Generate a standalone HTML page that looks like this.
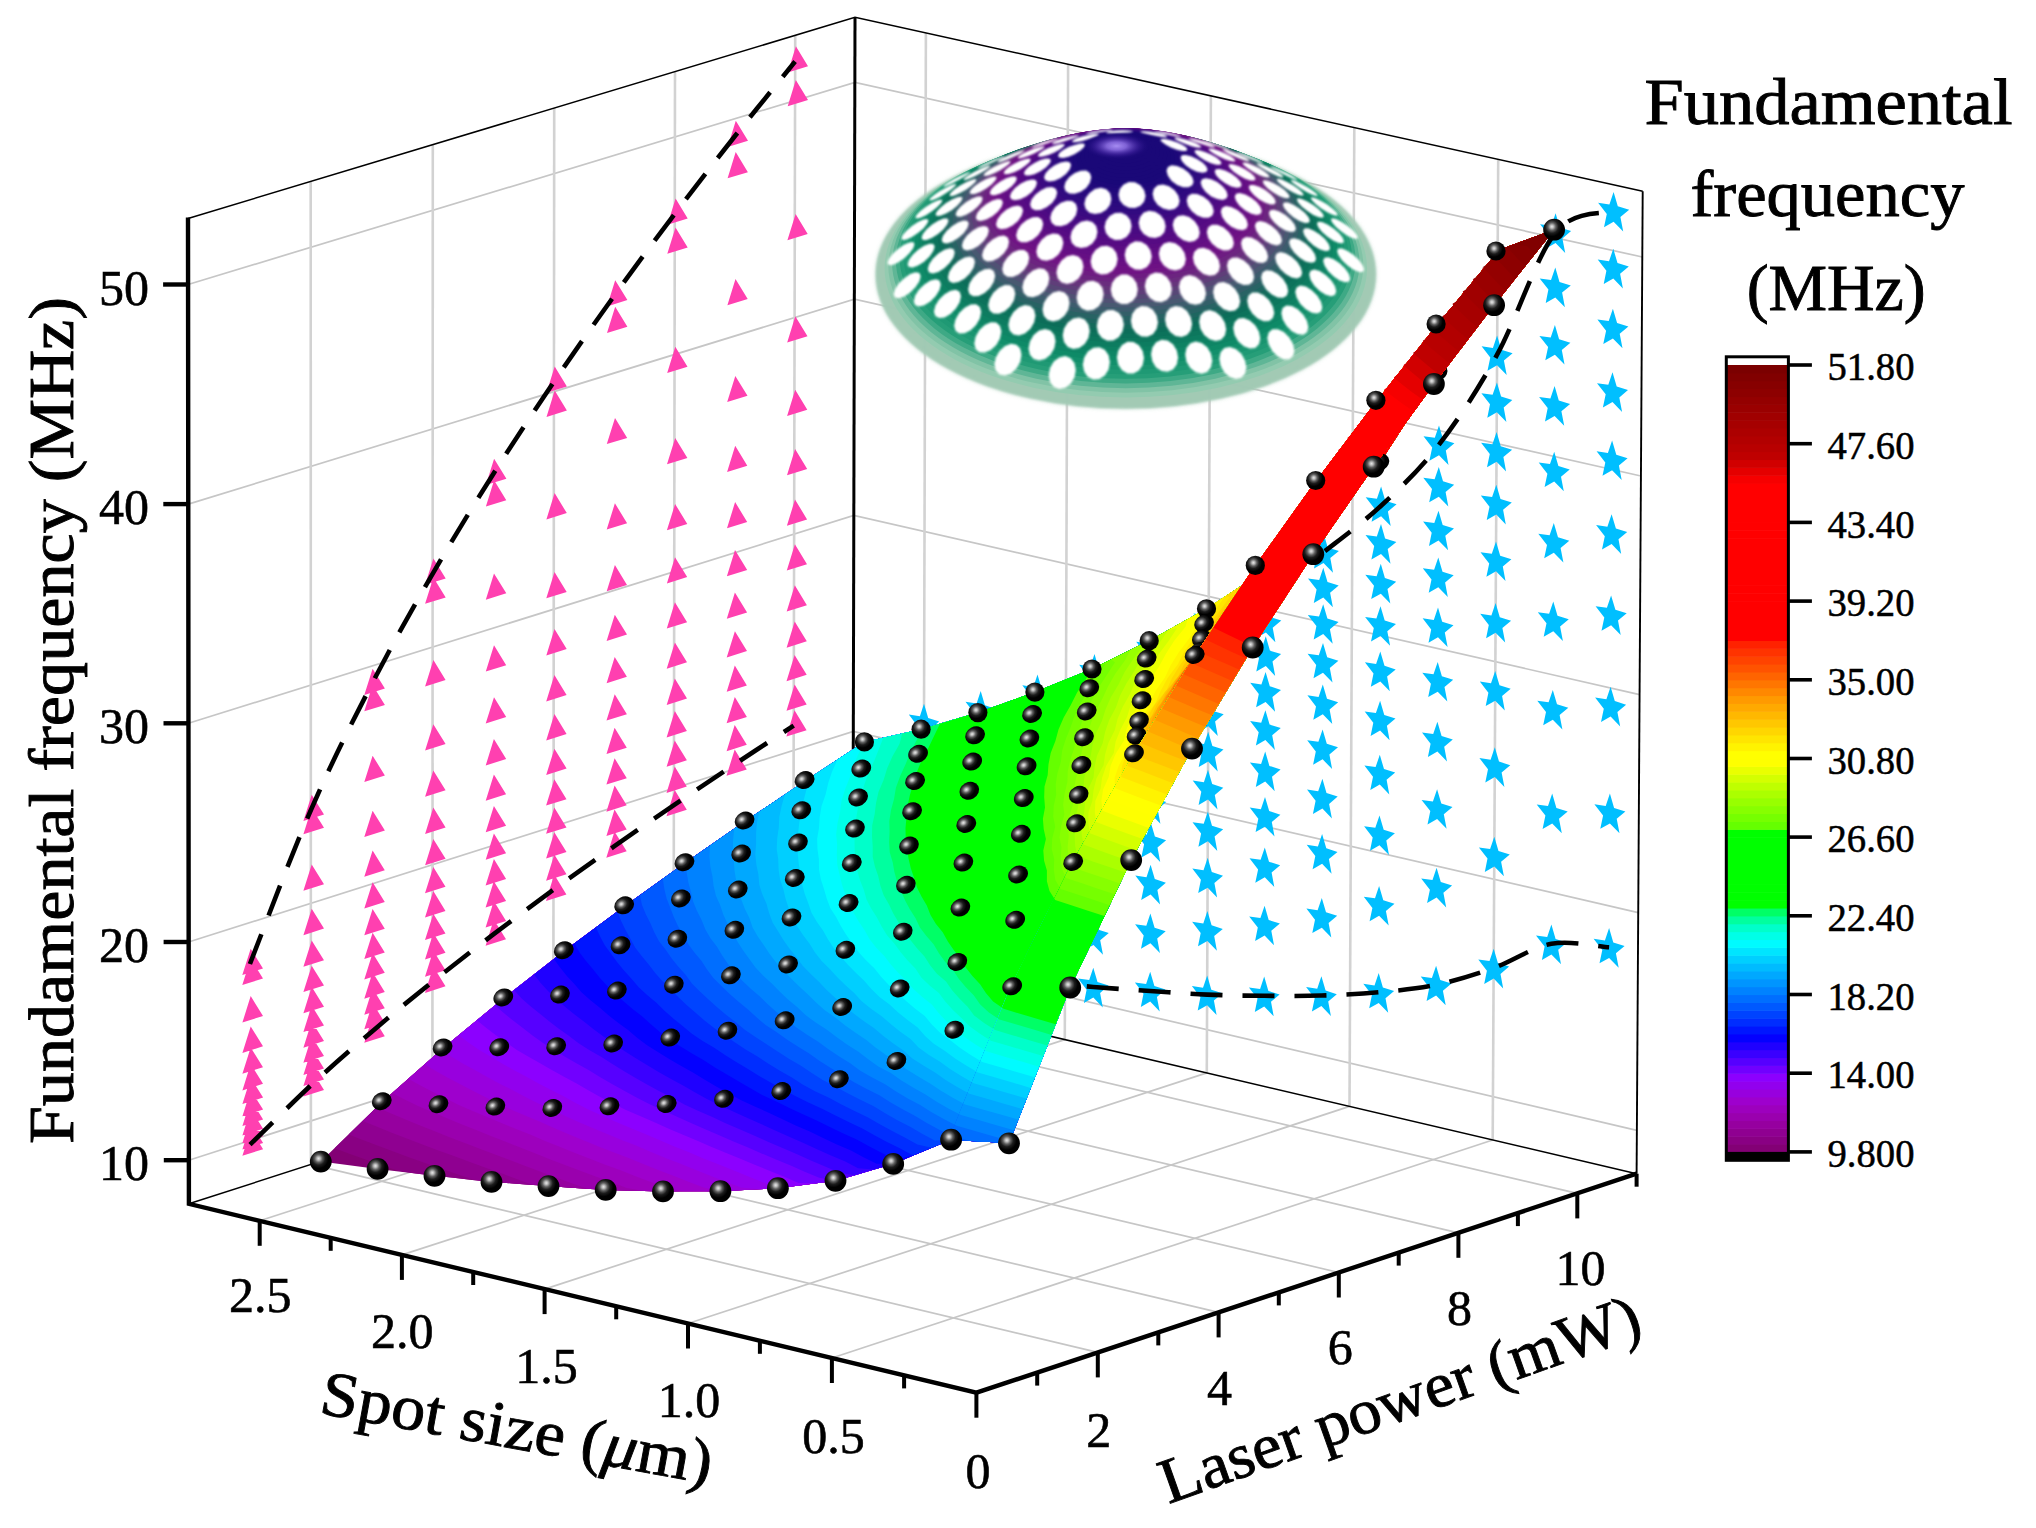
<!DOCTYPE html>
<html lang="en"><head><meta charset="utf-8"><title>Fundamental frequency vs spot size and laser power</title>
<style>html,body{margin:0;padding:0;background:#fff}body{width:2036px;height:1528px;overflow:hidden}</style></head>
<body>
<svg width="2036" height="1528" viewBox="0 0 2036 1528" style="display:block">
<rect width="2036" height="1528" fill="#fff"/>
<defs><radialGradient id="sg" cx="0.4" cy="0.36" r="0.6"><stop offset="0" stop-color="#e6e6e6"/><stop offset="0.12" stop-color="#bdbdbd"/><stop offset="0.3" stop-color="#5e5e5e"/><stop offset="0.5" stop-color="#1c1c1c"/><stop offset="0.75" stop-color="#000"/></radialGradient>
<filter id="bl" x="-10%" y="-10%" width="120%" height="120%"><feGaussianBlur stdDeviation="2"/></filter>
<filter id="bl1" x="-10%" y="-10%" width="120%" height="120%"><feGaussianBlur stdDeviation="0.8"/></filter>
<radialGradient id="capg" cx="0.5" cy="0.5" r="0.5"><stop offset="0" stop-color="#a68cf2"/><stop offset="0.3" stop-color="#8a6ce0" stop-opacity="0.9"/><stop offset="0.65" stop-color="#4a2aa8" stop-opacity="0.55"/><stop offset="1" stop-color="#1a0878" stop-opacity="0"/></radialGradient>
</defs>
<g fill="none" stroke="#c6c6c6" stroke-width="1.7">
<path d="M1097.8 1352.4L310.9 1164.4"/>
<path d="M1218.6 1312.4L432.4 1125.3"/>
<path d="M1338.8 1272.5L553.3 1086.3"/>
<path d="M1458.4 1232.8L673.5 1047.6"/>
<path d="M1577.3 1193.4L793.1 1009"/>
<path d="M259.7 1220.8L923.2 1006.4"/>
<path d="M401.9 1254.9L1064.8 1039.6"/>
<path d="M544.6 1289.1L1206.8 1072.9"/>
<path d="M688 1323.5L1349.5 1106.4"/>
<path d="M831.9 1358L1492.7 1140"/>
<path d="M188.8 1160.2L852.8 946.8L1636.8 1130.3"/>
<path d="M188.6 942L853.3 731.4L1638.2 912.6"/>
<path d="M188.5 723.3L853.8 515.5L1639.6 694.6"/>
<path d="M188.3 504.1L854.4 299.2L1640.9 476"/>
<path d="M188.1 284.5L854.9 82.4L1642.3 257"/>
</g>
<g fill="none" stroke="#d2d2d2" stroke-width="2.6">
<path d="M310.9 1164.4L310.7 181.5"/>
<path d="M432.4 1125.3L432.8 144.7"/>
<path d="M553.3 1086.3L554.2 108.1"/>
<path d="M673.5 1047.6L675 71.6"/>
<path d="M793.1 1009L795.2 35.4"/>
<path d="M923.2 1006.4L925.9 33"/>
<path d="M1064.8 1039.6L1068.1 64.3"/>
<path d="M1206.8 1072.9L1210.9 95.9"/>
<path d="M1349.5 1106.4L1354.3 127.5"/>
<path d="M1492.7 1140L1498.2 159.3"/>
</g>
<g fill="none" stroke="#000">
<path d="M188 218.5L855 17.3L1642.7 191.2" stroke-width="1.5"/>
<path d="M188.9 1203.8L852.7 989.8L1636.6 1173.7" stroke-width="1.5"/>
<path d="M1642.7 191.2L1636.6 1173.7" stroke-width="1.9"/>
<path d="M855 17.3L852.7 989.8" stroke-width="3"/>
</g>
<g>
<g fill="#b2d4c2" opacity="0.85" filter="url(#bl)"><ellipse cx="1125.8" cy="274.5" rx="250.0" ry="134.0"/><ellipse cx="1125.8" cy="271.8" rx="246.2" ry="132.0"/><ellipse cx="1125.8" cy="269.1" rx="242.5" ry="130.0"/><ellipse cx="1125.8" cy="266.4" rx="238.8" ry="128.0"/><ellipse cx="1125.8" cy="263.8" rx="235.0" ry="126.0"/></g>
<g fill="#a0c9b3" opacity="0.93" filter="url(#bl1)"><ellipse cx="1125.8" cy="274.5" rx="250.0" ry="134.0"/><ellipse cx="1125.8" cy="271.8" rx="246.2" ry="132.0"/><ellipse cx="1125.8" cy="269.1" rx="242.5" ry="130.0"/><ellipse cx="1125.8" cy="266.4" rx="238.8" ry="128.0"/><ellipse cx="1125.8" cy="263.8" rx="235.0" ry="126.0"/></g>
<ellipse cx="1125.8" cy="268.2" rx="241.2" ry="129.3" fill="#93cbb0"/>
<ellipse cx="1125.8" cy="265.5" rx="237.5" ry="127.3" fill="#81c3a6"/>
<ellipse cx="1125.8" cy="262.9" rx="233.7" ry="125.3" fill="#5fb696"/>
<ellipse cx="1125.8" cy="260.2" rx="229.9" ry="123.2" fill="#3ea985"/>
<ellipse cx="1125.8" cy="257.6" rx="226.2" ry="121.2" fill="#269e78"/>
<ellipse cx="1125.8" cy="255.0" rx="222.4" ry="119.2" fill="#1f9974"/>
<ellipse cx="1125.8" cy="252.5" rx="218.6" ry="117.2" fill="#19946f"/>
<ellipse cx="1125.8" cy="249.9" rx="214.9" ry="115.2" fill="#128f6b"/>
<ellipse cx="1125.8" cy="247.4" rx="211.1" ry="113.1" fill="#0e8a67"/>
<ellipse cx="1125.8" cy="244.9" rx="207.3" ry="111.1" fill="#0e8565"/>
<ellipse cx="1125.8" cy="242.4" rx="203.6" ry="109.1" fill="#0d8162"/>
<ellipse cx="1125.8" cy="239.9" rx="199.8" ry="107.1" fill="#0d7c60"/>
<ellipse cx="1125.8" cy="237.5" rx="196.0" ry="105.1" fill="#0d775d"/>
<ellipse cx="1125.8" cy="235.0" rx="192.2" ry="103.0" fill="#0c725b"/>
<ellipse cx="1125.8" cy="232.6" rx="188.5" ry="101.0" fill="#0c6d59"/>
<ellipse cx="1125.8" cy="230.3" rx="184.7" ry="99.0" fill="#146a5b"/>
<ellipse cx="1125.8" cy="227.9" rx="180.9" ry="97.0" fill="#1e6660"/>
<ellipse cx="1125.8" cy="225.6" rx="177.2" ry="95.0" fill="#286364"/>
<ellipse cx="1125.8" cy="223.2" rx="173.4" ry="92.9" fill="#335f68"/>
<ellipse cx="1125.8" cy="220.9" rx="169.6" ry="90.9" fill="#3d5c6d"/>
<ellipse cx="1125.8" cy="218.7" rx="165.9" ry="88.9" fill="#485971"/>
<ellipse cx="1125.8" cy="216.4" rx="162.1" ry="86.9" fill="#505174"/>
<ellipse cx="1125.8" cy="214.2" rx="158.3" ry="84.9" fill="#574776"/>
<ellipse cx="1125.8" cy="212.0" rx="154.6" ry="82.8" fill="#5f3e79"/>
<ellipse cx="1125.8" cy="209.8" rx="150.8" ry="80.8" fill="#66347b"/>
<ellipse cx="1125.8" cy="207.6" rx="147.0" ry="78.8" fill="#6a2c7e"/>
<ellipse cx="1125.8" cy="205.5" rx="143.2" ry="76.8" fill="#6c2480"/>
<ellipse cx="1125.8" cy="203.3" rx="139.5" ry="74.8" fill="#6e1c82"/>
<ellipse cx="1125.8" cy="201.2" rx="135.7" ry="72.7" fill="#701484"/>
<ellipse cx="1125.8" cy="199.1" rx="131.9" ry="70.7" fill="#6d1184"/>
<ellipse cx="1125.8" cy="197.1" rx="128.2" ry="68.7" fill="#691084"/>
<ellipse cx="1125.8" cy="195.0" rx="124.4" ry="66.7" fill="#650f84"/>
<ellipse cx="1125.8" cy="193.0" rx="120.6" ry="64.7" fill="#620e84"/>
<ellipse cx="1125.8" cy="191.0" rx="116.9" ry="62.6" fill="#5e0d83"/>
<ellipse cx="1125.8" cy="189.0" rx="113.1" ry="60.6" fill="#5a0c83"/>
<ellipse cx="1125.8" cy="187.1" rx="109.3" ry="58.6" fill="#560b83"/>
<ellipse cx="1125.8" cy="185.1" rx="105.5" ry="56.6" fill="#530a83"/>
<ellipse cx="1125.8" cy="183.2" rx="101.8" ry="54.6" fill="#4e0a83"/>
<ellipse cx="1125.8" cy="181.3" rx="98.0" ry="52.5" fill="#490a82"/>
<ellipse cx="1125.8" cy="179.4" rx="94.2" ry="50.5" fill="#450a82"/>
<ellipse cx="1125.8" cy="177.6" rx="90.5" ry="48.5" fill="#400a81"/>
<ellipse cx="1125.8" cy="175.8" rx="86.7" ry="46.5" fill="#3b0a81"/>
<ellipse cx="1125.8" cy="173.9" rx="82.9" ry="44.5" fill="#370a81"/>
<ellipse cx="1125.8" cy="172.1" rx="79.2" ry="42.4" fill="#320a80"/>
<ellipse cx="1125.8" cy="170.4" rx="75.4" ry="40.4" fill="#2e0a7f"/>
<ellipse cx="1125.8" cy="168.6" rx="71.6" ry="38.4" fill="#2b0a7e"/>
<ellipse cx="1125.8" cy="166.9" rx="67.9" ry="36.4" fill="#28097d"/>
<ellipse cx="1125.8" cy="165.2" rx="64.1" ry="34.3" fill="#25097c"/>
<ellipse cx="1125.8" cy="163.5" rx="60.3" ry="32.3" fill="#22097b"/>
<ellipse cx="1125.8" cy="161.8" rx="56.5" ry="30.3" fill="#1f087a"/>
<ellipse cx="1125.8" cy="160.2" rx="52.8" ry="28.3" fill="#1c0879"/>
<ellipse cx="1125.8" cy="158.6" rx="49.0" ry="26.3" fill="#1a0878"/>
<ellipse cx="1125.8" cy="157.0" rx="45.2" ry="24.2" fill="#1a0878"/>
<ellipse cx="1125.8" cy="155.4" rx="41.5" ry="22.2" fill="#1a0878"/>
<ellipse cx="1125.8" cy="153.8" rx="37.7" ry="20.2" fill="#1a0878"/>
<ellipse cx="1125.8" cy="152.3" rx="33.9" ry="18.2" fill="#1a0878"/>
<ellipse cx="1125.8" cy="150.8" rx="30.2" ry="16.2" fill="#1a0878"/>
<ellipse cx="1125.8" cy="149.3" rx="26.4" ry="14.1" fill="#1a0878"/>
<ellipse cx="1125.8" cy="147.8" rx="22.6" ry="12.1" fill="#1a0878"/>
<ellipse cx="1125.8" cy="146.4" rx="18.8" ry="10.1" fill="#1a0878"/>
<ellipse cx="1125.8" cy="144.9" rx="15.1" ry="8.1" fill="#1a0878"/>
<ellipse cx="1125.8" cy="143.5" rx="11.3" ry="6.1" fill="#1a0878"/>
<ellipse cx="1125.8" cy="142.1" rx="7.5" ry="4.0" fill="#1a0878"/>
<ellipse cx="1125.8" cy="140.8" rx="3.8" ry="2.0" fill="#1a0878"/>
<path fill="#fff" filter="url(#bl1)" d="M920.7 276.2L919.4 281.2L915.6 287.1L910.2 292.6L904.2 296.6L898.7 298.3L895 297.5L893.6 294.3L895 289.3L898.7 283.6L904.2 278.2L910.2 274.1L915.6 272.2L919.4 273zM940.9 284.4L939.5 289.9L935.8 296L930.4 301.5L924.3 305.2L918.9 306.5L915.1 305L913.8 301.3L915.1 295.8L918.9 289.8L924.3 284.4L930.4 280.6L935.8 279.2L939.5 280.6zM961 296.3L959.7 302.3L955.9 308.6L950.5 314L944.5 317.4L939.1 318.1L935.3 316.1L933.9 311.7L935.3 305.8L939.1 299.6L944.5 294.2L950.5 290.7L955.9 289.8L959.7 291.8zM981.2 312.1L979.9 318.5L976.1 325L970.7 330.2L964.6 333.2L959.2 333.4L955.5 330.7L954.1 325.7L955.5 319.4L959.2 313L964.6 307.7L970.7 304.6L976.1 304.3L979.9 307zM1001.4 331.6L1000 338.4L996.3 345L990.8 350.1L984.8 352.6L979.4 352.2L975.6 348.9L974.3 343.4L975.6 336.7L979.4 330.1L984.8 324.9L990.8 322.3L996.3 322.6L1000 326zM1021.5 354.8L1020.2 361.9L1016.4 368.6L1011 373.4L1005 375.5L999.5 374.5L995.8 370.6L994.4 364.6L995.8 357.5L999.5 350.9L1005 345.9L1011 343.7L1016.4 344.7L1020.2 348.6zM914.5 244.2L913.2 248.2L909.4 253.3L904 258.4L898 262.6L892.5 264.9L888.8 265L887.4 262.9L888.8 258.9L892.5 254L898 248.9L904 244.8L909.4 242.4L913.2 242.1zM934.7 246.6L933.3 251.1L929.6 256.5L924.1 261.7L918.1 265.6L912.7 267.6L908.9 267.1L907.6 264.4L908.9 260L912.7 254.8L918.1 249.7L924.1 245.7L929.6 243.7L933.3 244zM954.8 252.4L953.5 257.4L949.7 263.1L944.3 268.3L938.3 272L932.8 273.5L929.1 272.4L927.7 269.1L929.1 264.3L932.8 258.7L938.3 253.5L944.3 249.8L949.7 248.2L953.5 249.1zM975 262L973.7 267.6L969.9 273.5L964.5 278.7L958.4 282.1L953 283L949.2 281.3L947.9 277.4L949.2 272L953 266.1L958.4 261L964.5 257.5L969.9 256.4L973.7 258.1zM995.2 275.8L993.8 281.8L990.1 288L984.6 293L978.6 296L973.2 296.3L969.4 293.9L968.1 289.4L969.4 283.5L973.2 277.4L978.6 272.3L984.6 269.2L990.1 268.8L993.8 271.1zM1015.3 293.7L1014 300.2L1010.2 306.5L1004.8 311.3L998.8 313.8L993.3 313.5L989.6 310.5L988.2 305.3L989.6 299L993.3 292.7L998.8 287.7L1004.8 285.1L1010.2 285.3L1014 288.4zM1035.5 315.7L1034.1 322.5L1030.4 328.8L1024.9 333.5L1018.9 335.5L1013.5 334.6L1009.7 330.8L1008.4 325.1L1009.7 318.4L1013.5 312L1018.9 307.3L1024.9 305.1L1030.4 306L1034.1 309.8zM1055.6 341.3L1054.3 348.3L1050.5 354.7L1045.1 359.1L1039.1 360.6L1033.6 359.1L1029.9 354.8L1028.5 348.5L1029.9 341.5L1033.6 335.1L1039.1 330.6L1045.1 328.9L1050.5 330.4L1054.3 334.9zM1075.8 370L1074.5 377.3L1070.7 383.7L1065.3 387.8L1059.2 388.9L1053.8 386.9L1050 382L1048.7 375.3L1050 368L1053.8 361.6L1059.2 357.4L1065.3 356.1L1070.7 358.2L1074.5 363.2zM928.5 220.5L927.1 223.8L923.4 228.4L917.9 233.1L911.9 237.1L906.5 239.6L902.7 240.1L901.4 238.4L902.7 235.1L906.5 230.7L911.9 226.1L917.9 222.1L923.4 219.6L927.1 219zM948.6 220.5L947.3 224.3L943.5 229.2L938.1 234L932.1 237.8L926.6 239.9L922.9 239.9L921.5 237.7L922.9 234L926.6 229.3L932.1 224.5L938.1 220.7L943.5 218.5L947.3 218.4zM968.8 223.6L967.4 228L963.7 233.2L958.3 238.1L952.2 241.7L946.8 243.4L943 242.8L941.7 240L943 235.8L946.8 230.7L952.2 225.9L958.3 222.3L963.7 220.5L967.4 220.9zM988.9 230.5L987.6 235.5L983.8 241L978.4 246L972.4 249.3L967 250.4L963.2 249.2L961.9 245.8L963.2 240.9L967 235.6L972.4 230.7L978.4 227.3L983.8 226L987.6 227.1zM1009.1 241.8L1007.8 247.4L1004 253.2L998.6 258L992.5 261L987.1 261.5L983.4 259.5L982 255.4L983.4 250L987.1 244.3L992.5 239.4L998.6 236.3L1004 235.6L1007.8 237.6zM1029.3 257.8L1027.9 263.9L1024.2 269.8L1018.7 274.5L1012.7 277L1007.3 276.8L1003.5 274.1L1002.2 269.3L1003.5 263.3L1007.3 257.4L1012.7 252.6L1018.7 250L1024.2 250L1027.9 252.8zM1049.4 278.3L1048.1 284.8L1044.3 290.9L1038.9 295.3L1032.9 297.2L1027.4 296.4L1023.7 292.9L1022.3 287.4L1023.7 281.1L1027.4 275L1032.9 270.4L1038.9 268.3L1044.3 269.1L1048.1 272.7zM1069.6 303L1068.3 309.8L1064.5 315.8L1059.1 319.9L1053 321.4L1047.6 319.9L1043.8 315.7L1042.5 309.7L1043.8 303L1047.6 296.9L1053 292.6L1059.1 291L1064.5 292.5L1068.3 296.8zM1089.8 331.1L1088.4 338.1L1084.7 344.1L1079.2 348L1073.2 348.9L1067.8 346.9L1064 342.1L1062.7 335.6L1064 328.6L1067.8 322.5L1073.2 318.5L1079.2 317.5L1084.7 319.6L1088.4 324.5zM1109.9 362.2L1108.6 369.4L1104.8 375.4L1099.4 378.9L1093.4 379.5L1087.9 376.9L1084.2 371.6L1082.8 364.7L1084.2 357.5L1087.9 351.5L1093.4 347.7L1099.4 347.2L1104.8 349.8L1108.6 355.2zM942.4 200.5L941.1 203.1L937.3 207L931.9 211.3L925.9 215.2L920.4 217.7L916.7 218.5L915.3 217.5L916.7 214.7L920.4 210.9L925.9 206.8L931.9 203L937.3 200.4L941.1 199.5zM962.6 198.1L961.2 201.2L957.5 205.4L952 209.9L946 213.6L940.6 215.8L936.8 216.1L935.5 214.6L936.8 211.4L940.6 207.4L946 203.1L952 199.5L957.5 197.2L961.2 196.7zM982.7 198.5L981.4 202.2L977.6 206.8L972.2 211.3L966.2 214.8L960.7 216.7L957 216.5L955.6 214.4L957 210.8L960.7 206.4L966.2 202L972.2 198.5L977.6 196.5L981.4 196.5zM1002.9 202.4L1001.6 206.7L997.8 211.7L992.4 216.3L986.3 219.6L980.9 221L977.1 220.2L975.8 217.4L977.1 213.2L980.9 208.4L986.3 203.9L992.4 200.6L997.8 199L1001.6 199.6zM1023.1 210.5L1021.7 215.5L1018 220.9L1012.5 225.6L1006.5 228.5L1001.1 229.3L997.3 227.7L996 224.2L997.3 219.4L1001.1 214.2L1006.5 209.6L1012.5 206.5L1018 205.5L1021.7 206.9zM1043.2 223.9L1041.9 229.6L1038.1 235.2L1032.7 239.7L1026.7 242.2L1021.2 242.2L1017.5 239.9L1016.1 235.5L1017.5 230.1L1021.2 224.5L1026.7 219.9L1032.7 217.2L1038.1 217L1041.9 219.4zM1063.4 242.8L1062 248.9L1058.3 254.7L1052.8 258.9L1046.8 260.8L1041.4 260.1L1037.6 256.8L1036.3 251.7L1037.6 245.7L1041.4 240L1046.8 235.6L1052.8 233.4L1058.3 234.1L1062 237.5zM1083.5 266.5L1082.2 273L1078.4 278.7L1073 282.6L1067 283.9L1061.5 282.4L1057.8 278.4L1056.4 272.6L1057.8 266.2L1061.5 260.4L1067 256.3L1073 254.9L1078.4 256.4L1082.2 260.6zM1103.7 294.1L1102.4 300.8L1098.6 306.4L1093.2 310L1087.1 310.8L1081.7 308.6L1077.9 304L1076.6 297.7L1077.9 291L1081.7 285.2L1087.1 281.5L1093.2 280.7L1098.6 282.9L1102.4 287.7zM1123.9 324.8L1122.5 331.6L1118.8 337.2L1113.3 340.5L1107.3 340.8L1101.9 338.1L1098.1 332.9L1096.8 326.2L1098.1 319.3L1101.9 313.6L1107.3 310.2L1113.3 309.9L1118.8 312.7L1122.5 318zM1144 358L1142.7 365L1138.9 370.6L1133.5 373.6L1127.5 373.5L1122 370.3L1118.3 364.7L1116.9 357.6L1118.3 350.6L1122 344.9L1127.5 341.8L1133.5 341.9L1138.9 345.2L1142.7 350.9zM956.4 184.3L955 186.3L951.3 189.5L945.8 193.3L939.8 196.9L934.4 199.5L930.6 200.6L929.3 200.1L930.6 198L934.4 194.8L939.8 191.1L945.8 187.7L951.3 185.1L955 183.9zM976.5 179.9L975.2 182.3L971.4 185.8L966 189.7L960 193.1L954.5 195.5L950.8 196.2L949.4 195.2L950.8 192.7L954.5 189.3L960 185.6L966 182.2L971.4 179.9L975.2 179zM996.7 177.8L995.3 180.6L991.6 184.5L986.2 188.5L980.1 191.9L974.7 193.9L970.9 194.1L969.6 192.7L970.9 189.8L974.7 186.1L980.1 182.2L986.2 179L991.6 176.9L995.3 176.5zM1016.9 178.4L1015.5 181.9L1011.8 186.2L1006.3 190.4L1000.3 193.6L994.9 195.2L991.1 195L989.8 192.9L991.1 189.5L994.9 185.4L1000.3 181.4L1006.3 178.2L1011.8 176.5L1015.5 176.5zM1037 182.8L1035.7 187.1L1031.9 191.9L1026.5 196.3L1020.4 199.3L1015 200.3L1011.3 199.3L1009.9 196.5L1011.3 192.5L1015 187.9L1020.4 183.7L1026.5 180.7L1031.9 179.4L1035.7 180.1zM1057.2 192.6L1055.8 197.7L1052.1 203L1046.6 207.3L1040.6 209.9L1035.2 210.2L1031.4 208.3L1030.1 204.6L1031.4 199.7L1035.2 194.7L1040.6 190.4L1046.6 187.6L1052.1 187L1055.8 188.7zM1077.3 209.1L1076 214.9L1072.2 220.3L1066.8 224.4L1060.8 226.3L1055.3 225.7L1051.6 222.7L1050.2 218.1L1051.6 212.5L1055.3 207.1L1060.8 202.8L1066.8 200.7L1072.2 201.1L1076 204.1zM1097.5 231.8L1096.2 238L1092.4 243.4L1087 247L1080.9 248.1L1075.5 246.6L1071.7 242.8L1070.4 237.3L1071.7 231.3L1075.5 225.7L1080.9 221.8L1087 220.5L1092.4 222L1096.2 226.1zM1117.7 259L1116.3 265.4L1112.6 270.7L1107.1 273.9L1101.1 274.4L1095.7 272.2L1091.9 267.6L1090.6 261.6L1091.9 255.2L1095.7 249.7L1101.1 246.3L1107.1 245.7L1112.6 248L1116.3 252.8zM1137.8 289.5L1136.5 296L1132.7 301.1L1127.3 304L1121.3 304L1115.8 301.2L1112.1 296.1L1110.7 289.6L1112.1 283L1115.8 277.7L1121.3 274.6L1127.3 274.6L1132.7 277.6L1136.5 282.9zM1158 322.4L1156.6 329.1L1152.9 334.2L1147.4 336.8L1141.4 336.4L1136 333.1L1132.2 327.5L1130.9 320.7L1132.2 313.9L1136 308.7L1141.4 306L1147.4 306.4L1152.9 309.8L1156.6 315.5zM1178.1 357.6L1176.8 364.4L1173 369.4L1167.6 371.8L1161.6 371.1L1156.1 367.4L1152.4 361.4L1151 354.2L1152.4 347.4L1156.1 342.2L1161.6 339.7L1167.6 340.5L1173 344.3L1176.8 350.4zM970.3 171.9L969 173.3L965.2 175.9L959.8 179.2L953.8 182.4L948.3 185L944.6 186.4L943.2 186.3L944.6 184.8L948.3 182.3L953.8 179.1L959.8 176L965.2 173.4L969 172zM990.5 165.9L989.1 167.5L985.4 170.3L979.9 173.6L973.9 176.8L968.5 179.1L964.7 180.2L963.4 179.7L964.7 177.9L968.5 175.2L973.9 172L979.9 169L985.4 166.7L989.1 165.6zM1010.6 161.7L1009.3 163.8L1005.5 166.8L1000.1 170.2L994.1 173.3L988.6 175.4L984.9 176L983.5 175.2L984.9 173L988.6 170.1L994.1 166.8L1000.1 163.9L1005.5 161.9L1009.3 161.1zM1030.8 159.8L1029.5 162.2L1025.7 165.6L1020.3 169.2L1014.2 172.2L1008.8 174L1005 174.2L1003.7 172.9L1005 170.3L1008.8 167L1014.2 163.7L1020.3 160.8L1025.7 159.1L1029.5 158.6zM1051 160.4L1049.6 163.5L1045.9 167.5L1040.4 171.3L1034.4 174.2L1029 175.6L1025.2 175.3L1023.9 173.3L1025.2 170.2L1029 166.5L1034.4 162.9L1040.4 160.1L1045.9 158.6L1049.6 158.7zM1071.1 165.1L1069.8 169.3L1066 173.9L1060.6 178L1054.6 180.7L1049.1 181.5L1045.4 180.2L1044 177.4L1045.4 173.4L1049.1 169.2L1054.6 165.3L1060.6 162.6L1066 161.5L1069.8 162.3zM1091.3 177.3L1089.9 182.7L1086.2 187.9L1080.8 191.8L1074.7 193.8L1069.3 193.5L1065.5 191L1064.2 187L1065.5 182L1069.3 177.1L1074.7 173L1080.8 170.7L1086.2 170.6L1089.9 172.9zM1111.4 198.9L1110.1 204.8L1106.3 209.8L1100.9 213.1L1094.9 214.1L1089.5 212.7L1085.7 209L1084.3 203.9L1085.7 198.1L1089.5 192.9L1094.9 189.1L1100.9 187.8L1106.3 189.3L1110.1 193.3zM1131.6 226.1L1130.3 232.1L1126.5 237L1121.1 239.7L1115 240L1109.6 237.6L1105.9 233.1L1104.5 227.2L1105.9 221.1L1109.6 216L1115 213L1121.1 212.7L1126.5 215.3L1130.3 220.1zM1151.8 256.5L1150.4 262.6L1146.7 267.3L1141.2 269.7L1135.2 269.4L1129.8 266.4L1126 261.3L1124.7 255L1126 248.8L1129.8 243.9L1135.2 241.3L1141.2 241.7L1146.7 244.9L1150.4 250.2zM1171.9 289.3L1170.6 295.5L1166.8 300.1L1161.4 302.3L1155.4 301.6L1149.9 298.1L1146.2 292.5L1144.8 285.9L1146.2 279.5L1149.9 274.7L1155.4 272.5L1161.4 273.3L1166.8 277L1170.6 282.7zM1192.1 324.1L1190.7 330.4L1187 335L1181.6 337L1175.5 335.9L1170.1 332.1L1166.3 326.1L1165 319.2L1166.3 312.7L1170.1 308L1175.5 306L1181.6 307.1L1187 311.1L1190.7 317.2zM1212.3 360.8L1210.9 367.3L1207.2 371.9L1201.7 373.7L1195.7 372.3L1190.3 368.1L1186.5 361.8L1185.2 354.6L1186.5 348L1190.3 343.3L1195.7 341.4L1201.7 342.9L1207.2 347.2L1210.9 353.6zM1004.4 155.9L1003.1 156.9L999.3 159L993.9 161.7L987.9 164.5L982.4 166.8L978.7 168.1L977.3 168.1L978.7 167L982.4 164.8L987.9 162.2L993.9 159.6L999.3 157.4L1003.1 156.1zM1024.6 150.4L1023.3 151.6L1019.5 153.9L1014.1 156.6L1008 159.3L1002.6 161.3L998.8 162.3L997.5 162L998.8 160.5L1002.6 158.3L1008 155.7L1014.1 153.2L1019.5 151.2L1023.3 150.2zM1044.8 146.6L1043.4 148.2L1039.7 150.6L1034.2 153.4L1028.2 156L1022.8 157.8L1019 158.4L1017.7 157.8L1019 156L1022.8 153.6L1028.2 150.9L1034.2 148.5L1039.7 146.9L1043.4 146.2zM1064.9 144.7L1063.6 146.6L1059.8 149.4L1054.4 152.4L1048.4 154.9L1042.9 156.5L1039.2 156.7L1037.8 155.6L1039.2 153.4L1042.9 150.7L1048.4 148L1054.4 145.7L1059.8 144.3L1063.6 143.9zM1085.1 144.9L1083.7 147.5L1080 150.8L1074.5 154.2L1068.5 156.8L1063.1 158L1059.3 157.6L1058 155.9L1059.3 153.1L1063.1 150L1068.5 147.1L1074.5 144.9L1080 143.6L1083.7 143.6zM1145.6 196.1L1144.2 201.6L1140.5 205.8L1135 208L1129 207.7L1123.6 205.1L1119.8 200.5L1118.5 194.8L1119.8 189.1L1123.6 184.4L1129 181.9L1135 182.2L1140.5 185.3L1144.2 190.3zM1165.7 226.6L1164.4 232.2L1160.6 236.3L1155.2 238.1L1149.2 237.3L1143.7 234.1L1140 228.9L1138.6 222.8L1140 217L1143.7 212.6L1149.2 210.7L1155.2 211.7L1160.6 215.2L1164.4 220.6zM1185.9 259.2L1184.5 264.9L1180.8 268.9L1175.3 270.5L1169.3 269.3L1163.9 265.6L1160.1 260.1L1158.8 253.7L1160.1 247.8L1163.9 243.5L1169.3 241.9L1175.3 243.2L1180.8 247.2L1184.5 252.8zM1206 293.5L1204.7 299.3L1200.9 303.4L1195.5 304.8L1189.5 303.4L1184 299.3L1180.3 293.4L1178.9 286.7L1180.3 280.7L1184 276.5L1189.5 275.1L1195.5 276.7L1200.9 280.9L1204.7 286.9zM1226.2 329.6L1224.9 335.6L1221.1 339.7L1215.7 341L1209.6 339.3L1204.2 334.9L1200.4 328.7L1199.1 321.7L1200.4 315.6L1204.2 311.4L1209.6 310.1L1215.7 311.9L1221.1 316.4L1224.9 322.8zM1246.4 367.5L1245 373.7L1241.3 377.8L1235.8 379L1229.8 377.1L1224.4 372.4L1220.6 365.8L1219.3 358.6L1220.6 352.3L1224.4 348.1L1229.8 346.9L1235.8 348.9L1241.3 353.7L1245 360.4zM1058.7 138.4L1057.4 139.2L1053.6 140.8L1048.2 142.9L1042.1 144.9L1036.7 146.6L1032.9 147.4L1031.6 147.3L1032.9 146.3L1036.7 144.6L1042.1 142.6L1048.2 140.7L1053.6 139.2L1057.4 138.4zM1078.9 135.5L1077.5 136.5L1073.8 138.1L1068.3 140.1L1062.3 142L1056.9 143.4L1053.1 144L1051.8 143.5L1053.1 142.3L1056.9 140.5L1062.3 138.6L1068.3 136.9L1073.8 135.7L1077.5 135.2zM1099 134.3L1097.7 135.5L1093.9 137.1L1088.5 139.1L1082.5 141L1077 142.1L1073.3 142.3L1071.9 141.5L1073.3 140L1077 138.1L1082.5 136.3L1088.5 134.9L1093.9 134L1097.7 133.9zM1179.7 201L1178.3 205.8L1174.6 209L1169.1 210L1163.1 208.5L1157.7 204.9L1153.9 199.6L1152.6 193.8L1153.9 188.7L1157.7 185.3L1163.1 184.5L1169.1 186.3L1174.6 190.3L1178.3 195.5zM1199.8 232.8L1198.5 237.8L1194.7 241.1L1189.3 242L1183.3 240.3L1177.8 236.3L1174.1 230.8L1172.7 224.7L1174.1 219.4L1177.8 216L1183.3 215.2L1189.3 217.1L1194.7 221.3L1198.5 226.9zM1220 266.3L1218.7 271.5L1214.9 274.9L1209.5 275.8L1203.4 273.9L1198 269.6L1194.2 263.7L1192.9 257.4L1194.2 251.9L1198 248.5L1203.4 247.7L1209.5 249.8L1214.9 254.2L1218.7 260.1zM1240.2 301.6L1238.8 307.1L1235.1 310.5L1229.6 311.3L1223.6 309.2L1218.2 304.6L1214.4 298.5L1213.1 291.9L1214.4 286.2L1218.2 282.7L1223.6 281.9L1229.6 284.2L1235.1 288.9L1238.8 295.1zM1260.3 338.6L1259 344.3L1255.2 347.9L1249.8 348.6L1243.8 346.3L1238.3 341.4L1234.6 334.9L1233.2 328.1L1234.6 322.2L1238.3 318.6L1243.8 318L1249.8 320.4L1255.2 325.3L1259 331.8zM1113 129.7L1111.6 130.2L1107.9 130.9L1102.4 131.8L1096.4 132.7L1091 133.5L1087.2 133.8L1085.9 133.6L1087.2 132.8L1091 131.8L1096.4 130.9L1102.4 130.1L1107.9 129.6L1111.6 129.5zM1133.1 131.5L1131.8 132L1128 132.4L1122.6 132.7L1116.6 133.1L1111.1 133.3L1107.4 133.2L1106 132.7L1107.4 131.9L1111.1 131.1L1116.6 130.5L1122.6 130.2L1128 130.4L1131.8 130.9zM1193.6 181.8L1192.3 185.3L1188.5 187.3L1183.1 187.2L1177.1 184.9L1171.6 180.9L1167.9 175.8L1166.5 170.8L1167.9 167.1L1171.6 165.3L1177.1 165.9L1183.1 168.5L1188.5 172.5L1192.3 177.2zM1213.8 211.2L1212.4 215.4L1208.7 217.7L1203.2 217.8L1197.2 215.5L1191.8 211.3L1188 205.9L1186.7 200.4L1188 196L1191.8 193.7L1197.2 193.9L1203.2 196.4L1208.7 200.8L1212.4 206zM1233.9 243.2L1232.6 247.7L1228.8 250.3L1223.4 250.5L1217.4 248.1L1211.9 243.6L1208.2 237.9L1206.8 232L1208.2 227.3L1211.9 224.7L1217.4 224.7L1223.4 227.3L1228.8 231.9L1232.6 237.5zM1254.1 277.1L1252.8 282L1249 284.8L1243.6 285L1237.5 282.5L1232.1 277.7L1228.3 271.7L1227 265.5L1228.3 260.5L1232.1 257.7L1237.5 257.6L1243.6 260.3L1249 265.1L1252.8 271.1zM1274.3 313L1272.9 318.1L1269.2 321.1L1263.7 321.3L1257.7 318.6L1252.3 313.6L1248.5 307.3L1247.2 300.8L1248.5 295.5L1252.3 292.5L1257.7 292.5L1263.7 295.3L1269.2 300.3L1272.9 306.7zM1294.4 350.7L1293.1 356.1L1289.3 359.2L1283.9 359.4L1277.9 356.5L1272.4 351.3L1268.7 344.6L1267.3 337.9L1268.7 332.4L1272.4 329.2L1277.9 329.2L1283.9 332.1L1289.3 337.4L1293.1 344.1zM1167.3 136.7L1165.9 137.2L1162.1 137L1156.7 136.1L1150.7 134.8L1145.3 133.5L1141.5 132.5L1140.2 131.7L1141.5 131.3L1145.3 131.3L1150.7 131.8L1156.7 132.8L1162.1 134.1L1165.9 135.5zM1187.4 149.5L1186.1 150.9L1182.3 151L1176.9 149.8L1170.8 147.4L1165.4 144.5L1161.7 141.8L1160.3 139.9L1161.7 139L1165.4 139.1L1170.8 140.2L1176.9 142.2L1182.3 144.7L1186.1 147.3zM1207.6 169.7L1206.2 172.1L1202.5 172.8L1197 171.8L1191 169.1L1185.6 165.2L1181.8 160.9L1180.5 157.4L1181.8 155.3L1185.6 154.9L1191 156.2L1197 158.9L1202.5 162.4L1206.2 166.3zM1227.7 195.4L1226.4 198.5L1222.6 199.9L1217.2 199.1L1211.2 196.4L1205.7 192L1202 187L1200.6 182.5L1202 179.3L1205.7 178.2L1211.2 179.2L1217.2 182.1L1222.6 186.3L1226.4 191zM1247.9 224.7L1246.6 228.4L1242.8 230.2L1237.4 229.6L1231.3 226.8L1225.9 222.2L1222.1 216.8L1220.8 211.6L1222.1 207.7L1225.9 206.1L1231.3 206.9L1237.4 209.9L1242.8 214.5L1246.6 219.7zM1268.1 256.7L1266.7 260.9L1263 263L1257.5 262.5L1251.5 259.6L1246.1 254.8L1242.3 248.9L1241 243.3L1242.3 239L1246.1 237L1251.5 237.6L1257.5 240.7L1263 245.6L1266.7 251.3zM1288.2 291L1286.9 295.5L1283.1 297.8L1277.7 297.5L1271.7 294.4L1266.2 289.4L1262.5 283.2L1261.1 277.2L1262.5 272.5L1266.2 270.3L1271.7 270.8L1277.7 273.9L1283.1 279.1L1286.9 285.2zM1308.4 327.4L1307 332.2L1303.3 334.7L1297.8 334.3L1291.8 331.2L1286.4 325.8L1282.6 319.3L1281.3 313L1282.6 308.1L1286.4 305.6L1291.8 306L1297.8 309.3L1303.3 314.7L1307 321.1zM1181.2 136.6L1179.9 136.8L1176.1 136.3L1170.7 135.2L1164.6 133.9L1159.2 132.6L1155.4 131.6L1154.1 131L1155.4 130.9L1159.2 131.3L1164.6 132.1L1170.7 133.2L1176.1 134.5L1179.9 135.7zM1201.4 147L1200 147.8L1196.3 147.4L1190.8 146L1184.8 143.8L1179.4 141.4L1175.6 139.4L1174.3 138L1175.6 137.6L1179.4 138L1184.8 139.2L1190.8 141.1L1196.3 143.3L1200 145.4zM1221.5 163.3L1220.2 164.8L1216.4 164.8L1211 163.2L1205 160.5L1199.5 157L1195.8 153.7L1194.4 151.3L1195.8 150.1L1199.5 150.3L1205 151.9L1211 154.4L1216.4 157.5L1220.2 160.7zM1241.7 185L1240.3 187.2L1236.6 187.7L1231.2 186.4L1225.1 183.3L1219.7 179.2L1215.9 174.9L1214.6 171.3L1215.9 169.2L1219.7 169L1225.1 170.6L1231.2 173.6L1236.6 177.4L1240.3 181.5zM1261.8 211.1L1260.5 214L1256.7 215L1251.3 213.8L1245.3 210.6L1239.8 206L1236.1 201L1234.7 196.7L1236.1 193.8L1239.8 193.1L1245.3 194.5L1251.3 197.7L1256.7 202.1L1260.5 206.9zM1282 240.6L1280.7 244L1276.9 245.4L1271.5 244.3L1265.4 241.1L1260 236.2L1256.3 230.7L1254.9 225.7L1256.3 222.3L1260 221.1L1265.4 222.3L1271.5 225.7L1276.9 230.5L1280.7 235.8zM1302.2 272.9L1300.8 276.7L1297.1 278.4L1291.6 277.4L1285.6 274.1L1280.2 269L1276.4 263L1275.1 257.6L1276.4 253.7L1280.2 252.1L1285.6 253.2L1291.6 256.7L1297.1 261.8L1300.8 267.6zM1322.3 307.5L1321 311.8L1317.2 313.6L1311.8 312.7L1305.8 309.3L1300.3 303.9L1296.6 297.6L1295.2 291.7L1296.6 287.5L1300.3 285.6L1305.8 286.6L1311.8 290.2L1317.2 295.6L1321 301.8zM1215.3 147.1L1214 147.4L1210.2 146.7L1204.8 145.1L1198.8 143L1193.3 140.9L1189.6 139.1L1188.2 138.2L1189.6 138L1193.3 138.7L1198.8 140.1L1204.8 142L1210.2 144.1L1214 145.9zM1235.5 160.7L1234.1 161.5L1230.4 161L1224.9 159.2L1218.9 156.5L1213.5 153.5L1209.7 150.8L1208.4 149L1209.7 148.4L1213.5 149L1218.9 150.7L1224.9 153.2L1230.4 156L1234.1 158.7zM1255.6 179.1L1254.3 180.6L1250.5 180.5L1245.1 178.7L1239.1 175.5L1233.6 171.8L1229.9 168.1L1228.5 165.4L1229.9 164.1L1233.6 164.4L1239.1 166.3L1245.1 169.3L1250.5 172.8L1254.3 176.3zM1275.8 202L1274.5 204.2L1270.7 204.4L1265.3 202.7L1259.2 199.4L1253.8 195L1250 190.6L1248.7 187L1250 185L1253.8 184.9L1259.2 186.8L1265.3 190.1L1270.7 194.3L1274.5 198.5zM1296 228.8L1294.6 231.5L1290.9 232.1L1285.4 230.5L1279.4 227L1274 222.2L1270.2 217.2L1268.9 212.9L1270.2 210.3L1274 209.8L1279.4 211.5L1285.4 215.1L1290.9 219.7L1294.6 224.6zM1316.1 258.7L1314.8 261.9L1311 262.8L1305.6 261.4L1299.6 257.7L1294.1 252.6L1290.4 247.1L1289 242.2L1290.4 239.1L1294.1 238.2L1299.6 239.8L1305.6 243.5L1311 248.5L1314.8 254zM1336.3 291.3L1334.9 294.9L1331.2 296.2L1325.7 294.8L1319.7 291.1L1314.3 285.7L1310.5 279.7L1309.2 274.3L1310.5 270.7L1314.3 269.6L1319.7 271.1L1325.7 274.9L1331.2 280.2L1334.9 286.1zM1229.3 149.2L1227.9 149.2L1224.2 148.1L1218.7 146.4L1212.7 144.3L1207.3 142.3L1203.5 140.8L1202.2 140.1L1203.5 140.3L1207.3 141.3L1212.7 142.9L1218.7 144.9L1224.2 146.8L1227.9 148.4zM1249.4 160.8L1248.1 161.2L1244.3 160.3L1238.9 158.3L1232.9 155.7L1227.4 152.9L1223.7 150.6L1222.3 149.3L1223.7 149.1L1227.4 150L1232.9 151.9L1238.9 154.4L1244.3 157L1248.1 159.3zM1269.6 176.7L1268.2 177.6L1264.5 177L1259.1 174.9L1253 171.8L1247.6 168.3L1243.8 165.2L1242.5 163.1L1243.8 162.4L1247.6 163.1L1253 165.2L1259.1 168.1L1264.5 171.4L1268.2 174.5zM1289.7 196.8L1288.4 198.3L1284.6 198L1279.2 195.9L1273.2 192.5L1267.8 188.4L1264 184.4L1262.7 181.6L1264 180.3L1267.8 180.7L1273.2 182.9L1279.2 186.2L1284.6 190.1L1288.4 193.9zM1309.9 220.8L1308.6 222.8L1304.8 222.9L1299.4 220.9L1293.3 217.2L1287.9 212.6L1284.2 208L1282.8 204.4L1284.2 202.5L1287.9 202.6L1293.3 204.7L1299.4 208.4L1304.8 212.8L1308.6 217.3zM1330.1 248.3L1328.7 250.8L1325 251.1L1319.5 249.2L1313.5 245.4L1308.1 240.4L1304.3 235.2L1303 231L1304.3 228.5L1308.1 228.3L1313.5 230.4L1319.5 234.2L1325 239.1L1328.7 244.1zM1350.2 278.7L1348.9 281.7L1345.1 282.3L1339.7 280.5L1333.7 276.5L1328.2 271.2L1324.5 265.6L1323.1 260.8L1324.5 257.8L1328.2 257.3L1333.7 259.2L1339.7 263.2L1345.1 268.5L1348.9 274zM1263.4 163.2L1262 163.2L1258.3 162L1252.8 159.8L1246.8 157.2L1241.4 154.6L1237.6 152.7L1236.3 151.7L1237.6 151.9L1241.4 153.1L1246.8 155.1L1252.8 157.6L1258.3 160.1L1262 162.1zM1283.5 177.1L1282.2 177.5L1278.4 176.4L1273 174.1L1267 171L1261.5 167.8L1257.8 165.1L1256.4 163.5L1257.8 163.2L1261.5 164.3L1267 166.6L1273 169.5L1278.4 172.6L1282.2 175.3zM1303.7 194.8L1302.4 195.7L1298.6 194.9L1293.2 192.6L1287.1 189.1L1281.7 185.2L1277.9 181.8L1276.6 179.5L1277.9 178.7L1281.7 179.6L1287.1 182L1293.2 185.3L1298.6 189L1302.4 192.4zM1323.9 216.3L1322.5 217.7L1318.8 217.2L1313.3 214.9L1307.3 211.1L1301.9 206.8L1298.1 202.6L1296.8 199.6L1298.1 198.3L1301.9 199L1307.3 201.4L1313.3 205L1318.8 209.3L1322.5 213.3zM1344 241.4L1342.7 243.3L1338.9 243.1L1333.5 240.8L1327.5 236.8L1322 231.9L1318.3 227.2L1316.9 223.6L1318.3 221.8L1322 222.1L1327.5 224.5L1333.5 228.4L1338.9 233.1L1342.7 237.8zM1364.2 269.6L1362.8 271.9L1359.1 272L1353.6 269.8L1347.6 265.6L1342.2 260.4L1338.4 255.1L1337.1 250.9L1338.4 248.6L1342.2 248.6L1347.6 251L1353.6 255.1L1359.1 260.3L1362.8 265.4zM1297.5 179.8L1296.1 179.8L1292.4 178.4L1287 175.9L1280.9 172.8L1275.5 169.8L1271.7 167.4L1270.4 166.2L1271.7 166.3L1275.5 167.7L1280.9 170.2L1287 173.1L1292.4 176.1L1296.1 178.5zM1317.7 195.5L1316.3 196L1312.5 194.8L1307.1 192.2L1301.1 188.7L1295.7 185L1291.9 182L1290.6 180.2L1291.9 179.9L1295.7 181.1L1301.1 183.7L1307.1 187.1L1312.5 190.6L1316.3 193.6zM1337.8 214.9L1336.5 215.8L1332.7 214.8L1327.3 212.2L1321.2 208.4L1315.8 204.2L1312.1 200.5L1310.7 198L1312.1 197.2L1315.8 198.3L1321.2 200.9L1327.3 204.6L1332.7 208.7L1336.5 212.3zM1358 237.6L1356.6 239L1352.9 238.3L1347.4 235.7L1341.4 231.6L1336 226.9L1332.2 222.6L1330.9 219.5L1332.2 218.3L1336 219.1L1341.4 221.8L1347.4 225.8L1352.9 230.3L1356.6 234.5z"/>
<ellipse cx="1116.5" cy="146" rx="33" ry="13.5" fill="url(#capg)"/>
</g>
<path fill="#ff40b0" d="M242.4 1155.8L263.1 1149.2L250.8 1129.4zM242.4 1149.6L263.1 1142.9L250.8 1123.1zM242.4 1142.9L263.1 1136.2L250.8 1116.5zM242.4 1135.4L263.1 1128.8L250.7 1109zM242.4 1126L263.1 1119.4L250.7 1099.6zM242.4 1116.3L263.1 1109.6L250.7 1089.9zM242.4 1104.1L263.1 1097.5L250.7 1077.7zM242.4 1090.4L263 1083.8L250.7 1064zM242.4 1073.8L263 1067.2L250.7 1047.4zM242.4 1052.9L263 1046.3L250.7 1026.5zM242.4 1022.5L263 1016L250.7 996.1zM242.3 985L263 978.4L250.7 958.6zM242.3 975L263 968.5L250.7 948.7zM303.4 1096.5L324 1089.9L311.7 1070.1zM303.4 1086.1L324 1079.5L311.7 1059.7zM303.4 1075L324 1068.4L311.7 1048.6zM303.4 1062.7L324 1056.1L311.7 1036.3zM303.4 1047.7L324 1041.1L311.7 1021.3zM303.4 1032L324 1025.4L311.7 1005.6zM303.4 1013.2L324 1006.7L311.7 986.8zM303.4 992.1L324 985.5L311.7 965.7zM303.4 966.8L324 960.2L311.7 940.4zM303.4 935.2L324 928.6L311.7 908.8zM303.4 890.7L324 884.2L311.7 864.4zM303.4 834.3L324 827.8L311.7 808zM303.4 821L324 814.5L311.7 794.7zM364.3 1042.8L384.8 1036.2L372.6 1016.4zM364.3 1029.2L384.8 1022.7L372.6 1002.8zM364.3 1014.7L384.8 1008.2L372.6 988.3zM364.3 998.7L384.8 992.1L372.6 972.3zM364.3 979.4L384.8 972.8L372.6 953zM364.3 959.1L384.8 952.5L372.6 932.7zM364.3 935.3L384.8 928.8L372.6 909zM364.3 908.6L384.8 902.1L372.6 882.3zM364.3 876.7L384.8 870.2L372.6 850.4zM364.3 837.1L384.9 830.6L372.6 810.8zM364.3 782L384.9 775.5L372.6 755.7zM364.3 711.3L384.9 704.9L372.6 685zM364.3 695.1L384.9 688.6L372.6 668.8zM425 992.9L445.5 986.3L433.3 966.5zM425 976.7L445.5 970.2L433.3 950.4zM425 959.4L445.5 952.8L433.3 933zM425 940.1L445.5 933.6L433.3 913.7zM425 917.4L445.5 910.9L433.3 891zM425 893.2L445.5 886.7L433.3 866.9zM425.1 865.3L445.6 858.8L433.3 839zM425.1 834L445.6 827.5L433.3 807.6zM425.1 796.7L445.6 790.3L433.3 770.4zM425.1 750.5L445.6 744L433.3 724.2zM425.1 686.4L445.6 680L433.4 660.1zM425.1 603.8L445.7 597.4L433.4 577.5zM425.1 584.8L445.7 578.4L433.4 558.5zM485.6 945.8L506 939.3L493.8 919.4zM485.6 927.5L506.1 921L493.8 901.1zM485.6 907.6L506.1 901.1L493.8 881.2zM485.6 885.5L506.1 879L493.9 859.1zM485.7 859.8L506.1 853.3L493.9 833.5zM485.7 832.2L506.1 825.8L493.9 805.9zM485.7 800.8L506.1 794.3L493.9 774.5zM485.7 765.5L506.2 759L493.9 739.1zM485.7 723.5L506.2 717.1L494 697.2zM485.8 671.6L506.2 665.2L494 645.3zM485.8 599.7L506.3 593.3L494 573.4zM485.9 506.6L506.3 500.3L494.1 480.3zM485.9 485L506.4 478.7L494.1 458.7zM546 900.9L566.4 894.4L554.2 874.5zM546.1 880.7L566.5 874.2L554.3 854.4zM546.1 858.6L566.5 852.1L554.3 832.2zM546.1 833.8L566.5 827.4L554.3 807.5zM546.1 805.6L566.5 799.2L554.3 779.3zM546.2 775L566.6 768.5L554.4 748.7zM546.2 740.4L566.6 733.9L554.4 714zM546.2 701.5L566.6 695L554.4 675.1zM546.3 655.4L566.7 649L554.5 629.1zM546.3 598.3L566.7 592L554.5 572zM546.4 519.4L566.8 513.1L554.6 493.1zM546.5 416.9L566.9 410.6L554.7 390.6zM546.5 392.8L566.9 386.5L554.7 366.5zM606.3 857.8L626.7 851.3L614.5 831.4zM606.4 835.9L626.7 829.5L614.5 809.6zM606.4 811.7L626.7 805.3L614.6 785.4zM606.4 784.6L626.8 778.2L614.6 758.3zM606.5 754.1L626.8 747.7L614.6 727.8zM606.5 720.6L626.9 714.2L614.7 694.3zM606.6 683.2L626.9 676.8L614.7 656.9zM606.6 641L627 634.6L614.8 614.7zM606.7 591.2L627 584.9L614.9 564.9zM606.7 529.5L627.1 523.2L614.9 503.3zM606.8 444.1L627.2 437.9L615 417.9zM607 333L627.4 326.7L615.2 306.7zM607 306.4L627.4 300.1L615.2 280.2zM666.5 816.2L686.8 809.7L674.7 789.9zM666.5 792.9L686.8 786.4L674.7 766.5zM666.6 766.8L686.9 760.3L674.7 740.4zM666.6 737.4L686.9 731L674.8 711.1zM666.7 704.9L687 698.5L674.8 678.6zM666.7 668.7L687 662.3L674.9 642.4zM666.8 628.6L687.1 622.2L674.9 602.3zM666.9 583.5L687.2 577.1L675 557.2zM666.9 530.3L687.3 523.9L675.1 504zM667 464.3L687.4 458L675.2 438.1zM667.2 373L687.5 366.7L675.3 346.7zM667.3 253.7L687.7 247.5L675.5 227.5zM667.4 224.7L687.7 218.5L675.6 198.5zM726.5 775.8L746.8 769.4L734.7 749.5zM726.6 751.2L746.8 744.8L734.7 724.9zM726.6 723.3L746.9 716.9L734.8 697zM726.7 691.8L746.9 685.4L734.8 665.5zM726.7 657.4L747 651.1L734.9 631.2zM726.8 618.7L747.1 612.4L734.9 592.5zM726.9 576.2L747.2 569.9L735 550zM727 528.3L747.2 522L735.1 502.1zM727.1 472L747.3 465.7L735.2 445.7zM727.2 402.1L747.5 395.8L735.3 375.9zM727.4 305.2L747.7 299L735.5 279zM727.6 178.3L747.9 172.2L735.7 152.1zM727.7 146.9L748 140.7L735.8 120.7zM786.4 736.6L806.6 730.2L794.5 710.3zM786.5 710.8L806.7 704.4L794.6 684.5zM786.5 681.2L806.7 674.8L794.6 654.9zM786.6 647.7L806.8 641.3L794.7 621.4zM786.7 611.6L806.9 605.3L794.8 585.3zM786.8 570.5L807 564.2L794.9 544.2zM786.9 525.8L807.1 519.4L795 499.5zM787 475.3L807.2 469L795.1 449zM787.1 416L807.3 409.7L795.2 389.7zM787.2 342.4L807.5 336.2L795.3 316.2zM787.4 240.2L807.7 234.1L795.6 214.1zM787.7 106.2L808 100.1L795.8 80.1zM787.8 72.4L808 66.2L795.9 46.2z"/>
<path fill="#00bfff" d="M923.3 948.2L927.5 962.5L938.5 966.1L930 973.3L932.7 987.9L923.3 978.1L914 983.5L916.7 970.2L908.2 959L919.2 960.6zM923.5 908.9L927.6 923.2L938.6 926.8L930.1 934L932.8 948.6L923.5 938.7L914.1 944.2L916.8 930.9L908.3 919.7L919.3 921.3zM923.6 875L927.7 889.3L938.7 892.8L930.2 900.1L932.9 914.6L923.6 904.8L914.2 910.3L916.9 897L908.4 885.8L919.4 887.4zM923.6 844.7L927.8 859L938.8 862.6L930.3 869.8L933 884.4L923.6 874.5L914.2 880L917 866.7L908.4 855.5L919.5 857.1zM923.7 817.2L927.8 831.4L938.9 835L930.4 842.2L933.1 856.8L923.7 847L914.3 852.4L917 839.1L908.5 827.9L919.6 829.5zM923.8 791.7L927.9 805.9L939 809.5L930.5 816.7L933.2 831.3L923.8 821.5L914.4 826.9L917.1 813.6L908.6 802.4L919.6 804zM923.8 767.8L928 782.1L939 785.6L930.5 792.9L933.2 807.4L923.8 797.6L914.5 803.1L917.2 789.8L908.7 778.6L919.7 780.2zM923.9 745.4L928 759.7L939.1 763.2L930.6 770.4L933.3 785L923.9 775.2L914.5 780.6L917.2 767.3L908.7 756.2L919.8 757.8zM924 724.1L928.1 738.4L939.2 741.9L930.7 749.2L933.4 763.7L924 753.9L914.6 759.4L917.3 746.1L908.8 734.9L919.8 736.5zM924 703.8L928.2 718.1L939.2 721.6L930.7 728.9L933.4 743.4L924 733.6L914.6 739.1L917.3 725.8L908.8 714.6L919.9 716.2zM979.9 955.3L984.1 969.6L995.1 973.1L986.6 980.4L989.3 994.9L979.9 985.1L970.5 990.5L973.2 977.2L964.7 966L975.8 967.6zM980 911.8L984.2 926.1L995.3 929.7L986.7 936.9L989.5 951.5L980 941.6L970.6 947.1L973.4 933.8L964.8 922.6L975.9 924.2zM980.2 874.7L984.3 889L995.4 892.6L986.9 899.8L989.6 914.4L980.2 904.5L970.8 910L973.5 896.7L964.9 885.5L976 887.1zM980.3 841.9L984.4 856.2L995.5 859.7L987 867L989.7 881.5L980.3 871.7L970.9 877.1L973.6 863.8L965 852.7L976.1 854.3zM980.4 812.1L984.5 826.4L995.6 829.9L987 837.2L989.8 851.7L980.4 841.9L970.9 847.4L973.7 834.1L965.1 822.9L976.2 824.5zM980.4 784.7L984.6 799L995.7 802.5L987.1 809.7L989.8 824.3L980.4 814.5L971 820L973.7 806.6L965.2 795.5L976.3 797.1zM980.5 759.2L984.7 773.4L995.7 777L987.2 784.2L989.9 798.8L980.5 789L971.1 794.4L973.8 781.1L965.3 769.9L976.4 771.5zM980.6 735.2L984.7 749.5L995.8 753L987.3 760.3L990 774.8L980.6 765L971.2 770.5L973.9 757.2L965.4 746L976.4 747.6zM980.7 712.6L984.8 726.8L995.9 730.4L987.4 737.6L990.1 752.2L980.7 742.4L971.2 747.8L974 734.5L965.4 723.3L976.5 724.9zM980.7 691L984.9 705.3L995.9 708.9L987.4 716.1L990.1 730.7L980.7 720.9L971.3 726.3L974 713L965.5 701.8L976.6 703.4zM1036.6 961.9L1040.7 976.2L1051.8 979.8L1043.3 987L1046 1001.5L1036.6 991.7L1027.2 997.1L1029.9 983.8L1021.4 972.6L1032.4 974.3zM1036.7 914L1040.9 928.3L1052 931.9L1043.4 939.1L1046.2 953.7L1036.7 943.9L1027.3 949.3L1030 936L1021.5 924.8L1032.6 926.4zM1036.9 873.5L1041 887.8L1052.1 891.4L1043.6 898.6L1046.3 913.2L1036.9 903.3L1027.5 908.8L1030.2 895.5L1021.6 884.3L1032.7 885.9zM1037 837.8L1041.1 852.1L1052.2 855.6L1043.7 862.9L1046.4 877.4L1037 867.6L1027.6 873L1030.3 859.7L1021.8 848.5L1032.8 850.1zM1037.1 805.5L1041.2 819.7L1052.3 823.3L1043.8 830.5L1046.5 845.1L1037.1 835.3L1027.7 840.7L1030.4 827.4L1021.9 816.2L1033 817.8zM1037.2 775.8L1041.3 790L1052.4 793.6L1043.9 800.8L1046.6 815.4L1037.2 805.6L1027.8 811L1030.5 797.7L1022 786.5L1033.1 788.1zM1037.3 748.1L1041.4 762.4L1052.5 766L1044 773.2L1046.7 787.8L1037.3 777.9L1027.9 783.4L1030.6 770.1L1022 758.9L1033.1 760.5zM1037.4 722.2L1041.5 736.5L1052.6 740L1044.1 747.3L1046.8 761.8L1037.4 752L1028 757.5L1030.7 744.2L1022.1 733L1033.2 734.6zM1037.5 697.7L1041.6 712L1052.7 715.6L1044.2 722.8L1046.9 737.4L1037.5 727.6L1028 733L1030.7 719.7L1022.2 708.5L1033.3 710.1zM1037.5 674.5L1041.7 688.8L1052.8 692.3L1044.2 699.6L1047 714.1L1037.5 704.3L1028.1 709.8L1030.8 696.5L1022.3 685.3L1033.4 686.9zM1093.3 967.8L1097.5 982.1L1108.6 985.6L1100.1 992.9L1102.8 1007.4L1093.3 997.6L1083.9 1003L1086.6 989.7L1078.1 978.5L1089.2 980.1zM1093.5 915.1L1097.7 929.4L1108.8 933L1100.2 940.2L1103 954.7L1093.5 944.9L1084.1 950.3L1086.8 937L1078.3 925.8L1089.4 927.5zM1093.7 870.8L1097.8 885.1L1109 888.6L1100.4 895.8L1103.1 910.4L1093.7 900.6L1084.3 906L1087 892.7L1078.4 881.5L1089.5 883.1zM1093.8 831.8L1098 846.1L1109.1 849.6L1100.6 856.9L1103.3 871.4L1093.8 861.6L1084.4 867L1087.1 853.7L1078.6 842.6L1089.7 844.2zM1094 796.6L1098.1 810.9L1109.2 814.4L1100.7 821.7L1103.4 836.2L1094 826.4L1084.5 831.8L1087.2 818.5L1078.7 807.4L1089.8 809zM1094.1 764.2L1098.2 778.5L1109.3 782.1L1100.8 789.3L1103.5 803.9L1094.1 794.1L1084.6 799.5L1087.4 786.2L1078.8 775L1089.9 776.6zM1094.2 734.2L1098.3 748.5L1109.5 752L1100.9 759.2L1103.6 773.8L1094.2 764L1084.7 769.4L1087.5 756.1L1078.9 745L1090 746.5zM1094.3 706L1098.4 720.2L1109.6 723.8L1101 731L1103.7 745.6L1094.3 735.8L1084.8 741.2L1087.6 727.9L1079 716.7L1090.1 718.3zM1094.4 679.3L1098.5 693.6L1109.7 697.1L1101.1 704.4L1103.8 718.9L1094.4 709.1L1084.9 714.6L1087.7 701.3L1079.1 690.1L1090.2 691.7zM1094.5 654L1098.6 668.2L1109.8 671.8L1101.2 679L1103.9 693.6L1094.5 683.8L1085 689.2L1087.7 675.9L1079.2 664.8L1090.3 666.3zM1150.2 971.8L1154.4 986.1L1165.5 989.6L1156.9 996.9L1159.7 1011.4L1150.2 1001.6L1140.8 1007L1143.5 993.7L1134.9 982.5L1146.1 984.1zM1150.4 913.4L1154.6 927.7L1165.7 931.3L1157.2 938.5L1159.9 953.1L1150.4 943.2L1141 948.7L1143.7 935.4L1135.1 924.2L1146.3 925.8zM1150.6 864.8L1154.8 879.1L1165.9 882.7L1157.4 889.9L1160.1 904.5L1150.6 894.6L1141.2 900.1L1143.9 886.8L1135.3 875.6L1146.5 877.2zM1150.8 822.4L1154.9 836.6L1166.1 840.2L1157.5 847.4L1160.2 862L1150.8 852.2L1141.3 857.6L1144.1 844.3L1135.5 833.1L1146.6 834.7zM1150.9 784.2L1155.1 798.5L1166.2 802L1157.7 809.2L1160.4 823.8L1150.9 814L1141.5 819.4L1144.2 806.1L1135.6 794.9L1146.8 796.5zM1151.1 749.2L1155.2 763.5L1166.4 767.1L1157.8 774.3L1160.5 788.9L1151.1 779L1141.6 784.5L1144.3 771.2L1135.8 760L1146.9 761.6zM1151.2 716.8L1155.4 731.1L1166.5 734.7L1157.9 741.9L1160.7 756.5L1151.2 746.6L1141.7 752.1L1144.5 738.8L1135.9 727.6L1147 729.2zM1151.3 686.5L1155.5 700.8L1166.6 704.3L1158 711.6L1160.8 726.1L1151.3 716.3L1141.9 721.8L1144.6 708.5L1136 697.3L1147.2 698.9zM1151.4 658L1155.6 672.2L1166.7 675.8L1158.2 683L1160.9 697.6L1151.4 687.8L1142 693.2L1144.7 679.9L1136.1 668.8L1147.3 670.3zM1151.5 630.9L1155.7 645.2L1166.8 648.7L1158.3 655.9L1161 670.5L1151.5 660.7L1142.1 666.2L1144.8 652.9L1136.2 641.7L1147.4 643.3zM1207.2 975.4L1211.3 989.7L1222.5 993.2L1213.9 1000.4L1216.6 1015L1207.2 1005.2L1197.7 1010.6L1200.4 997.3L1191.9 986.1L1203 987.7zM1207.4 911L1211.6 925.3L1222.8 928.9L1214.2 936.1L1216.9 950.7L1207.4 940.9L1198 946.3L1200.7 933L1192.1 921.8L1203.3 923.4zM1207.7 857.8L1211.8 872.1L1223 875.7L1214.4 882.9L1217.1 897.5L1207.7 887.7L1198.2 893.1L1200.9 879.8L1192.3 868.6L1203.5 870.2zM1207.9 811.5L1212 825.8L1223.2 829.3L1214.6 836.5L1217.3 851.1L1207.9 841.3L1198.4 846.7L1201.1 833.4L1192.5 822.2L1203.7 823.8zM1208 769.8L1212.2 784.1L1223.3 787.7L1214.8 794.9L1217.5 809.5L1208 799.6L1198.6 805.1L1201.3 791.8L1192.7 780.6L1203.9 782.2zM1208.2 731.7L1212.4 746L1223.5 749.6L1214.9 756.8L1217.7 771.4L1208.2 761.6L1198.7 767L1201.4 753.7L1192.9 742.5L1204 744.1zM1208.3 696.4L1212.5 710.7L1223.7 714.3L1215.1 721.5L1217.8 736.1L1208.3 726.2L1198.9 731.7L1201.6 718.4L1193 707.2L1204.2 708.8zM1208.5 663.4L1212.6 677.7L1223.8 681.2L1215.2 688.5L1217.9 703L1208.5 693.2L1199 698.7L1201.7 685.4L1193.1 674.2L1204.3 675.8zM1208.6 632.2L1212.8 646.5L1223.9 650L1215.3 657.3L1218.1 671.8L1208.6 662L1199.1 667.5L1201.9 654.2L1193.3 643L1204.4 644.6zM1208.7 602.7L1212.9 617L1224.1 620.5L1215.5 627.7L1218.2 642.3L1208.7 632.5L1199.2 638L1202 624.6L1193.4 613.5L1204.5 615zM1264.2 976.6L1268.4 990.9L1279.6 994.5L1271 1001.7L1273.7 1016.3L1264.2 1006.4L1254.8 1011.9L1257.5 998.6L1248.9 987.4L1260.1 989zM1264.6 905.7L1268.7 920L1279.9 923.5L1271.3 930.7L1274 945.3L1264.6 935.5L1255.1 940.9L1257.8 927.6L1249.2 916.4L1260.4 918zM1264.8 847.4L1269 861.7L1280.2 865.3L1271.6 872.5L1274.3 887L1264.8 877.2L1255.3 882.7L1258.1 869.4L1249.5 858.2L1260.6 859.8zM1265 796.9L1269.2 811.1L1280.4 814.7L1271.8 821.9L1274.5 836.5L1265 826.7L1255.6 832.1L1258.3 818.8L1249.7 807.6L1260.9 809.2zM1265.2 751.6L1269.4 765.9L1280.6 769.4L1272 776.7L1274.7 791.2L1265.2 781.4L1255.8 786.9L1258.5 773.6L1249.9 762.4L1261.1 764zM1265.4 710.3L1269.6 724.6L1280.8 728.1L1272.2 735.3L1274.9 749.9L1265.4 740.1L1255.9 745.6L1258.7 732.2L1250.1 721.1L1261.2 722.7zM1265.6 672.1L1269.8 686.3L1281 689.9L1272.4 697.1L1275.1 711.7L1265.6 701.9L1256.1 707.3L1258.8 694L1250.2 682.8L1261.4 684.4zM1265.8 636.3L1269.9 650.6L1281.1 654.1L1272.5 661.4L1275.2 675.9L1265.8 666.1L1256.3 671.6L1259 658.3L1250.4 647.1L1261.6 648.7zM1265.9 602.7L1270.1 617L1281.3 620.5L1272.7 627.7L1275.4 642.3L1265.9 632.5L1256.4 638L1259.1 624.6L1250.5 613.5L1261.7 615zM1266 570.8L1270.2 585.1L1281.4 588.6L1272.8 595.8L1275.5 610.4L1266 600.6L1256.5 606.1L1259.3 592.8L1250.7 581.6L1261.9 583.2zM1321.4 976.3L1325.6 990.6L1336.8 994.2L1328.2 1001.4L1330.9 1016L1321.4 1006.1L1311.9 1011.5L1314.7 998.2L1306.1 987L1317.2 988.7zM1321.8 897.9L1326 912.2L1337.2 915.8L1328.6 923L1331.3 937.5L1321.8 927.7L1312.3 933.1L1315 919.8L1306.4 908.6L1317.6 910.3zM1322.1 834L1326.3 848.3L1337.5 851.9L1328.9 859.1L1331.6 873.7L1322.1 863.8L1312.6 869.3L1315.3 856L1306.7 844.8L1317.9 846.4zM1322.4 778.8L1326.5 793.1L1337.7 796.6L1329.1 803.9L1331.9 818.4L1322.4 808.6L1312.9 814.1L1315.6 800.8L1307 789.6L1318.2 791.2zM1322.6 729.5L1326.8 743.8L1338 747.3L1329.4 754.5L1332.1 769.1L1322.6 759.3L1313.1 764.7L1315.8 751.4L1307.2 740.2L1318.4 741.8zM1322.8 684.5L1327 698.8L1338.2 702.3L1329.6 709.6L1332.3 724.1L1322.8 714.3L1313.3 719.8L1316 706.5L1307.4 695.3L1318.6 696.9zM1323 643L1327.2 657.3L1338.4 660.8L1329.8 668L1332.5 682.6L1323 672.8L1313.5 678.2L1316.2 664.9L1307.6 653.8L1318.8 655.3zM1323.2 604.2L1327.4 618.5L1338.6 622L1329.9 629.2L1332.7 643.8L1323.2 634L1313.7 639.4L1316.4 626.1L1307.8 615L1319 616.5zM1323.3 567.7L1327.5 581.9L1338.7 585.5L1330.1 592.7L1332.9 607.3L1323.3 597.5L1313.8 602.9L1316.6 589.6L1308 578.5L1319.2 580zM1323.5 533.1L1327.7 547.4L1338.9 550.9L1330.3 558.1L1333 572.7L1323.5 562.9L1314 568.4L1316.7 555.1L1308.1 543.9L1319.3 545.5zM1378.7 973.1L1382.9 987.4L1394.1 991L1385.5 998.2L1388.2 1012.8L1378.7 1002.9L1369.2 1008.3L1371.9 995L1363.3 983.8L1374.5 985.5zM1379.1 885.9L1383.3 900.2L1394.5 903.8L1385.9 911L1388.7 925.6L1379.1 915.7L1369.6 921.2L1372.4 907.9L1363.8 896.7L1375 898.3zM1379.5 815.5L1383.7 829.8L1394.9 833.3L1386.3 840.5L1389 855.1L1379.5 845.3L1370 850.7L1372.7 837.4L1364.1 826.2L1375.3 827.8zM1379.8 754.8L1384 769.1L1395.2 772.6L1386.6 779.8L1389.3 794.4L1379.8 784.6L1370.3 790L1373 776.7L1364.4 765.5L1375.6 767.1zM1380.1 700.7L1384.3 715L1395.5 718.5L1386.9 725.8L1389.6 740.3L1380.1 730.5L1370.6 736L1373.3 722.7L1364.7 711.5L1375.9 713.1zM1380.3 651.5L1384.5 665.8L1395.7 669.4L1387.1 676.6L1389.8 691.2L1380.3 681.4L1370.8 686.8L1373.5 673.5L1364.9 662.3L1376.1 663.9zM1380.5 606.2L1384.7 620.4L1396 624L1387.3 631.2L1390.1 645.8L1380.5 636L1371 641.4L1373.8 628.1L1365.1 617L1376.4 618.5zM1380.8 563.8L1384.9 578.1L1396.2 581.7L1387.5 588.9L1390.3 603.5L1380.8 593.7L1371.2 599.1L1374 585.8L1365.3 574.7L1376.6 576.2zM1381 524.1L1385.1 538.4L1396.4 541.9L1387.7 549.1L1390.5 563.7L1381 553.9L1371.4 559.4L1374.2 546.1L1365.5 534.9L1376.8 536.5zM1381.1 486.5L1385.3 500.7L1396.6 504.2L1387.9 511.5L1390.7 526.1L1381.1 516.3L1371.6 521.7L1374.4 508.4L1365.7 497.3L1376.9 498.8zM1436.1 965.7L1440.3 980L1451.5 983.6L1442.9 990.8L1445.7 1005.3L1436.1 995.5L1426.6 1000.9L1429.3 987.6L1420.7 976.4L1431.9 978zM1436.6 867.7L1440.8 882L1452.1 885.6L1443.4 892.8L1446.2 907.4L1436.6 897.5L1427.1 903L1429.9 889.7L1421.2 878.5L1432.5 880.1zM1437.1 789.2L1441.3 803.5L1452.5 807L1443.8 814.2L1446.6 828.8L1437.1 819L1427.5 824.4L1430.3 811.1L1421.6 799.9L1432.9 801.5zM1437.4 721.8L1441.6 736.1L1452.8 739.6L1444.2 746.8L1447 761.4L1437.4 751.6L1427.9 757L1430.6 743.7L1422 732.5L1433.2 734.1zM1437.7 661.9L1441.9 676.2L1453.2 679.7L1444.5 686.9L1447.3 701.5L1437.7 691.7L1428.2 697.1L1430.9 683.8L1422.3 672.7L1433.5 674.2zM1438 607.5L1442.2 621.8L1453.5 625.3L1444.8 632.6L1447.6 647.1L1438 637.3L1428.5 642.8L1431.2 629.5L1422.6 618.3L1433.8 619.9zM1438.3 557.4L1442.5 571.7L1453.7 575.2L1445.1 582.4L1447.8 597L1438.3 587.2L1428.7 592.7L1431.5 579.4L1422.8 568.2L1434.1 569.8zM1438.5 510.7L1442.7 525L1454 528.5L1445.3 535.8L1448.1 550.3L1438.5 540.5L1429 546L1431.7 532.7L1423.1 521.5L1434.3 523.1zM1438.8 466.9L1443 481.2L1454.2 484.7L1445.6 491.9L1448.3 506.5L1438.8 496.7L1429.2 502.2L1432 488.9L1423.3 477.7L1434.6 479.3zM1439 425.5L1443.2 439.7L1454.4 443.2L1445.8 450.5L1448.5 465.1L1439 455.3L1429.4 460.8L1432.2 447.4L1423.5 436.3L1434.8 437.8zM1493.7 948.8L1497.9 963.1L1509.1 966.6L1500.5 973.9L1503.2 988.4L1493.7 978.6L1484.2 984L1486.9 970.7L1478.3 959.5L1489.5 961.1zM1494.3 836.7L1498.5 851L1509.8 854.5L1501.1 861.8L1503.9 876.3L1494.3 866.5L1484.8 871.9L1487.5 858.6L1478.9 847.4L1490.1 849zM1494.8 747.3L1499 761.6L1510.3 765.2L1501.6 772.4L1504.4 787L1494.8 777.1L1485.3 782.6L1488 769.3L1479.4 758.1L1490.6 759.7zM1495.2 670.9L1499.5 685.2L1510.7 688.7L1502.1 695.9L1504.8 710.5L1495.2 700.7L1485.7 706.1L1488.4 692.8L1479.8 681.6L1491 683.2zM1495.6 603L1499.8 617.3L1511.1 620.8L1502.4 628.1L1505.2 642.6L1495.6 632.8L1486.1 638.3L1488.8 625L1480.2 613.8L1491.4 615.4zM1496 541.5L1500.2 555.7L1511.4 559.3L1502.8 566.5L1505.5 581.1L1496 571.3L1486.4 576.7L1489.2 563.4L1480.5 552.3L1491.8 553.8zM1496.3 484.8L1500.5 499L1511.8 502.5L1503.1 509.8L1505.8 524.4L1496.3 514.6L1486.7 520L1489.5 506.7L1480.8 495.6L1492.1 497.1zM1496.6 431.9L1500.8 446.2L1512.1 449.7L1503.4 457L1506.1 471.5L1496.6 461.8L1487 467.2L1489.8 453.9L1481.1 442.8L1492.4 444.3zM1496.9 382.4L1501.1 396.6L1512.3 400.1L1503.7 407.4L1506.4 422L1496.9 412.2L1487.3 417.7L1490 404.3L1481.4 393.2L1492.6 394.7zM1497.1 335.5L1501.3 349.8L1512.6 353.3L1503.9 360.5L1506.7 375.1L1497.1 365.3L1487.5 370.8L1490.3 357.5L1481.6 346.3L1492.9 347.9zM1551.4 924.6L1555.6 939L1566.9 942.5L1558.2 949.7L1561 964.3L1551.4 954.5L1541.9 959.9L1544.6 946.6L1536 935.4L1547.2 937zM1552.2 793.6L1556.4 807.9L1567.7 811.5L1559 818.7L1561.8 833.3L1552.2 823.4L1542.6 828.9L1545.4 815.6L1536.7 804.4L1548 806zM1552.8 689.9L1557 704.2L1568.3 707.8L1559.6 715L1562.4 729.5L1552.8 719.7L1543.2 725.2L1546 711.9L1537.3 700.7L1548.6 702.3zM1553.3 601.4L1557.5 615.7L1568.8 619.2L1560.1 626.4L1562.9 641L1553.3 631.2L1543.7 636.7L1546.5 623.3L1537.8 612.2L1549.1 613.8zM1553.8 522.9L1558 537.2L1569.3 540.7L1560.6 548L1563.4 562.5L1553.8 552.7L1544.2 558.2L1547 544.9L1538.3 533.7L1549.6 535.3zM1554.2 451.7L1558.4 466L1569.7 469.5L1561 476.8L1563.8 491.3L1554.2 481.5L1544.6 487L1547.4 473.7L1538.7 462.5L1550 464.1zM1554.6 386.1L1558.8 400.4L1570.1 403.9L1561.4 411.2L1564.2 425.7L1554.6 415.9L1545 421.4L1547.7 408.1L1539.1 396.9L1550.4 398.5zM1554.9 325L1559.1 339.3L1570.4 342.8L1561.8 350.1L1564.5 364.6L1554.9 354.8L1545.3 360.3L1548.1 347L1539.4 335.9L1550.7 337.4zM1555.3 267.6L1559.5 281.9L1570.8 285.4L1562.1 292.6L1564.9 307.2L1555.3 297.4L1545.7 302.9L1548.4 289.6L1539.7 278.5L1551 280zM1555.6 213.3L1559.8 227.6L1571.1 231.1L1562.4 238.4L1565.2 252.9L1555.6 243.1L1546 248.6L1548.8 235.3L1540.1 224.2L1551.4 225.7zM1609.1 928.1L1613.3 942.4L1624.6 946L1615.9 953.2L1618.7 967.8L1609.1 957.9L1599.5 963.3L1602.3 950L1593.6 938.8L1604.9 940.5zM1609.9 793.6L1614.1 807.9L1625.4 811.5L1616.7 818.7L1619.5 833.2L1609.9 823.4L1600.3 828.8L1603.1 815.5L1594.4 804.3L1605.7 806zM1610.6 686.8L1614.8 701.1L1626.1 704.7L1617.4 711.9L1620.2 726.5L1610.6 716.6L1601 722.1L1603.8 708.8L1595.1 697.6L1606.4 699.2zM1611.1 595.5L1615.4 609.8L1626.7 613.3L1618 620.5L1620.7 635.1L1611.1 625.3L1601.5 630.7L1604.3 617.4L1595.6 606.2L1606.9 607.8zM1611.6 514.3L1615.9 528.6L1627.2 532.1L1618.5 539.3L1621.2 553.9L1611.6 544.1L1602 549.6L1604.8 536.3L1596.1 525.1L1607.4 526.7zM1612.1 440.5L1616.3 454.8L1627.6 458.3L1618.9 465.5L1621.7 480.1L1612.1 470.3L1602.5 475.8L1605.3 462.5L1596.6 451.3L1607.9 452.9zM1612.5 372.3L1616.7 386.6L1628 390.1L1619.3 397.4L1622.1 411.9L1612.5 402.1L1602.9 407.6L1605.7 394.3L1597 383.2L1608.3 384.7zM1612.9 308.7L1617.1 323L1628.4 326.5L1619.7 333.7L1622.5 348.3L1612.9 338.5L1603.3 344L1606.1 330.7L1597.4 319.5L1608.7 321.1zM1613.3 248.8L1617.5 263L1628.8 266.5L1620.1 273.8L1622.9 288.4L1613.3 278.6L1603.7 284.1L1606.4 270.8L1597.7 259.6L1609 261.2zM1613.6 192L1617.8 206.2L1629.2 209.7L1620.4 217L1623.2 231.6L1613.6 221.8L1604 227.3L1606.8 214L1598.1 202.8L1609.4 204.4z"/>
<g fill="none" stroke="#000" stroke-width="4.6" stroke-dasharray="32 20">
<path d="M249.9 964C260 938.3 290.5 856.6 310.9 810C331.2 763.3 351.5 723.4 371.8 684.1C392.1 644.7 412.3 608.8 432.6 573.8C452.9 538.8 473.1 506 493.3 474C513.5 442 533.7 411.6 553.9 381.8C574.1 352.1 594.3 323.5 614.4 295.5C634.5 267.4 654.7 240.4 674.8 213.8C694.9 187.2 714.9 161.4 735 136C755.1 110.6 785.1 73.9 795.1 61.5"/>
<path d="M250 1144.7C260.1 1134.8 290.6 1104.3 310.9 1085.4C331.2 1066.6 351.5 1049 371.8 1031.7C392 1014.4 412.2 998 432.5 981.8C452.7 965.6 472.9 950 493 934.7C513.2 919.4 533.3 904.5 553.4 889.8C573.6 875.2 593.7 860.9 613.7 846.7C633.8 832.6 653.8 818.8 673.9 805.2C693.9 791.5 713.9 778.1 733.9 764.8C753.8 751.6 783.7 732.1 793.7 725.6"/>
<path d="M1609.1 947.3C1599.5 946.7 1570.7 940.4 1551.4 943.8C1532.2 947.3 1512.9 961.1 1493.7 968C1474.5 974.8 1455.3 980.8 1436.1 984.9C1417 988.9 1397.8 990.5 1378.7 992.3C1359.6 994.1 1340.5 994.9 1321.4 995.5C1302.3 996.1 1283.3 996 1264.2 995.8C1245.2 995.7 1226.2 995.4 1207.2 994.6C1188.2 993.8 1169.2 992.2 1150.2 991C1131.2 989.7 1112.3 988.6 1093.3 987C1074.4 985.3 1055.5 983.2 1036.6 981.1C1017.7 979 998.8 976.7 979.9 974.5C961 972.2 932.8 968.6 923.3 967.4" stroke-dashoffset="21"/>
<path d="M1613.6 211.2C1603.9 214.7 1575 208.6 1555.6 232.5C1536.2 256.4 1516.5 319.3 1497.1 354.7C1477.7 390.1 1458.3 419.5 1439 444.7C1419.7 469.8 1400.4 487.7 1381.1 505.7C1361.9 523.6 1333.1 544.5 1323.5 552.3" stroke-dashoffset="37"/>
</g>
<g stroke="none">
<path d="M320.8 1161.6L339.7 1164.1L358.7 1166.5L377.6 1168.9L396.5 1171.2L415.5 1173.5L434.5 1175.8L453.5 1177.8L472.5 1179.9L491.5 1181.9L510.5 1183.3L529.5 1184.7L548.5 1186.1L567.6 1187.4L586.6 1188.7L605.7 1189.9L624.8 1190.4L643.9 1190.9L663 1191.4L682.1 1191.3L701.2 1191.3L720.4 1191.2L739.5 1190.2L758.7 1189.2L777.9 1188.2L797.1 1185.7L816.3 1183.3L835.5 1180.8L854.7 1175.2L873.9 1169.5L893.2 1163.9L912.5 1155.8L931.8 1147.7L951.1 1139.7L970.4 1140.9L989.7 1142.1L1009 1143.3L1070.2 987.5L1131.2 860.1L1192 748.6L1252.7 647.5L1313.3 554.2L1373.7 466.7L1433.9 384L1494.1 305.2L1554.1 229.7L1496 251L1437.6 373.3L1379.4 463.4L1321.6 524.4L1264 571.1L1206.5 608.8L1149.2 640.7L1092 669L1034.9 692.1L977.9 712.6L921.1 729.2L864.4 741.9L804.6 781.2L744.6 821.6L684.5 863.3L624.2 906.4L563.8 951.3L503.3 998.5L442.6 1048.5L381.8 1102.3z" fill="#830075"/>
<path d="M334.6 1148.2L350 1153.9L365.5 1159.5L381.4 1165L397.2 1170.5L415.5 1173.5L434.5 1175.8L453.5 1177.8L472.5 1179.9L491.5 1181.9L510.5 1183.3L529.5 1184.7L548.5 1186.1L567.6 1187.4L586.6 1188.7L605.7 1189.9L624.8 1190.4L643.9 1190.9L663 1191.4L682.1 1191.3L701.2 1191.3L720.4 1191.2L739.5 1190.2L758.7 1189.2L777.9 1188.2L797.1 1185.7L816.3 1183.3L835.5 1180.8L854.7 1175.2L873.9 1169.5L893.2 1163.9L912.5 1155.8L931.8 1147.7L951.1 1139.7L970.4 1140.9L989.7 1142.1L1009 1143.3L1070.2 987.5L1131.2 860.1L1192 748.6L1252.7 647.5L1313.3 554.2L1373.7 466.7L1433.9 384L1494.1 305.2L1554.1 229.7L1496 251L1437.6 373.3L1379.4 463.4L1321.6 524.4L1264 571.1L1206.5 608.8L1149.2 640.7L1092 669L1034.9 692.1L977.9 712.6L921.1 729.2L864.4 741.9L804.6 781.2L744.6 821.6L684.5 863.3L624.2 906.4L563.8 951.3L503.3 998.5L442.6 1048.5L381.8 1102.3z" fill="#890083"/>
<path d="M348.6 1134.5L363.5 1140.3L378.7 1146.1L394.1 1151.7L409.5 1157.4L425.1 1163L441 1168.5L456.7 1174.1L472.7 1179.6L491.5 1181.9L510.5 1183.3L529.5 1184.7L548.5 1186.1L567.6 1187.4L586.6 1188.7L605.7 1189.9L624.8 1190.4L643.9 1190.9L663 1191.4L682.1 1191.3L701.2 1191.3L720.4 1191.2L739.5 1190.2L758.7 1189.2L777.9 1188.2L797.1 1185.7L816.3 1183.3L835.5 1180.8L854.7 1175.2L873.9 1169.5L893.2 1163.9L912.5 1155.8L931.8 1147.7L951.1 1139.7L970.4 1140.9L989.7 1142.1L1009 1143.3L1070.2 987.5L1131.2 860.1L1192 748.6L1252.7 647.5L1313.3 554.2L1373.7 466.7L1433.9 384L1494.1 305.2L1554.1 229.7L1496 251L1437.6 373.3L1379.4 463.4L1321.6 524.4L1264 571.1L1206.5 608.8L1149.2 640.7L1092 669L1034.9 692.1L977.9 712.6L921.1 729.2L864.4 741.9L804.6 781.2L744.6 821.6L684.5 863.3L624.2 906.4L563.8 951.3L503.3 998.5L442.6 1048.5L381.8 1102.3z" fill="#8f0091"/>
<path d="M362.7 1120.9L377.1 1126.8L391.8 1132.7L406.8 1138.5L421.8 1144.3L437 1150L452.5 1155.6L467.9 1161.3L483.5 1166.9L499.3 1172.5L514.6 1178.2L530.2 1183.9L548.5 1186.1L567.6 1187.4L586.6 1188.7L605.7 1189.9L624.8 1190.4L643.9 1190.9L663 1191.4L682.1 1191.3L701.2 1191.3L720.4 1191.2L739.5 1190.2L758.7 1189.2L777.9 1188.2L797.1 1185.7L816.3 1183.3L835.5 1180.8L854.7 1175.2L873.9 1169.5L893.2 1163.9L912.5 1155.8L931.8 1147.7L951.1 1139.7L970.4 1140.9L989.7 1142.1L1009 1143.3L1070.2 987.5L1131.2 860.1L1192 748.6L1252.7 647.5L1313.3 554.2L1373.7 466.7L1433.9 384L1494.1 305.2L1554.1 229.7L1496 251L1437.6 373.3L1379.4 463.4L1321.6 524.4L1264 571.1L1206.5 608.8L1149.2 640.7L1092 669L1034.9 692.1L977.9 712.6L921.1 729.2L864.4 741.9L804.6 781.2L744.6 821.6L684.5 863.3L624.2 906.4L563.8 951.3L503.3 998.5L442.6 1048.5L381.8 1102.3z" fill="#96009f"/>
<path d="M376.7 1107.2L390.6 1113.3L404.9 1119.3L419.5 1125.2L434.1 1131.1L448.9 1137L464.1 1142.7L479.1 1148.5L494.3 1154.3L509.8 1159.9L524.7 1165.8L540 1171.5L555.4 1177.2L571 1182.9L586.8 1188.5L605.7 1189.9L624.8 1190.4L643.9 1190.9L663 1191.4L682.1 1191.3L701.2 1191.3L720.4 1191.2L739.5 1190.2L758.7 1189.2L777.9 1188.2L797.1 1185.7L816.3 1183.3L835.5 1180.8L854.7 1175.2L873.9 1169.5L893.2 1163.9L912.5 1155.8L931.8 1147.7L951.1 1139.7L970.4 1140.9L989.7 1142.1L1009 1143.3L1070.2 987.5L1131.2 860.1L1192 748.6L1252.7 647.5L1313.3 554.2L1373.7 466.7L1433.9 384L1494.1 305.2L1554.1 229.7L1496 251L1437.6 373.3L1379.4 463.4L1321.6 524.4L1264 571.1L1206.5 608.8L1149.2 640.7L1092 669L1034.9 692.1L977.9 712.6L921.1 729.2L864.4 741.9L804.6 781.2L744.6 821.6L684.5 863.3L624.2 906.4L563.8 951.3L503.3 998.5L442.6 1048.5L381.8 1102.3z" fill="#9a00ae"/>
<path d="M392.1 1093.1L404.7 1099.6L418 1106L432.2 1112L446.4 1118L460.8 1124L475.6 1129.8L490.2 1135.8L505.2 1141.6L520.3 1147.4L534.9 1153.3L549.8 1159.2L564.9 1165L580.2 1170.7L595.6 1176.4L611.4 1182.1L626.6 1187.9L643.9 1190.9L663 1191.4L682.1 1191.3L701.2 1191.3L720.4 1191.2L739.5 1190.2L758.7 1189.2L777.9 1188.2L797.1 1185.7L816.3 1183.3L835.5 1180.8L854.7 1175.2L873.9 1169.5L893.2 1163.9L912.5 1155.8L931.8 1147.7L951.1 1139.7L970.4 1140.9L989.7 1142.1L1009 1143.3L1070.2 987.5L1131.2 860.1L1192 748.6L1252.7 647.5L1313.3 554.2L1373.7 466.7L1433.9 384L1494.1 305.2L1554.1 229.7L1496 251L1437.6 373.3L1379.4 463.4L1321.6 524.4L1264 571.1L1206.5 608.8L1149.2 640.7L1092 669L1034.9 692.1L977.9 712.6L921.1 729.2L864.4 741.9L804.6 781.2L744.6 821.6L684.5 863.3L624.2 906.4L563.8 951.3L503.3 998.5L442.6 1048.5z" fill="#9d00bd"/>
<path d="M408.3 1078.8L420.5 1085.4L433 1092L445.9 1098.4L458.8 1104.9L472.7 1111L487.2 1117L501.4 1123L516 1128.9L530.8 1134.8L545 1140.9L559.6 1146.8L574.4 1152.7L589.3 1158.6L604.5 1164.4L620 1170.1L634.9 1176L650.1 1181.8L665.6 1187.5L682.1 1191.3L701.2 1191.3L720.4 1191.2L739.5 1190.2L758.7 1189.2L777.9 1188.2L797.1 1185.7L816.3 1183.3L835.5 1180.8L854.7 1175.2L873.9 1169.5L893.2 1163.9L912.5 1155.8L931.8 1147.7L951.1 1139.7L970.4 1140.9L989.7 1142.1L1009 1143.3L1070.2 987.5L1131.2 860.1L1192 748.6L1252.7 647.5L1313.3 554.2L1373.7 466.7L1433.9 384L1494.1 305.2L1554.1 229.7L1496 251L1437.6 373.3L1379.4 463.4L1321.6 524.4L1264 571.1L1206.5 608.8L1149.2 640.7L1092 669L1034.9 692.1L977.9 712.6L921.1 729.2L864.4 741.9L804.6 781.2L744.6 821.6L684.5 863.3L624.2 906.4L563.8 951.3L503.3 998.5L442.6 1048.5z" fill="#9e00cd"/>
<path d="M424.6 1064.4L436.2 1071.2L448.3 1077.9L460.8 1084.5L473.3 1091.1L486.1 1097.5L499.3 1103.9L512.6 1110.2L526.8 1116.3L541.3 1122.2L555.1 1128.4L569.3 1134.5L583.9 1140.5L598.5 1146.4L613.4 1152.3L628.6 1158.1L643.2 1164.1L658.2 1170L673.4 1175.8L688.4 1181.7L703.7 1187.5L720.4 1191.2L739.5 1190.2L758.7 1189.2L777.9 1188.2L797.1 1185.7L816.3 1183.3L835.5 1180.8L854.7 1175.2L873.9 1169.5L893.2 1163.9L912.5 1155.8L931.8 1147.7L951.1 1139.7L970.4 1140.9L989.7 1142.1L1009 1143.3L1070.2 987.5L1131.2 860.1L1192 748.6L1252.7 647.5L1313.3 554.2L1373.7 466.7L1433.9 384L1494.1 305.2L1554.1 229.7L1496 251L1437.6 373.3L1379.4 463.4L1321.6 524.4L1264 571.1L1206.5 608.8L1149.2 640.7L1092 669L1034.9 692.1L977.9 712.6L921.1 729.2L864.4 741.9L804.6 781.2L744.6 821.6L684.5 863.3L624.2 906.4L563.8 951.3L503.3 998.5L442.6 1048.5z" fill="#9800de"/>
<path d="M440.8 1050.1L452 1057L463.6 1063.9L475.7 1070.5L487.7 1077.3L500.1 1083.9L512.9 1090.3L525.4 1096.9L538.4 1103.4L551.8 1109.7L565.3 1116L579.1 1122.2L593.3 1128.2L607.7 1134.3L622.3 1140.3L637.2 1146.1L651.6 1152.2L666.2 1158.2L681.2 1164L695.9 1170L711 1175.9L726.3 1181.7L741.1 1187.6L758.7 1189.2L777.9 1188.2L797.1 1185.7L816.3 1183.3L835.5 1180.8L854.7 1175.2L873.9 1169.5L893.2 1163.9L912.5 1155.8L931.8 1147.7L951.1 1139.7L970.4 1140.9L989.7 1142.1L1009 1143.3L1070.2 987.5L1131.2 860.1L1192 748.6L1252.7 647.5L1313.3 554.2L1373.7 466.7L1433.9 384L1494.1 305.2L1554.1 229.7L1496 251L1437.6 373.3L1379.4 463.4L1321.6 524.4L1264 571.1L1206.5 608.8L1149.2 640.7L1092 669L1034.9 692.1L977.9 712.6L921.1 729.2L864.4 741.9L804.6 781.2L744.6 821.6L684.5 863.3L624.2 906.4L563.8 951.3L503.3 998.5L442.6 1048.5z" fill="#9200ee"/>
<path d="M458.7 1035.2L468.4 1042.6L478.9 1049.8L490.5 1056.6L502.1 1063.5L514.1 1070.2L526.5 1076.8L538.6 1083.5L551.2 1090.1L564.1 1096.5L576.2 1103.3L588.9 1109.8L602.8 1116L616.8 1122.2L631.2 1128.2L645.8 1134.2L659.9 1140.3L674.3 1146.4L689 1152.3L703.5 1158.4L718.3 1164.3L733.3 1170.2L747.9 1176.2L762.8 1182.2L778 1188L797.1 1185.7L816.3 1183.3L835.5 1180.8L854.7 1175.2L873.9 1169.5L893.2 1163.9L912.5 1155.8L931.8 1147.7L951.1 1139.7L970.4 1140.9L989.7 1142.1L1009 1143.3L1070.2 987.5L1131.2 860.1L1192 748.6L1252.7 647.5L1313.3 554.2L1373.7 466.7L1433.9 384L1494.1 305.2L1554.1 229.7L1496 251L1437.6 373.3L1379.4 463.4L1321.6 524.4L1264 571.1L1206.5 608.8L1149.2 640.7L1092 669L1034.9 692.1L977.9 712.6L921.1 729.2L864.4 741.9L804.6 781.2L744.6 821.6L684.5 863.3L624.2 906.4L563.8 951.3L503.3 998.5z" fill="#8c00ff"/>
<path d="M476.9 1020.2L486.1 1027.8L495.9 1035.2L506.1 1042.5L516.5 1049.7L528.1 1056.6L540.1 1063.3L551.8 1070.1L564 1076.8L576.6 1083.4L588.2 1090.2L600.3 1097L612.9 1103.6L626 1110L640 1116.1L654.4 1122.2L668.2 1128.4L682.4 1134.6L696.8 1140.6L711 1146.7L725.6 1152.7L740.4 1158.7L754.7 1164.8L769.4 1170.8L784.3 1176.7L798.6 1182.9L816.3 1183.3L835.5 1180.8L854.7 1175.2L873.9 1169.5L893.2 1163.9L912.5 1155.8L931.8 1147.7L951.1 1139.7L970.4 1140.9L989.7 1142.1L1009 1143.3L1070.2 987.5L1131.2 860.1L1192 748.6L1252.7 647.5L1313.3 554.2L1373.7 466.7L1433.9 384L1494.1 305.2L1554.1 229.7L1496 251L1437.6 373.3L1379.4 463.4L1321.6 524.4L1264 571.1L1206.5 608.8L1149.2 640.7L1092 669L1034.9 692.1L977.9 712.6L921.1 729.2L864.4 741.9L804.6 781.2L744.6 821.6L684.5 863.3L624.2 906.4L563.8 951.3L503.3 998.5z" fill="#7100ff"/>
<path d="M495 1005.3L503.8 1013L513.1 1020.6L522.9 1028L532.5 1035.4L542.7 1042.7L553.7 1049.7L565 1056.7L576.8 1063.5L589 1070.2L600.3 1077.2L612 1084L624.2 1090.7L636.5 1097.4L649.2 1104L663 1110.2L676.5 1116.5L690.4 1122.8L704.6 1128.9L718.6 1135.1L732.9 1141.2L747.5 1147.2L761.6 1153.4L776 1159.4L790.7 1165.4L804.7 1171.7L819.2 1177.8L835.5 1180.8L854.7 1175.2L873.9 1169.5L893.2 1163.9L912.5 1155.8L931.8 1147.7L951.1 1139.7L970.4 1140.9L989.7 1142.1L1009 1143.3L1070.2 987.5L1131.2 860.1L1192 748.6L1252.7 647.5L1313.3 554.2L1373.7 466.7L1433.9 384L1494.1 305.2L1554.1 229.7L1496 251L1437.6 373.3L1379.4 463.4L1321.6 524.4L1264 571.1L1206.5 608.8L1149.2 640.7L1092 669L1034.9 692.1L977.9 712.6L921.1 729.2L864.4 741.9L804.6 781.2L744.6 821.6L684.5 863.3L624.2 906.4L563.8 951.3L503.3 998.5z" fill="#5600ff"/>
<path d="M514.1 990L521.4 998.2L530.2 1005.9L539.6 1013.5L548.8 1021L558.5 1028.5L568.8 1035.8L578.6 1043.2L589.6 1050.2L601.5 1057L612.4 1064.1L623.7 1071.1L635.6 1077.9L647.5 1084.7L659.9 1091.4L672.7 1097.9L684.9 1104.7L698.5 1111L712.4 1117.1L726.1 1123.4L740.2 1129.6L754.6 1135.7L768.4 1141.9L782.6 1148.1L797.1 1154.2L810.9 1160.5L825.1 1166.6L839.6 1172.7L854.7 1175.2L873.9 1169.5L893.2 1163.9L912.5 1155.8L931.8 1147.7L951.1 1139.7L970.4 1140.9L989.7 1142.1L1009 1143.3L1070.2 987.5L1131.2 860.1L1192 748.6L1252.7 647.5L1313.3 554.2L1373.7 466.7L1433.9 384L1494.1 305.2L1554.1 229.7L1496 251L1437.6 373.3L1379.4 463.4L1321.6 524.4L1264 571.1L1206.5 608.8L1149.2 640.7L1092 669L1034.9 692.1L977.9 712.6L921.1 729.2L864.4 741.9L804.6 781.2L744.6 821.6L684.5 863.3L624.2 906.4L563.8 951.3z" fill="#3a00ff"/>
<path d="M534 974.6L540.7 982.9L548 991.1L556.3 999L565 1006.7L574.3 1014.3L584.2 1021.7L593.6 1029.2L603.5 1036.6L614 1043.8L624.4 1051.1L635.4 1058.1L647 1065.1L658.6 1072L670.6 1078.7L683.1 1085.4L694.8 1092.3L706.9 1099L720.2 1105.4L733.7 1111.8L747.5 1118L761.6 1124.2L775.2 1130.5L789.2 1136.8L803.5 1142.9L817 1149.3L831 1155.5L845.3 1161.6L858.1 1168.3L873.9 1169.5L893.2 1163.9L912.5 1155.8L931.8 1147.7L951.1 1139.7L970.4 1140.9L989.7 1142.1L1009 1143.3L1070.2 987.5L1131.2 860.1L1192 748.6L1252.7 647.5L1313.3 554.2L1373.7 466.7L1433.9 384L1494.1 305.2L1554.1 229.7L1496 251L1437.6 373.3L1379.4 463.4L1321.6 524.4L1264 571.1L1206.5 608.8L1149.2 640.7L1092 669L1034.9 692.1L977.9 712.6L921.1 729.2L864.4 741.9L804.6 781.2L744.6 821.6L684.5 863.3L624.2 906.4L563.8 951.3z" fill="#1f00ff"/>
<path d="M553.9 959.1L560.1 967.6L566.9 975.9L574.4 984L581.5 992.3L590.2 1000L599.6 1007.6L608.5 1015.3L618.1 1022.8L628.1 1030.1L637.1 1037.8L647.1 1045.2L658.3 1052.2L669.6 1059.2L681.3 1066.1L693.4 1072.8L704.8 1079.8L716.7 1086.7L728.9 1093.4L741.2 1100.2L754.8 1106.5L768.7 1112.7L782 1119.1L795.7 1125.4L809.8 1131.6L823.1 1138L836.9 1144.4L851 1150.6L863.5 1157.3L876.7 1163.8L893.2 1163.9L912.5 1155.8L931.8 1147.7L951.1 1139.7L970.4 1140.9L989.7 1142.1L1009 1143.3L1070.2 987.5L1131.2 860.1L1192 748.6L1252.7 647.5L1313.3 554.2L1373.7 466.7L1433.9 384L1494.1 305.2L1554.1 229.7L1496 251L1437.6 373.3L1379.4 463.4L1321.6 524.4L1264 571.1L1206.5 608.8L1149.2 640.7L1092 669L1034.9 692.1L977.9 712.6L921.1 729.2L864.4 741.9L804.6 781.2L744.6 821.6L684.5 863.3L624.2 906.4L563.8 951.3z" fill="#0400ff"/>
<path d="M574.5 943.4L579.4 952.3L585.8 960.7L592.8 969L599.5 977.4L606.8 985.6L614.9 993.5L623.5 1001.3L632.6 1009L642.3 1016.4L650.8 1024.3L659.9 1031.9L669.7 1039.4L680.6 1046.5L692 1053.5L703.8 1060.3L714.9 1067.4L726.5 1074.3L738.4 1081.2L750 1088.1L762.1 1094.9L775.8 1101.2L788.9 1107.7L802.3 1114.1L816.2 1120.3L829.3 1126.8L842.8 1133.2L856.7 1139.5L869 1146.3L881.9 1152.9L895.3 1159.4L912.5 1155.8L931.8 1147.7L951.1 1139.7L970.4 1140.9L989.7 1142.1L1009 1143.3L1070.2 987.5L1131.2 860.1L1192 748.6L1252.7 647.5L1313.3 554.2L1373.7 466.7L1433.9 384L1494.1 305.2L1554.1 229.7L1496 251L1437.6 373.3L1379.4 463.4L1321.6 524.4L1264 571.1L1206.5 608.8L1149.2 640.7L1092 669L1034.9 692.1L977.9 712.6L921.1 729.2L864.4 741.9L804.6 781.2L744.6 821.6L684.5 863.3L624.2 906.4z" fill="#0015ff"/>
<path d="M596 927.4L600.1 936.6L604.9 945.5L611.2 954L617.4 962.5L624.2 970.8L631.7 979L638.7 987.3L647.1 995.1L656.4 1002.7L664.5 1010.7L673.3 1018.5L682.6 1026.1L691.9 1033.7L702.7 1040.9L714.2 1047.8L725 1055L736.2 1062L748 1068.9L759.2 1075.9L771 1082.8L783.2 1089.6L795.7 1096.3L808.9 1102.7L822.6 1109L835.4 1115.6L848.7 1122.1L862.4 1128.4L874.4 1135.3L887 1142L900.3 1148.5L912.7 1155.3L931.8 1147.7L951.1 1139.7L970.4 1140.9L989.7 1142.1L1009 1143.3L1070.2 987.5L1131.2 860.1L1192 748.6L1252.7 647.5L1313.3 554.2L1373.7 466.7L1433.9 384L1494.1 305.2L1554.1 229.7L1496 251L1437.6 373.3L1379.4 463.4L1321.6 524.4L1264 571.1L1206.5 608.8L1149.2 640.7L1092 669L1034.9 692.1L977.9 712.6L921.1 729.2L864.4 741.9L804.6 781.2L744.6 821.6L684.5 863.3L624.2 906.4z" fill="#002dff"/>
<path d="M617.4 911.4L621 920.8L625.4 929.8L630.4 938.7L635.3 947.7L641.7 956.1L648.7 964.4L655.2 972.9L662.3 981.1L670.5 989.1L678.2 997.1L686.6 1005L695.6 1012.8L704.5 1020.5L714.1 1028L724.6 1035.3L735.1 1042.5L746 1049.7L757.5 1056.6L768.5 1063.8L779.9 1070.7L791.9 1077.6L803 1084.7L815.5 1091.4L829 1097.8L841.5 1104.4L854.6 1111L868.1 1117.4L879.8 1124.3L892.2 1131.1L905.2 1137.7L917.4 1144.5L931.8 1147.7L951.1 1139.7L970.4 1140.9L989.7 1142.1L1009 1143.3L1070.2 987.5L1131.2 860.1L1192 748.6L1252.7 647.5L1313.3 554.2L1373.7 466.7L1433.9 384L1494.1 305.2L1554.1 229.7L1496 251L1437.6 373.3L1379.4 463.4L1321.6 524.4L1264 571.1L1206.5 608.8L1149.2 640.7L1092 669L1034.9 692.1L977.9 712.6L921.1 729.2L864.4 741.9L804.6 781.2L744.6 821.6L684.5 863.3L624.2 906.4z" fill="#0044ff"/>
<path d="M639.9 895.2L642 905L645.8 914.2L650.4 923.2L654.4 932.4L659.2 941.4L665.7 949.8L671.7 958.4L678.4 966.8L685.8 975L691.9 983.6L699.9 991.6L708.5 999.4L717.1 1007.3L726.3 1014.9L736.1 1022.4L745.1 1030.1L755.8 1037.3L767 1044.4L777.7 1051.6L788.9 1058.7L800.6 1065.6L811.4 1072.8L822.7 1079.9L835.3 1086.5L847.6 1093.3L860.4 1099.8L873.7 1106.3L885.2 1113.3L897.4 1120.2L910.2 1126.8L922.1 1133.7L934.8 1140.4L951.1 1139.7L970.4 1140.9L989.7 1142.1L1009 1143.3L1070.2 987.5L1131.2 860.1L1192 748.6L1252.7 647.5L1313.3 554.2L1373.7 466.7L1433.9 384L1494.1 305.2L1554.1 229.7L1496 251L1437.6 373.3L1379.4 463.4L1321.6 524.4L1264 571.1L1206.5 608.8L1149.2 640.7L1092 669L1034.9 692.1L977.9 712.6L921.1 729.2L864.4 741.9L804.6 781.2L744.6 821.6L684.5 863.3z" fill="#0059ff"/>
<path d="M662.8 878.8L664.3 888.7L666.6 898.5L670.3 907.7L673.8 917.1L678.1 926.2L683.2 935.1L688.2 944L694.4 952.5L701.4 960.8L707 969.6L713.4 978.1L721.5 986.1L729.7 994L738.6 1001.8L748 1009.4L756.5 1017.3L765.6 1025L776.4 1032.1L786.9 1039.4L797.8 1046.6L809.2 1053.6L819.7 1060.9L830.8 1068L842.4 1075L853.7 1082.1L866.3 1088.7L879.4 1095.2L890.7 1102.4L902.6 1109.3L915.2 1116L926.9 1123L939.3 1129.7L952.4 1136.3L970.4 1140.9L989.7 1142.1L1009 1143.3L1070.2 987.5L1131.2 860.1L1192 748.6L1252.7 647.5L1313.3 554.2L1373.7 466.7L1433.9 384L1494.1 305.2L1554.1 229.7L1496 251L1437.6 373.3L1379.4 463.4L1321.6 524.4L1264 571.1L1206.5 608.8L1149.2 640.7L1092 669L1034.9 692.1L977.9 712.6L921.1 729.2L864.4 741.9L804.6 781.2L744.6 821.6L684.5 863.3z" fill="#006eff"/>
<path d="M685.8 862.4L686.7 872.5L688.4 882.4L691 892L693.2 901.8L697 911L701.6 920.1L705.4 929.4L710.5 938.3L717 946.7L722.2 955.6L728.2 964.2L734.9 972.6L742.3 980.8L750.8 988.7L759.9 996.4L768 1004.4L776.8 1012.2L786.1 1019.8L796.1 1027.3L806.7 1034.5L817.9 1041.6L828.1 1049L838.9 1056.2L850.2 1063.3L860.3 1070.7L872.2 1077.6L885.1 1084.2L896.1 1091.4L907.8 1098.4L920.2 1105.1L931.6 1112.2L943.8 1119.1L956.7 1125.7L974.4 1130.7L992.1 1135.8L1009.9 1140.9L1070.2 987.5L1131.2 860.1L1192 748.6L1252.7 647.5L1313.3 554.2L1373.7 466.7L1433.9 384L1494.1 305.2L1554.1 229.7L1496 251L1437.6 373.3L1379.4 463.4L1321.6 524.4L1264 571.1L1206.5 608.8L1149.2 640.7L1092 669L1034.9 692.1L977.9 712.6L921.1 729.2L864.4 741.9L804.6 781.2L744.6 821.6z" fill="#0082ff"/>
<path d="M710.1 845.5L709.4 856.1L710.3 866.3L712.4 876.1L713.6 886.1L716 895.9L720.1 905L723.3 914.5L727.5 923.7L732.6 932.6L737.4 941.5L743 950.3L749.3 958.9L755.5 967.4L763 975.6L771.8 983.4L779.6 991.5L788 999.4L797.1 1007.1L805.5 1015.1L815.7 1022.4L826.6 1029.6L836.5 1037.1L847 1044.4L858.1 1051.5L867.9 1059.1L878.3 1066.4L890.8 1073.1L901.5 1080.4L913 1087.4L925.1 1094.3L936.3 1101.5L948.3 1108.4L961 1115.1L978.6 1120.1L996.3 1125.2L1014.1 1130.3L1070.2 987.5L1131.2 860.1L1192 748.6L1252.7 647.5L1313.3 554.2L1373.7 466.7L1433.9 384L1494.1 305.2L1554.1 229.7L1496 251L1437.6 373.3L1379.4 463.4L1321.6 524.4L1264 571.1L1206.5 608.8L1149.2 640.7L1092 669L1034.9 692.1L977.9 712.6L921.1 729.2L864.4 741.9L804.6 781.2L744.6 821.6z" fill="#0095ff"/>
<path d="M734.3 828.7L733.1 839.5L732.8 850L733.8 860.1L734.5 870.4L736.1 880.3L738.5 890L741.3 899.6L744.9 909L749.4 918L752.6 927.5L757.8 936.4L763.7 945.1L769.5 953.8L776 962.3L783.7 970.4L791.1 978.6L799.3 986.6L808 994.4L816.1 1002.5L824.8 1010.3L835.3 1017.6L844.9 1025.2L855.2 1032.5L866 1039.7L875.5 1047.4L885.7 1054.8L896.5 1062.1L906.9 1069.4L918.2 1076.5L930.1 1083.4L941 1090.7L952.8 1097.7L965.2 1104.4L982.9 1109.5L1000.5 1114.6L1018.3 1119.7L1070.2 987.5L1131.2 860.1L1192 748.6L1252.7 647.5L1313.3 554.2L1373.7 466.7L1433.9 384L1494.1 305.2L1554.1 229.7L1496 251L1437.6 373.3L1379.4 463.4L1321.6 524.4L1264 571.1L1206.5 608.8L1149.2 640.7L1092 669L1034.9 692.1L977.9 712.6L921.1 729.2L864.4 741.9L804.6 781.2L744.6 821.6z" fill="#00a8ff"/>
<path d="M759.3 811.7L756.9 822.8L756.1 833.5L756.1 843.9L755.3 854.6L756.4 864.7L758.4 874.5L759.3 884.7L762.3 894.2L766.4 903.5L769.1 913.1L772.6 922.5L778.1 931.3L783.4 940.1L789.6 948.8L796.4 957.1L802.7 965.7L810.5 973.8L818.9 981.7L826.7 989.9L835.1 997.8L844.2 1005.5L853.3 1013.3L863.3 1020.7L873.9 1028L883.1 1035.7L893 1043.2L903.5 1050.6L912.4 1058.4L923.4 1065.6L935.1 1072.6L945.7 1079.9L957.2 1087L969.5 1093.8L987.1 1098.9L1004.7 1104L1022.4 1109.1L1070.2 987.5L1131.2 860.1L1192 748.6L1252.7 647.5L1313.3 554.2L1373.7 466.7L1433.9 384L1494.1 305.2L1554.1 229.7L1496 251L1437.6 373.3L1379.4 463.4L1321.6 524.4L1264 571.1L1206.5 608.8L1149.2 640.7L1092 669L1034.9 692.1L977.9 712.6L921.1 729.2L864.4 741.9L804.6 781.2z" fill="#00bbff"/>
<path d="M784.9 794.5L781.6 805.9L779.3 817L778.8 827.6L777.2 838.5L776.7 849.1L778.2 859.1L778.6 869.4L780.1 879.5L783.3 888.9L785.6 898.7L788.7 908.2L792.6 917.5L797.4 926.5L803.2 935.2L809.6 943.7L815 952.6L821.7 961L829.8 969L837.3 977.3L845.5 985.3L854.2 993.1L861.7 1001.3L871.4 1008.9L881.7 1016.3L890.7 1024.1L900.3 1031.7L910.6 1039.1L918.3 1047.3L928.6 1054.7L940.1 1061.8L950.4 1069.2L961.7 1076.3L973.8 1083.2L991.3 1088.3L1008.9 1093.4L1026.6 1098.5L1070.2 987.5L1131.2 860.1L1192 748.6L1252.7 647.5L1313.3 554.2L1373.7 466.7L1433.9 384L1494.1 305.2L1554.1 229.7L1496 251L1437.6 373.3L1379.4 463.4L1321.6 524.4L1264 571.1L1206.5 608.8L1149.2 640.7L1092 669L1034.9 692.1L977.9 712.6L921.1 729.2L864.4 741.9L804.6 781.2z" fill="#00cfff"/>
<path d="M810.7 777.2L806.6 788.9L803.7 800.2L801.6 811.2L799.3 822.4L798.1 833.2L797.9 843.7L797.8 854.2L798.8 864.3L800.7 874.2L802.1 884.3L804.8 893.9L808.3 903.3L811.5 912.8L816.8 921.7L822.9 930.3L827.9 939.3L833.7 948L840.7 956.4L847.9 964.7L855.8 972.8L864.2 980.7L871.4 989L879.5 997.1L889.6 1004.5L898.2 1012.4L907.6 1020.1L917.7 1027.6L925.1 1035.9L933.8 1043.8L945 1050.9L955.1 1058.4L966.2 1065.6L978 1072.6L995.6 1077.7L1013.1 1082.8L1030.7 1087.9L1070.2 987.5L1131.2 860.1L1192 748.6L1252.7 647.5L1313.3 554.2L1373.7 466.7L1433.9 384L1494.1 305.2L1554.1 229.7L1496 251L1437.6 373.3L1379.4 463.4L1321.6 524.4L1264 571.1L1206.5 608.8L1149.2 640.7L1092 669L1034.9 692.1L977.9 712.6L921.1 729.2L864.4 741.9z" fill="#00e5ff"/>
<path d="M837.5 759.6L832 771.7L828.2 783.3L825.6 794.5L821.5 806.2L819.7 817.2L819 827.9L817.1 838.9L817.5 849.3L818.9 859.3L819 869.7L820.9 879.6L824 889.1L826.8 898.8L830.4 908.2L836.1 916.9L840.8 926L846.2 934.8L852.4 943.4L858.5 952.1L866 960.3L874.3 968.3L881.1 976.7L888.8 984.9L897.5 992.8L905.8 1000.8L914.9 1008.5L924.8 1016.1L931.8 1024.5L939.9 1032.6L950 1040.1L959.9 1047.7L970.7 1054.9L982.3 1061.9L999.8 1067.1L1017.3 1072.2L1034.9 1077.3L1070.2 987.5L1131.2 860.1L1192 748.6L1252.7 647.5L1313.3 554.2L1373.7 466.7L1433.9 384L1494.1 305.2L1554.1 229.7L1496 251L1437.6 373.3L1379.4 463.4L1321.6 524.4L1264 571.1L1206.5 608.8L1149.2 640.7L1092 669L1034.9 692.1L977.9 712.6L921.1 729.2L864.4 741.9z" fill="#00fbff"/>
<path d="M864.2 742L858.2 754.3L853.2 766.3L849.7 777.8L845 789.6L841.4 801.2L840.1 812L837.5 823.3L836.2 834.2L837.1 844.3L836.8 854.9L837.3 865.2L839.7 875L842 884.8L845.3 894.3L849.4 903.5L853.6 912.7L858.7 921.6L864.6 930.3L869.6 939.3L876.3 947.8L884.3 955.9L890.8 964.4L898.2 972.7L906.2 980.7L913.4 989.1L922.3 996.9L931.8 1004.6L938.6 1013.1L946.4 1021.3L955.2 1029.2L964.6 1036.9L975.1 1044.2L986.6 1051.3L1004 1056.4L1021.5 1061.6L1039.1 1066.7L1070.2 987.5L1131.2 860.1L1192 748.6L1252.7 647.5L1313.3 554.2L1373.7 466.7L1433.9 384L1494.1 305.2L1554.1 229.7L1496 251L1437.6 373.3L1379.4 463.4L1321.6 524.4L1264 571.1L1206.5 608.8L1149.2 640.7L1092 669L1034.9 692.1L977.9 712.6L921.1 729.2L864.4 741.9z" fill="#00ffe7"/>
<path d="M883.3 737.7L878.9 749L874.3 760.8L868.4 773.1L864.3 784.8L861.3 796.2L858 807.6L856.1 818.7L855.3 829.4L854.5 840.1L854.7 850.6L855.7 860.7L857.3 870.7L860.1 880.4L863.8 889.7L866.5 899.4L871.2 908.5L876.8 917.3L881.5 926.3L887 935.2L894.3 943.5L900.5 952.1L907.6 960.5L915.4 968.6L921.3 977.4L929.6 985.4L938.9 993.1L945.4 1001.7L952.9 1010L961.4 1018L969.3 1026.1L979.6 1033.6L990.8 1040.7L1008.3 1045.8L1025.7 1051L1043.2 1056.1L1070.2 987.5L1131.2 860.1L1192 748.6L1252.7 647.5L1313.3 554.2L1373.7 466.7L1433.9 384L1494.1 305.2L1554.1 229.7L1496 251L1437.6 373.3L1379.4 463.4L1321.6 524.4L1264 571.1L1206.5 608.8L1149.2 640.7L1092 669L1034.9 692.1L977.9 712.6L921.1 729.2L883.3 737.7z" fill="#00ffca"/>
<path d="M902.2 733.4L899.6 743.7L892.4 756.4L887.1 768.5L883.6 780L878.5 792L876 803.2L874.7 814.1L872.2 825.3L872 835.9L872.7 846.2L872.7 856.7L874.9 866.5L878.2 875.9L880.4 885.8L883.7 895.3L888.9 904.2L893.3 913.4L898.5 922.3L904.4 931L910.2 939.8L917 948.2L924.5 956.5L930.1 965.3L936.9 973.8L946 981.6L952.1 990.3L959.4 998.6L967.6 1006.7L974.1 1015.4L984.1 1022.9L995.1 1030.1L1012.5 1035.2L1029.9 1040.4L1047.4 1045.5L1070.2 987.5L1131.2 860.1L1192 748.6L1252.7 647.5L1313.3 554.2L1373.7 466.7L1433.9 384L1494.1 305.2L1554.1 229.7L1496 251L1437.6 373.3L1379.4 463.4L1321.6 524.4L1264 571.1L1206.5 608.8L1149.2 640.7L1092 669L1034.9 692.1L977.9 712.6L921.1 729.2L902.2 733.4z" fill="#00ff9f"/>
<path d="M921.1 729.2L917 739.5L910.4 751.9L905.8 763.8L900.2 776L895.9 787.8L894.1 798.8L891 810.2L889.3 821.2L889.6 831.6L889.1 842.3L889.8 852.6L892.7 862.2L894.4 872.1L897.1 881.8L901.1 891.1L905.1 900.4L910 909.4L915.6 918.2L919.9 927.5L926.4 936L933.6 944.3L938.9 953.3L945.2 961.9L953 970.1L958.9 978.9L965.9 987.3L973.9 995.5L980 1004.2L988.6 1012.2L999.4 1019.5L1016.7 1024.6L1034.1 1029.8L1051.6 1034.9L1070.2 987.5L1131.2 860.1L1192 748.6L1252.7 647.5L1313.3 554.2L1373.7 466.7L1433.9 384L1494.1 305.2L1554.1 229.7L1496 251L1437.6 373.3L1379.4 463.4L1321.6 524.4L1264 571.1L1206.5 608.8L1149.2 640.7L1092 669L1034.9 692.1L977.9 712.6L921.1 729.2z" fill="#00ff66"/>
<path d="M940 723.7L934.4 735.2L928.6 747.5L921.8 760L916.9 772L913.4 783.5L909.9 795.1L907.5 806.3L906.5 817.1L905.5 827.9L905.7 838.3L907.1 848.4L908.5 858.5L910.8 868.3L914 877.8L917 887.4L921.5 896.6L926.8 905.4L930.5 914.9L935.8 923.8L942.7 932.2L947.7 941.2L953.7 950L960.6 958.4L965.7 967.5L972.4 976L980.1 984.2L985.9 993.1L993.1 1001.5L1003.6 1008.8L1020.9 1014L1038.3 1019.1L1055.7 1024.3L1070.2 987.5L1131.2 860.1L1192 748.6L1252.7 647.5L1313.3 554.2L1373.7 466.7L1433.9 384L1494.1 305.2L1554.1 229.7L1496 251L1437.6 373.3L1379.4 463.4L1321.6 524.4L1264 571.1L1206.5 608.8L1149.2 640.7L1092 669L1034.9 692.1L977.9 712.6L940 723.7z" fill="#00ff00"/>
<path d="M940 723.7L958.4 718.6L952 731L943.7 744L937.9 756.2L933.8 767.9L928.8 779.9L926 791.3L924.2 802.3L922 813.5L921.7 824.1L922.5 834.3L922.5 844.8L924.5 854.8L927.3 864.4L929.1 874.4L933 883.7L938 892.7L941.4 902.2L945.7 911.4L951.9 920.1L956.5 929.2L962.2 938L968.8 946.6L972.4 956.1L978.9 964.7L986.3 973L991.9 981.9L998.7 990.4L1007.9 998.2L1025.2 1003.4L1042.5 1008.6L1059.9 1013.7L1070.2 987.5L1131.2 860.1L1192 748.6L1252.7 647.5L1313.3 554.2L1373.7 466.7L1433.9 384L1494.1 305.2L1554.1 229.7L1496 251L1437.6 373.3L1379.4 463.4L1321.6 524.4L1264 571.1L1206.5 608.8L1149.2 640.7L1092 669L1034.9 692.1L977.9 712.6L940 723.7z" fill="#00ff00"/>
<path d="M959 718.1L975.3 714.4L966.4 727.7L959.1 740.4L954.2 752.3L948.5 764.6L944.5 776.3L942.2 787.5L938.9 799L937.7 809.8L938 820.2L937.2 831L938.1 841.2L940.6 851L942.1 861L944.5 870.8L949.2 879.9L952.2 889.5L956.2 898.9L961.1 907.9L965.3 917.2L970.7 926.1L977 934.7L979.6 944.6L985.3 953.4L992.6 961.8L997.8 970.8L1004.4 979.4L1012.1 987.6L1029.4 992.8L1046.7 998L1064 1003.1L1070.2 987.5L1131.2 860.1L1192 748.6L1252.7 647.5L1313.3 554.2L1373.7 466.7L1433.9 384L1494.1 305.2L1554.1 229.7L1496 251L1437.6 373.3L1379.4 463.4L1321.6 524.4L1264 571.1L1206.5 608.8L1149.2 640.7L1092 669L1034.9 692.1L977.9 712.6L959 718.1z" fill="#00ff00"/>
<path d="M977.9 712.6L989.1 711.4L981.1 724.3L974.6 736.7L968.5 749.1L963.5 761.1L960.2 772.6L956.4 784.3L953.9 795.5L953.6 806.1L952.3 817L952.2 827.6L954 837.5L955 847.7L957.1 857.6L960.4 867.1L963.1 876.9L966.7 886.3L971.3 895.4L974.1 905.1L979.2 914.2L985.2 922.9L987.5 932.8L991.8 942.1L998.8 950.5L1003.7 959.7L1010 968.3L1017.5 976.6L1034.2 982L1050.9 987.3L1068.2 992.5L1070.2 987.5L1131.2 860.1L1192 748.6L1252.7 647.5L1313.3 554.2L1373.7 466.7L1433.9 384L1494.1 305.2L1554.1 229.7L1496 251L1437.6 373.3L1379.4 463.4L1321.6 524.4L1264 571.1L1206.5 608.8L1149.2 640.7L1092 669L1034.9 692.1L977.9 712.6z" fill="#00ff00"/>
<path d="M996.9 705.8L1003.2 708.2L996.1 720.8L988.5 733.6L983 745.8L978.6 757.6L973.9 769.6L970.9 781L969.1 792L967.5 803L966.9 813.7L967.3 824.1L968 834.4L969.7 844.4L972.4 854.1L973.9 864.2L977.3 873.7L981.5 883L983.4 893L987.7 902.2L993.5 911L995.4 921.1L998.7 930.7L1005 939.3L1009.6 948.5L1015.7 957.3L1022.9 965.7L1039.5 971L1056.2 976.4L1072.9 981.7L1131.2 860.1L1192 748.6L1252.7 647.5L1313.3 554.2L1373.7 466.7L1433.9 384L1494.1 305.2L1554.1 229.7L1496 251L1437.6 373.3L1379.4 463.4L1321.6 524.4L1264 571.1L1206.5 608.8L1149.2 640.7L1092 669L1034.9 692.1L996.9 705.8z" fill="#00ff00"/>
<path d="M1015.9 698.9L1017.6 704.9L1009.2 717.9L1002.5 730.5L997.7 742.4L991.5 754.8L987.9 766.4L985.7 777.6L982.6 789.1L981.6 799.9L981.7 810.4L980.9 821.1L982.3 831.2L984.6 841L985 851.5L987.8 861.2L991.7 870.5L993.2 880.6L996.2 890.3L1001.7 899.2L1003.3 909.3L1006.3 919L1011.2 928.1L1015.5 937.4L1021.3 946.2L1028.3 954.7L1044.8 960.1L1061.5 965.5L1078.2 970.8L1131.2 860.1L1192 748.6L1252.7 647.5L1313.3 554.2L1373.7 466.7L1433.9 384L1494.1 305.2L1554.1 229.7L1496 251L1437.6 373.3L1379.4 463.4L1321.6 524.4L1264 571.1L1206.5 608.8L1149.2 640.7L1092 669L1034.9 692.1L1015.9 698.9z" fill="#00ff00"/>
<path d="M1034.9 692.1L1030.2 702.2L1022.5 715L1016.8 727.2L1010 739.8L1005 751.9L1002.2 763.2L998.3 774.9L996.4 786L996.1 796.6L994.5 807.6L994.9 818L996.9 827.9L996.9 838.5L998.3 848.6L1002 858L1003.1 868.3L1005.5 878.1L1009.9 887.3L1011.2 897.6L1013.8 907.4L1017.8 916.7L1021.5 926.3L1026.9 935.2L1033.7 943.7L1050.2 949.1L1066.8 954.5L1083.4 959.9L1131.2 860.1L1192 748.6L1252.7 647.5L1313.3 554.2L1373.7 466.7L1433.9 384L1494.1 305.2L1554.1 229.7L1496 251L1437.6 373.3L1379.4 463.4L1321.6 524.4L1264 571.1L1206.5 608.8L1149.2 640.7L1092 669L1034.9 692.1z" fill="#00ff00"/>
<path d="M1034.9 692.1L1051.2 686.4L1043.1 699.4L1036.1 712L1028.6 724.8L1022.7 737.1L1018.8 748.8L1014.5 760.6L1011.4 772.1L1010.4 782.9L1008.5 794L1007.7 804.8L1009.1 814.8L1008.8 825.5L1009.5 835.8L1012.2 845.6L1013 855.9L1015 865.9L1018.2 875.5L1019 885.8L1021.4 895.7L1025.1 905.2L1027.4 915.1L1032.6 924.1L1039 932.8L1055.5 938.2L1072 943.6L1088.6 948.9L1131.2 860.1L1192 748.6L1252.7 647.5L1313.3 554.2L1373.7 466.7L1433.9 384L1494.1 305.2L1554.1 229.7L1496 251L1437.6 373.3L1379.4 463.4L1321.6 524.4L1264 571.1L1206.5 608.8L1149.2 640.7L1092 669L1034.9 692.1z" fill="#00ff00"/>
<path d="M1053.9 684.4L1063.6 683.7L1056.3 696.5L1047.1 709.8L1040.7 722.2L1035.7 734.3L1030.6 746.3L1027.1 757.9L1024.8 769.1L1022.5 780.4L1021.3 791.3L1021.4 801.8L1020.7 812.5L1021.1 823L1022.5 833.1L1022.9 843.5L1024.6 853.6L1027.4 863.3L1026.9 874.1L1029 884.1L1032.4 893.6L1033.3 904L1038.2 913.1L1044.4 921.8L1060.8 927.2L1077.3 932.6L1093.9 938L1131.2 860.1L1192 748.6L1252.7 647.5L1313.3 554.2L1373.7 466.7L1433.9 384L1494.1 305.2L1554.1 229.7L1496 251L1437.6 373.3L1379.4 463.4L1321.6 524.4L1264 571.1L1206.5 608.8L1149.2 640.7L1092 669L1053.9 684.4z" fill="#00ff00"/>
<path d="M1072.9 676.7L1076.4 681L1066.4 694.5L1058.7 707.4L1053.2 719.6L1046.7 732.1L1042.8 743.8L1040 755.1L1036.4 766.8L1034.9 777.8L1034.4 788.4L1032.5 799.6L1032.6 810.1L1033.8 820.3L1032.7 831.2L1034.1 841.3L1036.7 851.1L1034.8 862.3L1036.5 872.4L1039.7 882.1L1040 892.6L1043.8 902.1L1049.8 910.8L1066.2 916.3L1082.6 921.7L1099.1 927.1L1131.2 860.1L1192 748.6L1252.7 647.5L1313.3 554.2L1373.7 466.7L1433.9 384L1494.1 305.2L1554.1 229.7L1496 251L1437.6 373.3L1379.4 463.4L1321.6 524.4L1264 571.1L1206.5 608.8L1149.2 640.7L1092 669L1072.9 676.7z" fill="#00ff00"/>
<path d="M1092 669L1085.9 679.2L1077.1 692.4L1070.8 704.9L1063.7 717.5L1058.5 729.6L1055.4 741.1L1050.7 753.1L1048.5 764.3L1047.7 775L1044.5 786.6L1044.2 797.2L1045 807.5L1042.9 818.8L1043.7 829.1L1045.9 839L1043.3 850.4L1044.1 860.8L1046.9 870.5L1046.9 881.2L1049.5 891L1055.2 899.9L1071.5 905.3L1087.9 910.7L1104.3 916.1L1131.2 860.1L1192 748.6L1252.7 647.5L1313.3 554.2L1373.7 466.7L1433.9 384L1494.1 305.2L1554.1 229.7L1496 251L1437.6 373.3L1379.4 463.4L1321.6 524.4L1264 571.1L1206.5 608.8L1149.2 640.7L1092 669z" fill="#65ff00"/>
<path d="M1092 669L1105.5 663.9L1096.1 677.3L1088.3 690.2L1080.8 703L1074.7 715.4L1070.7 727.1L1065.7 739.2L1062.1 750.8L1060.9 761.7L1057.4 773.3L1055.7 784.4L1056.2 794.7L1053.7 806.1L1053.2 816.8L1055.2 826.8L1052.2 838.4L1051.7 849.1L1054.2 859L1053.8 869.7L1055.3 879.9L1060.6 888.9L1076.8 894.4L1093.2 899.8L1109.6 905.2L1131.2 860.1L1192 748.6L1252.7 647.5L1313.3 554.2L1373.7 466.7L1433.9 384L1494.1 305.2L1554.1 229.7L1496 251L1437.6 373.3L1379.4 463.4L1321.6 524.4L1264 571.1L1206.5 608.8L1149.2 640.7L1092 669z" fill="#76ff00"/>
<path d="M1111 659.6L1115 662.2L1106.7 675.2L1097.9 688.4L1091.3 700.9L1086 713.1L1080.6 725.3L1076.4 737.1L1074.2 748.3L1070.2 760L1067.7 771.4L1067.4 782L1064.6 793.4L1063.1 804.5L1064.4 814.6L1061.1 826.3L1059.5 837.4L1061.5 847.4L1060.7 858.3L1061.9 868.6L1065.9 877.9L1082.2 883.4L1098.4 888.9L1114.8 894.3L1131.2 860.1L1192 748.6L1252.7 647.5L1313.3 554.2L1373.7 466.7L1433.9 384L1494.1 305.2L1554.1 229.7L1496 251L1437.6 373.3L1379.4 463.4L1321.6 524.4L1264 571.1L1206.5 608.8L1149.2 640.7L1111 659.6z" fill="#87ff00"/>
<path d="M1130.1 650.2L1125.1 660.2L1115.3 673.8L1108 686.5L1102.3 698.8L1095.5 711.4L1090.9 723.3L1087.6 734.8L1083.1 746.8L1080.1 758.2L1078.7 769.2L1075.4 780.8L1073.6 791.9L1073.6 802.5L1069.9 814.3L1068 825.5L1068.7 835.9L1067.6 846.8L1068.5 857.2L1071.3 867L1087.5 872.5L1103.7 877.9L1120 883.4L1131.2 860.1L1192 748.6L1252.7 647.5L1313.3 554.2L1373.7 466.7L1433.9 384L1494.1 305.2L1554.1 229.7L1496 251L1437.6 373.3L1379.4 463.4L1321.6 524.4L1264 571.1L1206.5 608.8L1149.2 640.7L1130.1 650.2z" fill="#98ff00"/>
<path d="M1130.1 650.2L1143.6 645.3L1133.3 658.9L1124.6 672.1L1118.5 684.5L1110.7 697.4L1105.5 709.5L1101.8 721.2L1095.9 733.5L1092.6 745.1L1090.6 756.2L1086.2 768.2L1084.1 779.4L1083.3 790.2L1078.8 802.2L1076.6 813.5L1076 824.3L1074.6 835.4L1075.1 845.9L1077.3 855.8L1092.9 861.5L1109 867L1125.3 872.4L1131.2 860.1L1192 748.6L1252.7 647.5L1313.3 554.2L1373.7 466.7L1433.9 384L1494.1 305.2L1554.1 229.7L1496 251L1437.6 373.3L1379.4 463.4L1321.6 524.4L1264 571.1L1206.5 608.8L1149.2 640.7L1130.1 650.2z" fill="#abff00"/>
<path d="M1149.2 640.7L1151.3 644.1L1142 657.4L1134.8 670.2L1126.5 683.2L1120 695.7L1115.9 707.5L1109.2 720.1L1105.1 731.9L1102.7 743.2L1097.1 755.5L1094.6 766.8L1093.5 777.8L1087.6 790.2L1085.1 801.6L1084.2 812.5L1081.5 824L1081.7 834.5L1083.6 844.6L1099.1 850.3L1114.7 855.9L1130.5 861.5L1131.2 860.1L1192 748.6L1252.7 647.5L1313.3 554.2L1373.7 466.7L1433.9 384L1494.1 305.2L1554.1 229.7L1496 251L1437.6 373.3L1379.4 463.4L1321.6 524.4L1264 571.1L1206.5 608.8L1149.2 640.7z" fill="#c0ff00"/>
<path d="M1168.3 630.1L1159.6 642.7L1151.3 655.8L1142.3 669.1L1135.1 681.8L1130.1 693.8L1122.9 706.6L1117.6 718.8L1114.9 730.1L1108.5 742.7L1105.1 754.3L1103.6 765.3L1096.5 778.2L1093.6 789.7L1092.4 800.7L1088.4 812.5L1088.3 823.2L1089.9 833.3L1105.3 839L1120.9 844.7L1136.5 850.3L1192 748.6L1252.7 647.5L1313.3 554.2L1373.7 466.7L1433.9 384L1494.1 305.2L1554.1 229.7L1496 251L1437.6 373.3L1379.4 463.4L1321.6 524.4L1264 571.1L1206.5 608.8L1168.3 630.1z" fill="#d4ff00"/>
<path d="M1168.3 630.1L1177.1 628.1L1168.4 641.2L1158.1 654.9L1150.5 667.8L1144.2 680.2L1136.7 693.1L1130.6 705.5L1127 717.1L1120.3 729.8L1115.6 741.8L1113.8 752.9L1106.1 765.9L1102.1 777.8L1100.5 788.8L1095.3 801.1L1094.8 811.9L1096.2 822.1L1111.6 827.8L1127 833.5L1142.6 839.1L1192 748.6L1252.7 647.5L1313.3 554.2L1373.7 466.7L1433.9 384L1494.1 305.2L1554.1 229.7L1496 251L1437.6 373.3L1379.4 463.4L1321.6 524.4L1264 571.1L1206.5 608.8L1168.3 630.1z" fill="#eaff00"/>
<path d="M1187.4 619.5L1185.5 626.7L1174.4 640.6L1165.9 653.7L1159.2 666.3L1150.4 679.5L1144 692L1139.1 704.1L1132 716.8L1126.6 729.1L1124 740.4L1115.8 753.6L1110.6 765.8L1108.7 777L1103.1 789.4L1101.4 800.5L1102.5 810.8L1117.8 816.6L1133.2 822.3L1148.7 827.9L1192 748.6L1252.7 647.5L1313.3 554.2L1373.7 466.7L1433.9 384L1494.1 305.2L1554.1 229.7L1496 251L1437.6 373.3L1379.4 463.4L1321.6 524.4L1264 571.1L1206.5 608.8L1187.4 619.5z" fill="#feff00"/>
<path d="M1187.4 619.5L1202.6 612.1L1191.1 626.2L1181.3 639.7L1174.2 652.4L1164.2 666L1157.3 678.6L1151.9 690.8L1143.7 703.9L1137.9 716.3L1134.1 728L1125.6 741.3L1119.2 753.9L1116.9 765.2L1110.8 777.7L1108 789.2L1108.8 799.6L1124 805.3L1139.4 811L1154.8 816.7L1192 748.6L1252.7 647.5L1313.3 554.2L1373.7 466.7L1433.9 384L1494.1 305.2L1554.1 229.7L1496 251L1437.6 373.3L1379.4 463.4L1321.6 524.4L1264 571.1L1206.5 608.8L1187.4 619.5z" fill="#ffff00"/>
<path d="M1206.5 608.8L1207.7 611.8L1197.3 625.5L1189.2 638.5L1178.8 652.2L1170.7 665.2L1164.9 677.5L1155.5 691L1149.3 703.5L1144.7 715.5L1135.3 729L1128.6 741.7L1125.1 753.4L1118.6 766L1114.6 777.9L1115.1 788.3L1130.3 794.1L1145.5 799.8L1160.9 805.6L1192 748.6L1252.7 647.5L1313.3 554.2L1373.7 466.7L1433.9 384L1494.1 305.2L1554.1 229.7L1496 251L1437.6 373.3L1379.4 463.4L1321.6 524.4L1264 571.1L1206.5 608.8z" fill="#fff300"/>
<path d="M1206.5 608.8L1224.4 597.4L1213.5 611.2L1204.2 624.6L1193.3 638.4L1184.1 651.8L1177.9 664.2L1167.6 678L1160.7 690.7L1155.7 702.8L1145.1 716.7L1138 729.5L1133.2 741.5L1126.4 754.3L1122 766.3L1121.3 777.1L1136.5 782.9L1151.7 788.6L1167 794.4L1192 748.6L1252.7 647.5L1313.3 554.2L1373.7 466.7L1433.9 384L1494.1 305.2L1554.1 229.7L1496 251L1437.6 373.3L1379.4 463.4L1321.6 524.4L1264 571.1L1206.5 608.8z" fill="#ffe500"/>
<path d="M1225.6 596.3L1229.8 596.9L1220.1 610.4L1207.9 624.7L1198.3 638.1L1190.9 650.9L1180.2 664.8L1172 677.9L1166.7 690.1L1154.8 704.4L1147.3 717.3L1141.9 729.6L1134.2 742.6L1129.4 754.7L1127.6 765.9L1142.7 771.6L1157.9 777.4L1173.1 783.2L1192 748.6L1252.7 647.5L1313.3 554.2L1373.7 466.7L1433.9 384L1494.1 305.2L1554.1 229.7L1496 251L1437.6 373.3L1379.4 463.4L1321.6 524.4L1264 571.1L1225.6 596.3z" fill="#ffd600"/>
<path d="M1244.8 583.7L1235.9 596.2L1222.5 610.9L1212.5 624.5L1204 637.6L1192.8 651.6L1183.6 665L1177.7 677.4L1165 691.9L1156.7 705.1L1150.9 717.5L1142 730.9L1136.8 743.1L1133.9 754.6L1148.9 760.4L1164 766.2L1179.2 772L1192 748.6L1252.7 647.5L1313.3 554.2L1373.7 466.7L1433.9 384L1494.1 305.2L1554.1 229.7L1496 251L1437.6 373.3L1379.4 463.4L1321.6 524.4L1264 571.1L1244.8 583.7z" fill="#ffc700"/>
<path d="M1244.8 583.7L1251.7 582.1L1237.8 596.9L1226.6 610.8L1217.8 624.1L1205.4 638.5L1195.8 652L1188.7 664.7L1175.6 679.4L1166 692.9L1159.9 705.4L1149.7 719.2L1144.3 731.5L1141 743.1L1155.4 749.1L1170.2 755L1185.3 760.8L1192 748.6L1252.7 647.5L1313.3 554.2L1373.7 466.7L1433.9 384L1494.1 305.2L1554.1 229.7L1496 251L1437.6 373.3L1379.4 463.4L1321.6 524.4L1264 571.1L1244.8 583.7z" fill="#ffb800"/>
<path d="M1264 571.1L1253.2 582.9L1240.8 597.2L1231.6 610.5L1217.9 625.3L1208 638.9L1199.8 652L1186.2 666.8L1175.4 680.8L1168.9 693.3L1157.7 707.5L1151.7 719.9L1148.1 731.6L1162.4 737.7L1176.8 743.7L1191.4 749.6L1192 748.6L1252.7 647.5L1313.3 554.2L1373.7 466.7L1433.9 384L1494.1 305.2L1554.1 229.7L1496 251L1437.6 373.3L1379.4 463.4L1321.6 524.4L1264 571.1z" fill="#ffa900"/>
<path d="M1264 571.1L1268.6 568.9L1255.7 583.4L1245.4 597L1231.1 612L1220.1 625.9L1211.6 639.1L1196.7 654.3L1185.3 668.4L1177.9 681.3L1166.2 695.5L1159.1 708.3L1155.2 720.1L1169.4 726.2L1183.8 732.2L1198.2 738.2L1252.7 647.5L1313.3 554.2L1373.7 466.7L1433.9 384L1494.1 305.2L1554.1 229.7L1496 251L1437.6 373.3L1379.4 463.4L1321.6 524.4L1264 571.1z" fill="#ff9a00"/>
<path d="M1283.2 555.6L1270.6 569.5L1259.2 583.5L1244.4 598.6L1232.3 612.9L1223.4 626.2L1207.3 641.7L1195.5 656L1186.9 669.2L1174.8 683.6L1166.5 696.8L1162.3 708.7L1176.4 714.7L1190.7 720.8L1205.1 726.8L1252.7 647.5L1313.3 554.2L1373.7 466.7L1433.9 384L1494.1 305.2L1554.1 229.7L1496 251L1437.6 373.3L1379.4 463.4L1321.6 524.4L1283.2 555.6z" fill="#ff8800"/>
<path d="M1283.2 555.6L1285.6 555.6L1273.6 569.8L1257.8 585.2L1244.7 599.8L1235.2 613.2L1217.8 629.2L1205.6 643.6L1195.9 657.2L1183.4 671.6L1173.9 685.2L1169.4 697.2L1183.4 703.3L1197.6 709.3L1212 715.3L1252.7 647.5L1313.3 554.2L1373.7 466.7L1433.9 384L1494.1 305.2L1554.1 229.7L1496 251L1437.6 373.3L1379.4 463.4L1321.6 524.4L1283.2 555.6z" fill="#ff7600"/>
<path d="M1283.2 555.6L1300.5 541.7L1288.2 556L1271.1 571.8L1257.7 586.5L1247 600.3L1229.1 616.5L1215.7 631.2L1205.5 644.9L1191.9 659.7L1181.9 673.4L1176.5 685.7L1190.5 691.8L1204.6 697.9L1218.8 703.9L1252.7 647.5L1313.3 554.2L1373.7 466.7L1433.9 384L1494.1 305.2L1554.1 229.7L1496 251L1437.6 373.3L1379.4 463.4L1321.6 524.4L1283.2 555.6z" fill="#ff6400"/>
<path d="M1302.4 540L1302.7 542.3L1284.7 558.4L1270.6 573.2L1258.8 587.4L1240.4 603.7L1225.9 618.8L1215.3 632.6L1200.5 647.8L1190.1 661.6L1183.5 674.2L1197.5 680.3L1211.5 686.4L1225.7 692.5L1252.7 647.5L1313.3 554.2L1373.7 466.7L1433.9 384L1494.1 305.2L1554.1 229.7L1496 251L1437.6 373.3L1379.4 463.4L1321.6 524.4L1302.4 540z" fill="#ff5300"/>
<path d="M1302.4 540L1317.3 528.5L1298.8 544.8L1283.5 560L1271.3 574.3L1251.7 590.9L1236 606.3L1225 620.3L1209 635.9L1198.3 649.8L1190.6 662.7L1204.5 668.9L1218.4 675L1232.5 681.1L1252.7 647.5L1313.3 554.2L1373.7 466.7L1433.9 384L1494.1 305.2L1554.1 229.7L1496 251L1437.6 373.3L1379.4 463.4L1321.6 524.4L1302.4 540z" fill="#ff4300"/>
<path d="M1321.6 524.4L1312.8 531.2L1296.4 546.7L1283.8 561.2L1263 578.2L1246.7 593.8L1234.8 608L1217.7 623.9L1206.4 638L1198 651.2L1211.5 657.4L1225.4 663.6L1239.4 669.7L1252.7 647.5L1313.3 554.2L1373.7 466.7L1433.9 384L1494.1 305.2L1554.1 229.7L1496 251L1437.6 373.3L1379.4 463.4L1321.6 524.4z" fill="#ff3300"/>
<path d="M1321.6 524.4L1326.9 517.6L1309.9 533.3L1296.3 548L1274.3 565.4L1257.6 581.1L1244.5 595.7L1227 611.8L1214.6 626.2L1205.8 639.5L1218.9 645.8L1232.3 652.1L1246.3 658.2L1252.7 647.5L1313.3 554.2L1373.7 466.7L1433.9 384L1494.1 305.2L1554.1 229.7L1496 251L1437.6 373.3L1379.4 463.4L1321.6 524.4z" fill="#ff2200"/>
<path d="M1340.9 504.1L1323.5 519.9L1308.9 534.9L1286 552.5L1268.5 568.5L1254.3 583.4L1236.2 599.6L1222.8 614.4L1213.6 627.8L1226.6 634.2L1239.8 640.5L1253.2 646.8L1313.3 554.2L1373.7 466.7L1433.9 384L1494.1 305.2L1554.1 229.7L1496 251L1437.6 373.3L1379.4 463.4L1340.9 504.1z" fill="#ff0000"/>
<path d="M1340.9 504.1L1337.2 506.4L1321.5 521.7L1298.1 539.5L1279.3 555.9L1264.5 571L1245.5 587.5L1230.9 602.6L1221.4 616.1L1234.4 622.5L1247.5 628.9L1260.7 635.2L1313.3 554.2L1373.7 466.7L1433.9 384L1494.1 305.2L1554.1 229.7L1496 251L1437.6 373.3L1379.4 463.4L1340.9 504.1z" fill="#ff0000"/>
<path d="M1340.9 504.1L1350.8 492.9L1334.8 508.4L1310.1 526.6L1290.2 543.3L1275 558.5L1254.8 575.3L1239.4 590.7L1229.2 604.4L1242.1 610.8L1255.1 617.2L1268.2 623.6L1313.3 554.2L1373.7 466.7L1433.9 384L1494.1 305.2L1554.1 229.7L1496 251L1437.6 373.3L1379.4 463.4L1340.9 504.1z" fill="#ff0000"/>
<path d="M1360.2 483.8L1348 495L1322.1 513.6L1301.2 530.6L1285.4 546L1264.1 563.2L1248.2 578.7L1237 592.7L1249.8 599.2L1262.7 605.6L1275.8 611.9L1313.3 554.2L1373.7 466.7L1433.9 384L1494.1 305.2L1554.1 229.7L1496 251L1437.6 373.3L1379.4 463.4L1360.2 483.8z" fill="#ff0000"/>
<path d="M1360.2 483.8L1361.3 481.7L1334.1 500.6L1312.8 517.8L1295.9 533.5L1273.3 551.1L1257.1 566.7L1244.8 581L1257.5 587.5L1270.3 593.9L1283.3 600.3L1313.3 554.2L1373.7 466.7L1433.9 384L1494.1 305.2L1554.1 229.7L1496 251L1437.6 373.3L1379.4 463.4L1360.2 483.8z" fill="#ff0000"/>
<path d="M1360.2 483.8L1374.5 468.4L1346.6 487.5L1324.3 504.9L1306.3 521L1283 538.8L1265.9 554.7L1252.6 569.3L1265.2 575.8L1277.9 582.3L1290.8 588.7L1313.3 554.2L1373.7 466.7L1433.9 384L1494.1 305.2L1554.1 229.7L1496 251L1437.6 373.3L1379.4 463.4L1360.2 483.8z" fill="#ff0000"/>
<path d="M1379.4 463.4L1359.3 474.4L1335.9 492.1L1316.8 508.5L1293 526.5L1274.7 542.7L1260.9 557.5L1272.9 564.2L1285.6 570.7L1298.4 577.1L1313.3 554.2L1373.7 466.7L1433.9 384L1494.1 305.2L1554.1 229.7L1496 251L1437.6 373.3L1379.4 463.4z" fill="#ff0000"/>
<path d="M1379.4 463.4L1372 461.2L1347.4 479.3L1327.8 495.9L1302.9 514.1L1283.6 530.7L1269.3 545.6L1281.1 552.4L1293.2 559L1305.9 565.5L1313.3 554.2L1373.7 466.7L1433.9 384L1494.1 305.2L1554.1 229.7L1496 251L1437.6 373.3L1379.4 463.4z" fill="#ff0000"/>
<path d="M1379.4 463.4L1384.7 448L1359 466.5L1338.9 483.2L1312.9 501.8L1292.4 518.7L1277.8 533.7L1289.5 540.5L1301.4 547.2L1313.4 553.9L1373.7 466.7L1433.9 384L1494.1 305.2L1554.1 229.7L1496 251L1437.6 373.3L1379.4 463.4z" fill="#ff0000"/>
<path d="M1379.4 463.4L1397.4 434.9L1371.2 453.5L1350.1 470.5L1322.8 489.5L1301.6 506.6L1286.2 521.8L1297.8 528.6L1309.6 535.4L1321.6 542.1L1373.7 466.7L1433.9 384L1494.1 305.2L1554.1 229.7L1496 251L1437.6 373.3L1379.4 463.4z" fill="#ff0000"/>
<path d="M1398.8 433.4L1383.4 440.5L1361.2 457.8L1332.7 477.1L1311.1 494.4L1294.7 510L1306.2 516.8L1317.9 523.6L1329.7 530.3L1373.7 466.7L1433.9 384L1494.1 305.2L1554.1 229.7L1496 251L1437.6 373.3L1398.8 433.4z" fill="#ff0000"/>
<path d="M1398.8 433.4L1395.6 427.5L1372.3 445.1L1343 464.7L1320.6 482.2L1303.1 498.1L1314.5 504.9L1326.1 511.7L1337.9 518.5L1373.7 466.7L1433.9 384L1494.1 305.2L1554.1 229.7L1496 251L1437.6 373.3L1398.8 433.4z" fill="#ff0000"/>
<path d="M1398.8 433.4L1407.8 414.5L1383.7 432.4L1353.6 452.2L1330.1 470L1311.6 486.2L1322.9 493.1L1334.4 499.9L1346 506.7L1373.7 466.7L1433.9 384L1494.1 305.2L1554.1 229.7L1496 251L1437.6 373.3L1398.8 433.4z" fill="#ff0000"/>
<path d="M1418.2 403.4L1395.4 419.5L1364.2 439.7L1339.6 457.8L1320.3 474.2L1331.2 481.2L1342.6 488.1L1354.2 494.9L1373.7 466.7L1433.9 384L1494.1 305.2L1554.1 229.7L1496 251L1437.6 373.3L1418.2 403.4z" fill="#ff0000"/>
<path d="M1418.2 403.4L1407.2 406.6L1374.7 427.2L1349 445.6L1329.4 462.2L1339.9 469.3L1350.8 476.3L1362.3 483.1L1373.7 466.7L1433.9 384L1494.1 305.2L1554.1 229.7L1496 251L1437.6 373.3L1418.2 403.4z" fill="#ff0000"/>
<path d="M1418.2 403.4L1418.9 393.8L1385.3 414.7L1358.6 433.4L1338.5 450.1L1348.8 457.3L1359.4 464.4L1370.5 471.3L1373.7 466.7L1433.9 384L1494.1 305.2L1554.1 229.7L1496 251L1437.6 373.3L1418.2 403.4z" fill="#ff0000"/>
<path d="M1418.2 403.4L1430.6 380.9L1395.9 402.2L1368.7 421L1347.5 438.1L1357.8 445.3L1368.2 452.4L1379 459.4L1433.9 384L1494.1 305.2L1554.1 229.7L1496 251L1437.6 373.3L1418.2 403.4z" fill="#ff0000"/>
<path d="M1437.6 373.3L1407 389.5L1378.8 408.7L1356.6 426L1366.7 433.2L1377.1 440.4L1387.7 447.5L1433.9 384L1494.1 305.2L1554.1 229.7L1496 251L1437.6 373.3z" fill="#ff0000"/>
<path d="M1437.6 373.3L1418.1 376.8L1388.9 396.3L1365.6 414L1375.6 421.2L1385.9 428.4L1396.4 435.5L1433.9 384L1494.1 305.2L1554.1 229.7L1496 251L1437.6 373.3z" fill="#ff0000"/>
<path d="M1437.6 373.3L1429.3 364.1L1399 384L1374.7 401.9L1384.6 409.2L1394.7 416.4L1405.1 423.5L1433.9 384L1494.1 305.2L1554.1 229.7L1496 251L1437.6 373.3z" fill="#ff0000"/>
<path d="M1437.6 373.3L1440.4 351.5L1409 371.6L1384.3 389.7L1393.5 397.2L1403.5 404.4L1413.8 411.6L1433.9 384L1494.1 305.2L1554.1 229.7L1496 251L1437.6 373.3z" fill="#f60000"/>
<path d="M1437.6 373.3L1451.6 338.8L1419.2 359.2L1393.9 377.5L1402.9 385L1412.4 392.4L1422.5 399.6L1433.9 384L1494.1 305.2L1554.1 229.7L1496 251L1437.6 373.3z" fill="#e40000"/>
<path d="M1457 332.6L1429.9 346.7L1403.5 365.3L1412.4 372.9L1421.6 380.3L1431.2 387.7L1433.9 384L1494.1 305.2L1554.1 229.7L1496 251L1457 332.6z" fill="#d10000"/>
<path d="M1457 332.6L1440.5 334.2L1413.1 353.1L1421.9 360.7L1430.9 368.2L1440.3 375.6L1494.1 305.2L1554.1 229.7L1496 251L1457 332.6z" fill="#bf0000"/>
<path d="M1457 332.6L1451.2 321.7L1422.8 340.9L1431.4 348.5L1440.3 356.1L1449.5 363.5L1494.1 305.2L1554.1 229.7L1496 251L1457 332.6z" fill="#b80000"/>
<path d="M1457 332.6L1461.8 309.2L1432.4 328.7L1440.9 336.3L1449.7 343.9L1458.8 351.4L1494.1 305.2L1554.1 229.7L1496 251L1457 332.6z" fill="#b20000"/>
<path d="M1457 332.6L1472.4 296.7L1442.3 316.4L1450.4 324.2L1459 331.8L1468 339.3L1494.1 305.2L1554.1 229.7L1496 251L1457 332.6z" fill="#ac0000"/>
<path d="M1476.5 291.8L1452.5 304L1460.1 311.9L1468.4 319.7L1477.2 327.2L1494.1 305.2L1554.1 229.7L1496 251L1476.5 291.8z" fill="#a60000"/>
<path d="M1476.5 291.8L1462.7 291.6L1470.1 299.6L1477.9 307.5L1486.5 315.1L1494.1 305.2L1554.1 229.7L1496 251L1476.5 291.8z" fill="#a00000"/>
<path d="M1476.5 291.8L1472.8 279.3L1480.1 287.3L1487.8 295.2L1495.8 303L1554.1 229.7L1496 251L1476.5 291.8z" fill="#9a0000"/>
<path d="M1476.5 291.8L1483 266.9L1490.1 275L1497.7 282.9L1505.5 290.8L1554.1 229.7L1496 251L1476.5 291.8z" fill="#940000"/>
<path d="M1476.5 291.8L1493.1 254.5L1500.2 262.6L1507.5 270.6L1515.2 278.5L1554.1 229.7L1496 251L1476.5 291.8z" fill="#8d0000"/>
<path d="M1496 251L1510.2 250.3L1517.4 258.4L1525 266.3L1554.1 229.7L1496 251z" fill="#870000"/>
<path d="M1515.4 243.9L1527.2 246.1L1534.7 254.1L1554.1 229.7L1515.4 243.9z" fill="#810000"/>
<path d="M1534.7 236.8L1544.4 241.8L1554.1 229.7L1534.7 236.8z" fill="#7b0000"/>
</g>
<g fill="url(#sg)">
<circle cx="320.8" cy="1161.6" r="10.9"/>
<ellipse cx="382.3" cy="1101.3" rx="10.2" ry="8.6" transform="rotate(-28 381.8 1102.3)"/>
<ellipse cx="443.1" cy="1047.5" rx="10.2" ry="8.6" transform="rotate(-28 442.6 1048.5)"/>
<ellipse cx="503.8" cy="997.5" rx="10.2" ry="8.6" transform="rotate(-28 503.3 998.5)"/>
<ellipse cx="564.3" cy="950.3" rx="10.2" ry="8.6" transform="rotate(-28 563.8 951.3)"/>
<ellipse cx="624.7" cy="905.4" rx="10.2" ry="8.6" transform="rotate(-28 624.2 906.4)"/>
<ellipse cx="685" cy="862.3" rx="10.2" ry="8.6" transform="rotate(-28 684.5 863.3)"/>
<ellipse cx="745.1" cy="820.6" rx="10.2" ry="8.6" transform="rotate(-28 744.6 821.6)"/>
<ellipse cx="805.1" cy="780.2" rx="10.2" ry="8.6" transform="rotate(-28 804.6 781.2)"/>
<circle cx="864.4" cy="741.9" r="9.6"/>
<circle cx="377.6" cy="1168.9" r="10.9"/>
<ellipse cx="439" cy="1104.3" rx="10.2" ry="8.6" transform="rotate(-28 438.5 1105.3)"/>
<ellipse cx="499.8" cy="1047.3" rx="10.2" ry="8.6" transform="rotate(-28 499.3 1048.3)"/>
<ellipse cx="560.5" cy="994.7" rx="10.2" ry="8.6" transform="rotate(-28 560 995.7)"/>
<ellipse cx="621.1" cy="945.4" rx="10.2" ry="8.6" transform="rotate(-28 620.6 946.4)"/>
<ellipse cx="681.4" cy="898.5" rx="10.2" ry="8.6" transform="rotate(-28 680.9 899.5)"/>
<ellipse cx="741.7" cy="853.6" rx="10.2" ry="8.6" transform="rotate(-28 741.2 854.6)"/>
<ellipse cx="801.8" cy="810.4" rx="10.2" ry="8.6" transform="rotate(-28 801.3 811.4)"/>
<ellipse cx="861.8" cy="768.7" rx="10.2" ry="8.6" transform="rotate(-28 861.3 769.7)"/>
<circle cx="921.1" cy="729.2" r="9.6"/>
<circle cx="434.5" cy="1175.8" r="10.9"/>
<ellipse cx="495.9" cy="1106.7" rx="10.2" ry="8.6" transform="rotate(-28 495.4 1107.7)"/>
<ellipse cx="556.7" cy="1046.3" rx="10.2" ry="8.6" transform="rotate(-28 556.2 1047.3)"/>
<ellipse cx="617.4" cy="990.7" rx="10.2" ry="8.6" transform="rotate(-28 616.9 991.7)"/>
<ellipse cx="677.9" cy="938.8" rx="10.2" ry="8.6" transform="rotate(-28 677.4 939.8)"/>
<ellipse cx="738.3" cy="889.6" rx="10.2" ry="8.6" transform="rotate(-28 737.8 890.6)"/>
<ellipse cx="798.5" cy="842.6" rx="10.2" ry="8.6" transform="rotate(-28 798 843.6)"/>
<ellipse cx="858.6" cy="797.5" rx="10.2" ry="8.6" transform="rotate(-28 858.1 798.5)"/>
<ellipse cx="918.6" cy="753.9" rx="10.2" ry="8.6" transform="rotate(-28 918.1 754.9)"/>
<circle cx="977.9" cy="712.6" r="9.6"/>
<circle cx="491.5" cy="1181.9" r="10.9"/>
<ellipse cx="552.9" cy="1108" rx="10.2" ry="8.6" transform="rotate(-28 552.4 1109)"/>
<ellipse cx="613.7" cy="1043.6" rx="10.2" ry="8.6" transform="rotate(-28 613.2 1044.6)"/>
<ellipse cx="674.4" cy="984.8" rx="10.2" ry="8.6" transform="rotate(-28 673.9 985.8)"/>
<ellipse cx="734.9" cy="929.9" rx="10.2" ry="8.6" transform="rotate(-28 734.4 930.9)"/>
<ellipse cx="795.3" cy="878.1" rx="10.2" ry="8.6" transform="rotate(-28 794.8 879.1)"/>
<ellipse cx="855.5" cy="828.7" rx="10.2" ry="8.6" transform="rotate(-28 855 829.7)"/>
<ellipse cx="915.6" cy="781.2" rx="10.2" ry="8.6" transform="rotate(-28 915.1 782.2)"/>
<ellipse cx="975.6" cy="735.4" rx="10.2" ry="8.6" transform="rotate(-28 975.1 736.4)"/>
<circle cx="1034.9" cy="692.1" r="9.6"/>
<circle cx="548.5" cy="1186.1" r="10.9"/>
<ellipse cx="610" cy="1106.4" rx="10.2" ry="8.6" transform="rotate(-28 609.5 1107.4)"/>
<ellipse cx="670.8" cy="1037.7" rx="10.2" ry="8.6" transform="rotate(-28 670.3 1038.7)"/>
<ellipse cx="731.4" cy="975.4" rx="10.2" ry="8.6" transform="rotate(-28 730.9 976.4)"/>
<ellipse cx="792" cy="917.5" rx="10.2" ry="8.6" transform="rotate(-28 791.5 918.5)"/>
<ellipse cx="852.3" cy="863.1" rx="10.2" ry="8.6" transform="rotate(-28 851.8 864.1)"/>
<ellipse cx="912.6" cy="811.3" rx="10.2" ry="8.6" transform="rotate(-28 912.1 812.3)"/>
<ellipse cx="972.7" cy="761.7" rx="10.2" ry="8.6" transform="rotate(-28 972.2 762.7)"/>
<ellipse cx="1032.6" cy="714.1" rx="10.2" ry="8.6" transform="rotate(-28 1032.1 715.1)"/>
<circle cx="1092" cy="669" r="9.6"/>
<circle cx="605.7" cy="1189.9" r="10.9"/>
<ellipse cx="667.2" cy="1104.2" rx="10.2" ry="8.6" transform="rotate(-28 666.7 1105.2)"/>
<ellipse cx="728" cy="1030.8" rx="10.2" ry="8.6" transform="rotate(-28 727.5 1031.8)"/>
<ellipse cx="788.6" cy="964.5" rx="10.2" ry="8.6" transform="rotate(-28 788.1 965.5)"/>
<ellipse cx="849.1" cy="903.2" rx="10.2" ry="8.6" transform="rotate(-28 848.6 904.2)"/>
<ellipse cx="909.5" cy="845.6" rx="10.2" ry="8.6" transform="rotate(-28 909 846.6)"/>
<ellipse cx="969.8" cy="790.9" rx="10.2" ry="8.6" transform="rotate(-28 969.3 791.9)"/>
<ellipse cx="1029.9" cy="738.6" rx="10.2" ry="8.6" transform="rotate(-28 1029.4 739.6)"/>
<ellipse cx="1089.8" cy="688.3" rx="10.2" ry="8.6" transform="rotate(-28 1089.3 689.3)"/>
<circle cx="1149.2" cy="640.7" r="9.6"/>
<circle cx="663" cy="1191.4" r="10.9"/>
<ellipse cx="724.4" cy="1098.9" rx="10.2" ry="8.6" transform="rotate(-28 723.9 1099.9)"/>
<ellipse cx="785.2" cy="1020.4" rx="10.2" ry="8.6" transform="rotate(-28 784.7 1021.4)"/>
<ellipse cx="845.9" cy="949.9" rx="10.2" ry="8.6" transform="rotate(-28 845.4 950.9)"/>
<ellipse cx="906.4" cy="884.9" rx="10.2" ry="8.6" transform="rotate(-28 905.9 885.9)"/>
<ellipse cx="966.8" cy="824.1" rx="10.2" ry="8.6" transform="rotate(-28 966.3 825.1)"/>
<ellipse cx="1027.1" cy="766.4" rx="10.2" ry="8.6" transform="rotate(-28 1026.6 767.4)"/>
<ellipse cx="1087.2" cy="711.5" rx="10.2" ry="8.6" transform="rotate(-28 1086.7 712.5)"/>
<ellipse cx="1147.2" cy="658.7" rx="10.2" ry="8.6" transform="rotate(-28 1146.7 659.7)"/>
<circle cx="1206.5" cy="608.8" r="9.6"/>
<circle cx="720.4" cy="1191.2" r="10.9"/>
<ellipse cx="781.8" cy="1091.2" rx="10.2" ry="8.6" transform="rotate(-28 781.3 1092.2)"/>
<ellipse cx="842.7" cy="1007.1" rx="10.2" ry="8.6" transform="rotate(-28 842.2 1008.1)"/>
<ellipse cx="903.3" cy="931.8" rx="10.2" ry="8.6" transform="rotate(-28 902.8 932.8)"/>
<ellipse cx="963.9" cy="862.7" rx="10.2" ry="8.6" transform="rotate(-28 963.4 863.7)"/>
<ellipse cx="1024.3" cy="798.2" rx="10.2" ry="8.6" transform="rotate(-28 1023.8 799.2)"/>
<ellipse cx="1084.5" cy="737.3" rx="10.2" ry="8.6" transform="rotate(-28 1084 738.3)"/>
<ellipse cx="1144.7" cy="679.2" rx="10.2" ry="8.6" transform="rotate(-28 1144.2 680.2)"/>
<ellipse cx="1204.6" cy="623.6" rx="10.2" ry="8.6" transform="rotate(-28 1204.1 624.6)"/>
<ellipse cx="1264.5" cy="570.1" rx="10.2" ry="8.6" transform="rotate(-28 1264 571.1)"/>
<circle cx="777.9" cy="1188.2" r="10.9"/>
<ellipse cx="839.4" cy="1079.3" rx="10.2" ry="8.6" transform="rotate(-28 838.9 1080.3)"/>
<ellipse cx="900.2" cy="988.5" rx="10.2" ry="8.6" transform="rotate(-28 899.7 989.5)"/>
<ellipse cx="960.9" cy="907.7" rx="10.2" ry="8.6" transform="rotate(-28 960.4 908.7)"/>
<ellipse cx="1021.4" cy="833.9" rx="10.2" ry="8.6" transform="rotate(-28 1020.9 834.9)"/>
<ellipse cx="1081.9" cy="765.1" rx="10.2" ry="8.6" transform="rotate(-28 1081.4 766.1)"/>
<ellipse cx="1142.1" cy="700.4" rx="10.2" ry="8.6" transform="rotate(-28 1141.6 701.4)"/>
<ellipse cx="1202.3" cy="638.8" rx="10.2" ry="8.6" transform="rotate(-28 1201.8 639.8)"/>
<ellipse cx="1262.3" cy="580" rx="10.2" ry="8.6" transform="rotate(-28 1261.8 581)"/>
<ellipse cx="1322.1" cy="523.4" rx="10.2" ry="8.6" transform="rotate(-28 1321.6 524.4)"/>
<circle cx="835.5" cy="1180.8" r="10.9"/>
<ellipse cx="897" cy="1061" rx="10.2" ry="8.6" transform="rotate(-28 896.5 1062)"/>
<ellipse cx="957.9" cy="962" rx="10.2" ry="8.6" transform="rotate(-28 957.4 963)"/>
<ellipse cx="1018.6" cy="874.6" rx="10.2" ry="8.6" transform="rotate(-28 1018.1 875.6)"/>
<ellipse cx="1079.2" cy="794.9" rx="10.2" ry="8.6" transform="rotate(-28 1078.7 795.9)"/>
<ellipse cx="1139.6" cy="720.9" rx="10.2" ry="8.6" transform="rotate(-28 1139.1 721.9)"/>
<ellipse cx="1199.9" cy="651.4" rx="10.2" ry="8.6" transform="rotate(-28 1199.4 652.4)"/>
<ellipse cx="1260.1" cy="585.5" rx="10.2" ry="8.6" transform="rotate(-28 1259.6 586.5)"/>
<ellipse cx="1320.1" cy="522.7" rx="10.2" ry="8.6" transform="rotate(-28 1319.6 523.7)"/>
<ellipse cx="1379.9" cy="462.4" rx="10.2" ry="8.6" transform="rotate(-28 1379.4 463.4)"/>
<circle cx="893.2" cy="1163.9" r="10.9"/>
<ellipse cx="954.8" cy="1029.8" rx="10.2" ry="8.6" transform="rotate(-28 954.3 1030.8)"/>
<ellipse cx="1015.7" cy="919.9" rx="10.2" ry="8.6" transform="rotate(-28 1015.2 920.9)"/>
<ellipse cx="1076.5" cy="823.4" rx="10.2" ry="8.6" transform="rotate(-28 1076 824.4)"/>
<ellipse cx="1137.1" cy="735.7" rx="10.2" ry="8.6" transform="rotate(-28 1136.6 736.7)"/>
<ellipse cx="1197.6" cy="654.6" rx="10.2" ry="8.6" transform="rotate(-28 1197.1 655.6)"/>
<ellipse cx="1257.9" cy="578.5" rx="10.2" ry="8.6" transform="rotate(-28 1257.4 579.5)"/>
<ellipse cx="1318.1" cy="506.6" rx="10.2" ry="8.6" transform="rotate(-28 1317.6 507.6)"/>
<ellipse cx="1378.2" cy="438" rx="10.2" ry="8.6" transform="rotate(-28 1377.7 439)"/>
<ellipse cx="1438.1" cy="372.3" rx="10.2" ry="8.6" transform="rotate(-28 1437.6 373.3)"/>
</g>
<g stroke="none">
<path d="M948.2 1140.9L951.1 1139.7L970.2 1140.9L989.8 1142.1L1009 1143.3L1070.2 987.5L1131.2 860.1L1192 748.6L1252.7 647.5L1313.3 554.2L1373.7 466.7L1433.9 384L1494.1 305.2L1554.1 229.7L1496 251L1493.1 257.2L1433.1 329.8L1373 405.7L1312.7 485.4L1252.3 569.9L1191.8 660.1L1131.1 757.9L1070.3 866L1009.3 989.6z" fill="#0059ff"/>
<path d="M950.4 1135.3L952.4 1136.3L970.2 1140.9L989.8 1142.1L1009 1143.3L1070.2 987.5L1131.2 860.1L1192 748.6L1252.7 647.5L1313.3 554.2L1373.7 466.7L1433.9 384L1494.1 305.2L1554.1 229.7L1496 251L1493.1 257.2L1433.1 329.8L1373 405.7L1312.7 485.4L1252.3 569.9L1191.8 660.1L1131.1 757.9L1070.3 866L1009.3 989.6z" fill="#006eff"/>
<path d="M954.7 1124.7L956.7 1125.7L974.2 1130.7L992.3 1135.9L1009.9 1140.9L1070.2 987.5L1131.2 860.1L1192 748.6L1252.7 647.5L1313.3 554.2L1373.7 466.7L1433.9 384L1494.1 305.2L1554.1 229.7L1496 251L1493.1 257.2L1433.1 329.8L1373 405.7L1312.7 485.4L1252.3 569.9L1191.8 660.1L1131.1 757.9L1070.3 866L1009.3 989.6z" fill="#0082ff"/>
<path d="M959 1114.1L961 1115.1L978.5 1120.1L996.5 1125.2L1014.1 1130.3L1070.2 987.5L1131.2 860.1L1192 748.6L1252.7 647.5L1313.3 554.2L1373.7 466.7L1433.9 384L1494.1 305.2L1554.1 229.7L1496 251L1493.1 257.2L1433.1 329.8L1373 405.7L1312.7 485.4L1252.3 569.9L1191.8 660.1L1131.1 757.9L1070.3 866L1009.3 989.6z" fill="#0095ff"/>
<path d="M963.3 1103.4L965.2 1104.4L982.7 1109.5L1000.7 1114.6L1018.3 1119.7L1070.2 987.5L1131.2 860.1L1192 748.6L1252.7 647.5L1313.3 554.2L1373.7 466.7L1433.9 384L1494.1 305.2L1554.1 229.7L1496 251L1493.1 257.2L1433.1 329.8L1373 405.7L1312.7 485.4L1252.3 569.9L1191.8 660.1L1131.1 757.9L1070.3 866L1009.3 989.6z" fill="#00a8ff"/>
<path d="M967.6 1092.8L969.5 1093.8L986.9 1098.8L1004.9 1104L1022.4 1109.1L1070.2 987.5L1131.2 860.1L1192 748.6L1252.7 647.5L1313.3 554.2L1373.7 466.7L1433.9 384L1494.1 305.2L1554.1 229.7L1496 251L1493.1 257.2L1433.1 329.8L1373 405.7L1312.7 485.4L1252.3 569.9L1191.8 660.1L1131.1 757.9L1070.3 866L1009.3 989.6z" fill="#00bbff"/>
<path d="M971.9 1082.2L973.8 1083.2L991.2 1088.2L1009.1 1093.4L1026.6 1098.5L1070.2 987.5L1131.2 860.1L1192 748.6L1252.7 647.5L1313.3 554.2L1373.7 466.7L1433.9 384L1494.1 305.2L1554.1 229.7L1496 251L1493.1 257.2L1433.1 329.8L1373 405.7L1312.7 485.4L1252.3 569.9L1191.8 660.1L1131.1 757.9L1070.3 866L1009.3 989.6z" fill="#00cfff"/>
<path d="M976.2 1071.5L978 1072.6L995.4 1077.6L1013.3 1082.8L1030.7 1087.9L1070.2 987.5L1131.2 860.1L1192 748.6L1252.7 647.5L1313.3 554.2L1373.7 466.7L1433.9 384L1494.1 305.2L1554.1 229.7L1496 251L1493.1 257.2L1433.1 329.8L1373 405.7L1312.7 485.4L1252.3 569.9L1191.8 660.1L1131.1 757.9L1070.3 866L1009.3 989.6z" fill="#00e5ff"/>
<path d="M980.5 1060.9L982.3 1061.9L999.6 1067L1017.5 1072.2L1034.9 1077.3L1070.2 987.5L1131.2 860.1L1192 748.6L1252.7 647.5L1313.3 554.2L1373.7 466.7L1433.9 384L1494.1 305.2L1554.1 229.7L1496 251L1493.1 257.2L1433.1 329.8L1373 405.7L1312.7 485.4L1252.3 569.9L1191.8 660.1L1131.1 757.9L1070.3 866L1009.3 989.6z" fill="#00fbff"/>
<path d="M984.8 1050.3L986.6 1051.3L1003.8 1056.4L1021.7 1061.6L1039.1 1066.7L1070.2 987.5L1131.2 860.1L1192 748.6L1252.7 647.5L1313.3 554.2L1373.7 466.7L1433.9 384L1494.1 305.2L1554.1 229.7L1496 251L1493.1 257.2L1433.1 329.8L1373 405.7L1312.7 485.4L1252.3 569.9L1191.8 660.1L1131.1 757.9L1070.3 866L1009.3 989.6z" fill="#00ffe7"/>
<path d="M989.1 1039.6L990.8 1040.7L1008.1 1045.8L1025.9 1051L1043.2 1056.1L1070.2 987.5L1131.2 860.1L1192 748.6L1252.7 647.5L1313.3 554.2L1373.7 466.7L1433.9 384L1494.1 305.2L1554.1 229.7L1496 251L1493.1 257.2L1433.1 329.8L1373 405.7L1312.7 485.4L1252.3 569.9L1191.8 660.1L1131.1 757.9L1070.3 866L1009.3 989.6z" fill="#00ffca"/>
<path d="M993.4 1029L995.1 1030.1L1012.3 1035.2L1030.1 1040.4L1047.4 1045.5L1070.2 987.5L1131.2 860.1L1192 748.6L1252.7 647.5L1313.3 554.2L1373.7 466.7L1433.9 384L1494.1 305.2L1554.1 229.7L1496 251L1493.1 257.2L1433.1 329.8L1373 405.7L1312.7 485.4L1252.3 569.9L1191.8 660.1L1131.1 757.9L1070.3 866L1009.3 989.6z" fill="#00ff9f"/>
<path d="M997.7 1018.4L999.4 1019.5L1016.5 1024.6L1034.3 1029.8L1051.6 1034.9L1070.2 987.5L1131.2 860.1L1192 748.6L1252.7 647.5L1313.3 554.2L1373.7 466.7L1433.9 384L1494.1 305.2L1554.1 229.7L1496 251L1493.1 257.2L1433.1 329.8L1373 405.7L1312.7 485.4L1252.3 569.9L1191.8 660.1L1131.1 757.9L1070.3 866L1009.3 989.6z" fill="#00ff66"/>
<path d="M1002 1007.8L1003.6 1008.8L1020.8 1014L1038.5 1019.2L1055.7 1024.3L1070.2 987.5L1131.2 860.1L1192 748.6L1252.7 647.5L1313.3 554.2L1373.7 466.7L1433.9 384L1494.1 305.2L1554.1 229.7L1496 251L1493.1 257.2L1433.1 329.8L1373 405.7L1312.7 485.4L1252.3 569.9L1191.8 660.1L1131.1 757.9L1070.3 866L1009.3 989.6z" fill="#00ff00"/>
<path d="M1006.3 997.1L1007.9 998.2L1025 1003.3L1042.7 1008.6L1059.9 1013.7L1070.2 987.5L1131.2 860.1L1192 748.6L1252.7 647.5L1313.3 554.2L1373.7 466.7L1433.9 384L1494.1 305.2L1554.1 229.7L1496 251L1493.1 257.2L1433.1 329.8L1373 405.7L1312.7 485.4L1252.3 569.9L1191.8 660.1L1131.1 757.9L1070.3 866L1009.3 989.6z" fill="#00ff00"/>
<path d="M1010.9 986.4L1012.1 987.6L1029.2 992.7L1046.9 998L1064 1003.1L1070.2 987.5L1131.2 860.1L1192 748.6L1252.7 647.5L1313.3 554.2L1373.7 466.7L1433.9 384L1494.1 305.2L1554.1 229.7L1496 251L1493.1 257.2L1433.1 329.8L1373 405.7L1312.7 485.4L1252.3 569.9L1191.8 660.1L1131.1 757.9L1070.3 866z" fill="#00ff00"/>
<path d="M1016.3 975.4L1017.5 976.6L1034 982L1051.1 987.4L1068.2 992.5L1070.2 987.5L1131.2 860.1L1192 748.6L1252.7 647.5L1313.3 554.2L1373.7 466.7L1433.9 384L1494.1 305.2L1554.1 229.7L1496 251L1493.1 257.2L1433.1 329.8L1373 405.7L1312.7 485.4L1252.3 569.9L1191.8 660.1L1131.1 757.9L1070.3 866z" fill="#00ff00"/>
<path d="M1021.7 964.4L1022.9 965.7L1039.3 971L1056.4 976.5L1072.9 981.7L1131.2 860.1L1192 748.6L1252.7 647.5L1313.3 554.2L1373.7 466.7L1433.9 384L1494.1 305.2L1554.1 229.7L1496 251L1493.1 257.2L1433.1 329.8L1373 405.7L1312.7 485.4L1252.3 569.9L1191.8 660.1L1131.1 757.9L1070.3 866z" fill="#00ff00"/>
<path d="M1027.2 953.5L1028.3 954.7L1044.7 960L1061.6 965.5L1078.2 970.8L1131.2 860.1L1192 748.6L1252.7 647.5L1313.3 554.2L1373.7 466.7L1433.9 384L1494.1 305.2L1554.1 229.7L1496 251L1493.1 257.2L1433.1 329.8L1373 405.7L1312.7 485.4L1252.3 569.9L1191.8 660.1L1131.1 757.9L1070.3 866z" fill="#00ff00"/>
<path d="M1032.6 942.5L1033.7 943.7L1050 949.1L1066.9 954.6L1083.4 959.9L1131.2 860.1L1192 748.6L1252.7 647.5L1313.3 554.2L1373.7 466.7L1433.9 384L1494.1 305.2L1554.1 229.7L1496 251L1493.1 257.2L1433.1 329.8L1373 405.7L1312.7 485.4L1252.3 569.9L1191.8 660.1L1131.1 757.9L1070.3 866z" fill="#00ff00"/>
<path d="M1038 931.5L1039 932.8L1055.3 938.1L1072.2 943.6L1088.6 948.9L1131.2 860.1L1192 748.6L1252.7 647.5L1313.3 554.2L1373.7 466.7L1433.9 384L1494.1 305.2L1554.1 229.7L1496 251L1493.1 257.2L1433.1 329.8L1373 405.7L1312.7 485.4L1252.3 569.9L1191.8 660.1L1131.1 757.9L1070.3 866z" fill="#00ff00"/>
<path d="M1043.4 920.5L1044.4 921.8L1060.7 927.2L1077.5 932.7L1093.9 938L1131.2 860.1L1192 748.6L1252.7 647.5L1313.3 554.2L1373.7 466.7L1433.9 384L1494.1 305.2L1554.1 229.7L1496 251L1493.1 257.2L1433.1 329.8L1373 405.7L1312.7 485.4L1252.3 569.9L1191.8 660.1L1131.1 757.9L1070.3 866z" fill="#00ff00"/>
<path d="M1048.8 909.5L1049.8 910.8L1066 916.2L1082.8 921.7L1099.1 927.1L1131.2 860.1L1192 748.6L1252.7 647.5L1313.3 554.2L1373.7 466.7L1433.9 384L1494.1 305.2L1554.1 229.7L1496 251L1493.1 257.2L1433.1 329.8L1373 405.7L1312.7 485.4L1252.3 569.9L1191.8 660.1L1131.1 757.9L1070.3 866z" fill="#00ff00"/>
<path d="M1054.2 898.6L1055.2 899.9L1071.3 905.2L1088 910.8L1104.3 916.1L1131.2 860.1L1192 748.6L1252.7 647.5L1313.3 554.2L1373.7 466.7L1433.9 384L1494.1 305.2L1554.1 229.7L1496 251L1493.1 257.2L1433.1 329.8L1373 405.7L1312.7 485.4L1252.3 569.9L1191.8 660.1L1131.1 757.9L1070.3 866z" fill="#65ff00"/>
<path d="M1059.7 887.6L1060.6 888.9L1076.7 894.3L1093.3 899.8L1109.6 905.2L1131.2 860.1L1192 748.6L1252.7 647.5L1313.3 554.2L1373.7 466.7L1433.9 384L1494.1 305.2L1554.1 229.7L1496 251L1493.1 257.2L1433.1 329.8L1373 405.7L1312.7 485.4L1252.3 569.9L1191.8 660.1L1131.1 757.9L1070.3 866z" fill="#76ff00"/>
<path d="M1065.1 876.6L1065.9 877.9L1082 883.3L1098.6 888.9L1114.8 894.3L1131.2 860.1L1192 748.6L1252.7 647.5L1313.3 554.2L1373.7 466.7L1433.9 384L1494.1 305.2L1554.1 229.7L1496 251L1493.1 257.2L1433.1 329.8L1373 405.7L1312.7 485.4L1252.3 569.9L1191.8 660.1L1131.1 757.9L1070.3 866z" fill="#87ff00"/>
<path d="M1070.5 865.6L1071.3 867L1087.3 872.4L1103.9 878L1120 883.4L1131.2 860.1L1192 748.6L1252.7 647.5L1313.3 554.2L1373.7 466.7L1433.9 384L1494.1 305.2L1554.1 229.7L1496 251L1493.1 257.2L1433.1 329.8L1373 405.7L1312.7 485.4L1252.3 569.9L1191.8 660.1L1131.1 757.9z" fill="#98ff00"/>
<path d="M1076.9 854.4L1077.3 855.8L1092.7 861.4L1109.2 867L1125.3 872.4L1131.2 860.1L1192 748.6L1252.7 647.5L1313.3 554.2L1373.7 466.7L1433.9 384L1494.1 305.2L1554.1 229.7L1496 251L1493.1 257.2L1433.1 329.8L1373 405.7L1312.7 485.4L1252.3 569.9L1191.8 660.1L1131.1 757.9z" fill="#abff00"/>
<path d="M1083.2 843.1L1083.6 844.6L1098.9 850.2L1114.8 856L1130.5 861.5L1131.2 860.1L1192 748.6L1252.7 647.5L1313.3 554.2L1373.7 466.7L1433.9 384L1494.1 305.2L1554.1 229.7L1496 251L1493.1 257.2L1433.1 329.8L1373 405.7L1312.7 485.4L1252.3 569.9L1191.8 660.1L1131.1 757.9z" fill="#c0ff00"/>
<path d="M1089.5 831.8L1089.9 833.3L1105.2 839L1121 844.7L1136.5 850.3L1192 748.6L1252.7 647.5L1313.3 554.2L1373.7 466.7L1433.9 384L1494.1 305.2L1554.1 229.7L1496 251L1493.1 257.2L1433.1 329.8L1373 405.7L1312.7 485.4L1252.3 569.9L1191.8 660.1L1131.1 757.9z" fill="#d4ff00"/>
<path d="M1095.9 820.6L1096.2 822.1L1111.4 827.7L1127.2 833.5L1142.6 839.1L1192 748.6L1252.7 647.5L1313.3 554.2L1373.7 466.7L1433.9 384L1494.1 305.2L1554.1 229.7L1496 251L1493.1 257.2L1433.1 329.8L1373 405.7L1312.7 485.4L1252.3 569.9L1191.8 660.1L1131.1 757.9z" fill="#eaff00"/>
<path d="M1102.2 809.3L1102.5 810.8L1117.6 816.5L1133.4 822.3L1148.7 827.9L1192 748.6L1252.7 647.5L1313.3 554.2L1373.7 466.7L1433.9 384L1494.1 305.2L1554.1 229.7L1496 251L1493.1 257.2L1433.1 329.8L1373 405.7L1312.7 485.4L1252.3 569.9L1191.8 660.1L1131.1 757.9z" fill="#feff00"/>
<path d="M1108.5 798.1L1108.8 799.6L1123.9 805.3L1139.5 811.1L1154.8 816.7L1192 748.6L1252.7 647.5L1313.3 554.2L1373.7 466.7L1433.9 384L1494.1 305.2L1554.1 229.7L1496 251L1493.1 257.2L1433.1 329.8L1373 405.7L1312.7 485.4L1252.3 569.9L1191.8 660.1L1131.1 757.9z" fill="#ffff00"/>
<path d="M1114.9 786.8L1115.1 788.3L1130.1 794L1145.7 799.9L1160.9 805.6L1192 748.6L1252.7 647.5L1313.3 554.2L1373.7 466.7L1433.9 384L1494.1 305.2L1554.1 229.7L1496 251L1493.1 257.2L1433.1 329.8L1373 405.7L1312.7 485.4L1252.3 569.9L1191.8 660.1L1131.1 757.9z" fill="#fff300"/>
<path d="M1121.2 775.5L1121.3 777.1L1136.3 782.8L1151.9 788.7L1167 794.4L1192 748.6L1252.7 647.5L1313.3 554.2L1373.7 466.7L1433.9 384L1494.1 305.2L1554.1 229.7L1496 251L1493.1 257.2L1433.1 329.8L1373 405.7L1312.7 485.4L1252.3 569.9L1191.8 660.1L1131.1 757.9z" fill="#ffe500"/>
<path d="M1127.5 764.3L1127.6 765.9L1142.6 771.6L1158 777.5L1173.1 783.2L1192 748.6L1252.7 647.5L1313.3 554.2L1373.7 466.7L1433.9 384L1494.1 305.2L1554.1 229.7L1496 251L1493.1 257.2L1433.1 329.8L1373 405.7L1312.7 485.4L1252.3 569.9L1191.8 660.1L1131.1 757.9z" fill="#ffd600"/>
<path d="M1134.2 752.9L1133.9 754.6L1148.8 760.4L1164.2 766.3L1179.2 772L1192 748.6L1252.7 647.5L1313.3 554.2L1373.7 466.7L1433.9 384L1494.1 305.2L1554.1 229.7L1496 251L1493.1 257.2L1433.1 329.8L1373 405.7L1312.7 485.4L1252.3 569.9L1191.8 660.1z" fill="#ffc700"/>
<path d="M1141.4 741.4L1141 743.1L1155.2 749.1L1170.3 755.1L1185.3 760.8L1192 748.6L1252.7 647.5L1313.3 554.2L1373.7 466.7L1433.9 384L1494.1 305.2L1554.1 229.7L1496 251L1493.1 257.2L1433.1 329.8L1373 405.7L1312.7 485.4L1252.3 569.9L1191.8 660.1z" fill="#ffb800"/>
<path d="M1148.5 729.9L1148.1 731.6L1162.3 737.6L1177 743.7L1191.4 749.6L1192 748.6L1252.7 647.5L1313.3 554.2L1373.7 466.7L1433.9 384L1494.1 305.2L1554.1 229.7L1496 251L1493.1 257.2L1433.1 329.8L1373 405.7L1312.7 485.4L1252.3 569.9L1191.8 660.1z" fill="#ffa900"/>
<path d="M1155.6 718.4L1155.2 720.1L1169.3 726.1L1183.9 732.3L1198.2 738.2L1252.7 647.5L1313.3 554.2L1373.7 466.7L1433.9 384L1494.1 305.2L1554.1 229.7L1496 251L1493.1 257.2L1433.1 329.8L1373 405.7L1312.7 485.4L1252.3 569.9L1191.8 660.1z" fill="#ff9a00"/>
<path d="M1162.8 706.9L1162.3 708.7L1176.3 714.7L1190.8 720.8L1205.1 726.8L1252.7 647.5L1313.3 554.2L1373.7 466.7L1433.9 384L1494.1 305.2L1554.1 229.7L1496 251L1493.1 257.2L1433.1 329.8L1373 405.7L1312.7 485.4L1252.3 569.9L1191.8 660.1z" fill="#ff8800"/>
<path d="M1169.9 695.4L1169.4 697.2L1183.3 703.2L1197.8 709.4L1212 715.3L1252.7 647.5L1313.3 554.2L1373.7 466.7L1433.9 384L1494.1 305.2L1554.1 229.7L1496 251L1493.1 257.2L1433.1 329.8L1373 405.7L1312.7 485.4L1252.3 569.9L1191.8 660.1z" fill="#ff7600"/>
<path d="M1177 683.9L1176.5 685.7L1190.3 691.7L1204.7 697.9L1218.8 703.9L1252.7 647.5L1313.3 554.2L1373.7 466.7L1433.9 384L1494.1 305.2L1554.1 229.7L1496 251L1493.1 257.2L1433.1 329.8L1373 405.7L1312.7 485.4L1252.3 569.9L1191.8 660.1z" fill="#ff6400"/>
<path d="M1184.2 672.4L1183.5 674.2L1197.3 680.3L1211.7 686.5L1225.7 692.5L1252.7 647.5L1313.3 554.2L1373.7 466.7L1433.9 384L1494.1 305.2L1554.1 229.7L1496 251L1493.1 257.2L1433.1 329.8L1373 405.7L1312.7 485.4L1252.3 569.9L1191.8 660.1z" fill="#ff5300"/>
<path d="M1191.3 660.9L1190.6 662.7L1204.3 668.8L1218.6 675.1L1232.5 681.1L1252.7 647.5L1313.3 554.2L1373.7 466.7L1433.9 384L1494.1 305.2L1554.1 229.7L1496 251L1493.1 257.2L1433.1 329.8L1373 405.7L1312.7 485.4L1252.3 569.9L1191.8 660.1z" fill="#ff4300"/>
<path d="M1199.1 649.2L1198 651.2L1211.3 657.4L1225.5 663.6L1239.4 669.7L1252.7 647.5L1313.3 554.2L1373.7 466.7L1433.9 384L1494.1 305.2L1554.1 229.7L1496 251L1493.1 257.2L1433.1 329.8L1373 405.7L1312.7 485.4L1252.3 569.9z" fill="#ff3300"/>
<path d="M1207 637.5L1205.8 639.5L1218.8 645.8L1232.4 652.2L1246.3 658.2L1252.7 647.5L1313.3 554.2L1373.7 466.7L1433.9 384L1494.1 305.2L1554.1 229.7L1496 251L1493.1 257.2L1433.1 329.8L1373 405.7L1312.7 485.4L1252.3 569.9z" fill="#ff2200"/>
<path d="M1214.8 625.8L1213.6 627.8L1226.5 634.1L1240 640.6L1253.2 646.8L1313.3 554.2L1373.7 466.7L1433.9 384L1494.1 305.2L1554.1 229.7L1496 251L1493.1 257.2L1433.1 329.8L1373 405.7L1312.7 485.4L1252.3 569.9z" fill="#ff0000"/>
<path d="M1222.7 614.1L1221.4 616.1L1234.2 622.4L1247.6 628.9L1260.7 635.2L1313.3 554.2L1373.7 466.7L1433.9 384L1494.1 305.2L1554.1 229.7L1496 251L1493.1 257.2L1433.1 329.8L1373 405.7L1312.7 485.4L1252.3 569.9z" fill="#ff0000"/>
<path d="M1230.5 602.4L1229.2 604.4L1241.9 610.8L1255.2 617.3L1268.2 623.6L1313.3 554.2L1373.7 466.7L1433.9 384L1494.1 305.2L1554.1 229.7L1496 251L1493.1 257.2L1433.1 329.8L1373 405.7L1312.7 485.4L1252.3 569.9z" fill="#ff0000"/>
<path d="M1238.4 590.7L1237 592.7L1249.7 599.1L1262.8 605.6L1275.8 611.9L1313.3 554.2L1373.7 466.7L1433.9 384L1494.1 305.2L1554.1 229.7L1496 251L1493.1 257.2L1433.1 329.8L1373 405.7L1312.7 485.4L1252.3 569.9z" fill="#ff0000"/>
<path d="M1246.2 579L1244.8 581L1257.4 587.4L1270.4 594L1283.3 600.3L1313.3 554.2L1373.7 466.7L1433.9 384L1494.1 305.2L1554.1 229.7L1496 251L1493.1 257.2L1433.1 329.8L1373 405.7L1312.7 485.4L1252.3 569.9z" fill="#ff0000"/>
<path d="M1254.2 567.2L1252.6 569.3L1265.1 575.8L1278.1 582.4L1290.8 588.7L1313.3 554.2L1373.7 466.7L1433.9 384L1494.1 305.2L1554.1 229.7L1496 251L1493.1 257.2L1433.1 329.8L1373 405.7L1312.7 485.4z" fill="#ff0000"/>
<path d="M1262.7 555.3L1260.9 557.5L1272.8 564.1L1285.7 570.7L1298.4 577.1L1313.3 554.2L1373.7 466.7L1433.9 384L1494.1 305.2L1554.1 229.7L1496 251L1493.1 257.2L1433.1 329.8L1373 405.7L1312.7 485.4z" fill="#ff0000"/>
<path d="M1271.3 543.4L1269.3 545.6L1281 552.3L1293.3 559.1L1305.9 565.5L1313.3 554.2L1373.7 466.7L1433.9 384L1494.1 305.2L1554.1 229.7L1496 251L1493.1 257.2L1433.1 329.8L1373 405.7L1312.7 485.4z" fill="#ff0000"/>
<path d="M1279.8 531.5L1277.8 533.7L1289.3 540.4L1301.5 547.3L1313.4 553.9L1373.7 466.7L1433.9 384L1494.1 305.2L1554.1 229.7L1496 251L1493.1 257.2L1433.1 329.8L1373 405.7L1312.7 485.4z" fill="#ff0000"/>
<path d="M1288.3 519.6L1286.2 521.8L1297.7 528.6L1309.7 535.4L1321.6 542.1L1373.7 466.7L1433.9 384L1494.1 305.2L1554.1 229.7L1496 251L1493.1 257.2L1433.1 329.8L1373 405.7L1312.7 485.4z" fill="#ff0000"/>
<path d="M1296.8 507.7L1294.7 510L1306.1 516.7L1318 523.6L1329.7 530.3L1373.7 466.7L1433.9 384L1494.1 305.2L1554.1 229.7L1496 251L1493.1 257.2L1433.1 329.8L1373 405.7L1312.7 485.4z" fill="#ff0000"/>
<path d="M1305.3 495.8L1303.1 498.1L1314.4 504.9L1326.2 511.8L1337.9 518.5L1373.7 466.7L1433.9 384L1494.1 305.2L1554.1 229.7L1496 251L1493.1 257.2L1433.1 329.8L1373 405.7L1312.7 485.4z" fill="#ff0000"/>
<path d="M1313.9 483.9L1311.6 486.2L1322.7 493L1334.5 500L1346 506.7L1373.7 466.7L1433.9 384L1494.1 305.2L1554.1 229.7L1496 251L1493.1 257.2L1433.1 329.8L1373 405.7z" fill="#ff0000"/>
<path d="M1323 471.8L1320.3 474.2L1331.1 481.2L1342.7 488.2L1354.2 494.9L1373.7 466.7L1433.9 384L1494.1 305.2L1554.1 229.7L1496 251L1493.1 257.2L1433.1 329.8L1373 405.7z" fill="#ff0000"/>
<path d="M1332.1 459.8L1329.4 462.2L1339.8 469.2L1350.9 476.3L1362.3 483.1L1373.7 466.7L1433.9 384L1494.1 305.2L1554.1 229.7L1496 251L1493.1 257.2L1433.1 329.8L1373 405.7z" fill="#ff0000"/>
<path d="M1341.3 447.7L1338.5 450.1L1348.7 457.2L1359.5 464.4L1370.5 471.3L1373.7 466.7L1433.9 384L1494.1 305.2L1554.1 229.7L1496 251L1493.1 257.2L1433.1 329.8L1373 405.7z" fill="#ff0000"/>
<path d="M1350.4 435.6L1347.5 438.1L1357.7 445.2L1368.3 452.4L1379 459.4L1433.9 384L1494.1 305.2L1554.1 229.7L1496 251L1493.1 257.2L1433.1 329.8L1373 405.7z" fill="#ff0000"/>
<path d="M1359.5 423.6L1356.6 426L1366.6 433.2L1377.2 440.4L1387.7 447.5L1433.9 384L1494.1 305.2L1554.1 229.7L1496 251L1493.1 257.2L1433.1 329.8L1373 405.7z" fill="#ff0000"/>
<path d="M1368.6 411.5L1365.6 414L1375.5 421.1L1386 428.5L1396.4 435.5L1433.9 384L1494.1 305.2L1554.1 229.7L1496 251L1493.1 257.2L1433.1 329.8L1373 405.7z" fill="#ff0000"/>
<path d="M1378 399.3L1374.7 401.9L1384.5 409.1L1394.8 416.5L1405.1 423.5L1433.9 384L1494.1 305.2L1554.1 229.7L1496 251L1493.1 257.2L1433.1 329.8z" fill="#ff0000"/>
<path d="M1387.7 387.1L1384.3 389.7L1393.4 397.1L1403.6 404.5L1413.8 411.6L1433.9 384L1494.1 305.2L1554.1 229.7L1496 251L1493.1 257.2L1433.1 329.8z" fill="#f60000"/>
<path d="M1397.4 374.8L1393.9 377.5L1402.8 385L1412.5 392.5L1422.5 399.6L1433.9 384L1494.1 305.2L1554.1 229.7L1496 251L1493.1 257.2L1433.1 329.8z" fill="#e40000"/>
<path d="M1407.1 362.6L1403.5 365.3L1412.3 372.8L1421.7 380.4L1431.2 387.7L1433.9 384L1494.1 305.2L1554.1 229.7L1496 251L1493.1 257.2L1433.1 329.8z" fill="#d10000"/>
<path d="M1416.8 350.4L1413.1 353.1L1421.8 360.6L1431 368.3L1440.3 375.6L1494.1 305.2L1554.1 229.7L1496 251L1493.1 257.2L1433.1 329.8z" fill="#bf0000"/>
<path d="M1426.5 338.2L1422.8 340.9L1431.3 348.4L1440.4 356.1L1449.5 363.5L1494.1 305.2L1554.1 229.7L1496 251L1493.1 257.2L1433.1 329.8z" fill="#b80000"/>
<path d="M1436.3 325.9L1432.4 328.7L1440.8 336.3L1449.8 344L1458.8 351.4L1494.1 305.2L1554.1 229.7L1496 251L1493.1 257.2z" fill="#b20000"/>
<path d="M1446.6 313.5L1442.3 316.4L1450.3 324.1L1459.1 331.9L1468 339.3L1494.1 305.2L1554.1 229.7L1496 251L1493.1 257.2z" fill="#ac0000"/>
<path d="M1456.8 301.1L1452.5 304L1460 311.8L1468.5 319.7L1477.2 327.2L1494.1 305.2L1554.1 229.7L1496 251L1493.1 257.2z" fill="#a60000"/>
<path d="M1467 288.7L1462.7 291.6L1470 299.5L1478 307.6L1486.5 315.1L1494.1 305.2L1554.1 229.7L1496 251L1493.1 257.2z" fill="#a00000"/>
<path d="M1477.3 276.3L1472.8 279.3L1480.1 287.2L1487.9 295.3L1495.8 303L1554.1 229.7L1496 251L1493.1 257.2z" fill="#9a0000"/>
<path d="M1487.5 264L1483 266.9L1490.1 274.9L1497.7 283L1505.5 290.8L1554.1 229.7L1496 251L1493.1 257.2z" fill="#940000"/>
<path d="M1493.1 257.2L1493.1 254.5L1500.1 262.6L1507.6 270.7L1515.2 278.5L1554.1 229.7L1496 251L1493.1 257.2z" fill="#8d0000"/>
<path d="M1496 251L1510.1 250.3L1517.5 258.4L1525 266.3L1554.1 229.7L1496 251z" fill="#870000"/>
<path d="M1515.2 244L1527.3 246.2L1534.7 254.1L1554.1 229.7L1515.2 244z" fill="#810000"/>
<path d="M1534.9 236.7L1544.4 241.8L1554.1 229.7L1534.9 236.7z" fill="#7b0000"/>
</g>
<g fill="url(#sg)">
<circle cx="951.1" cy="1139.7" r="10.9"/>
<ellipse cx="1012.7" cy="986.4" rx="10.2" ry="8.6" transform="rotate(-28 1012.2 987.4)"/>
<ellipse cx="1073.7" cy="862.1" rx="10.2" ry="8.6" transform="rotate(-28 1073.2 863.1)"/>
<ellipse cx="1134.5" cy="753.4" rx="10.2" ry="8.6" transform="rotate(-28 1134 754.4)"/>
<ellipse cx="1195.2" cy="655.1" rx="10.2" ry="8.6" transform="rotate(-28 1194.7 656.1)"/>
<circle cx="1255.3" cy="565.4" r="9.6"/>
<circle cx="1315.7" cy="480.5" r="9.6"/>
<circle cx="1375.9" cy="400.3" r="9.6"/>
<circle cx="1436.1" cy="324" r="9.6"/>
<circle cx="1496" cy="251" r="9.6"/>
<circle cx="1009" cy="1143.3" r="10.9"/>
<circle cx="1070.2" cy="987.5" r="10.9"/>
<circle cx="1131.2" cy="860.1" r="10.9"/>
<circle cx="1192" cy="748.6" r="10.9"/>
<circle cx="1252.7" cy="647.5" r="10.9"/>
<circle cx="1313.3" cy="554.2" r="10.9"/>
<circle cx="1373.7" cy="466.7" r="10.9"/>
<circle cx="1433.9" cy="384" r="10.9"/>
<circle cx="1494.1" cy="305.2" r="10.9"/>
<circle cx="1554.1" cy="229.7" r="10.9"/>
</g>
<g fill="none" stroke="#000" stroke-width="4.4" stroke-linejoin="miter">
<path d="M188 217.5L188.9 1203.8L976.4 1392.7L1636.6 1173.7"/>
<path d="M188.8 1160.2h-25"/>
<path d="M188.6 942h-25"/>
<path d="M188.5 723.3h-25"/>
<path d="M188.3 504.1h-25"/>
<path d="M188.1 284.5h-25"/>
<path d="M976.4 1392.7v25" stroke-width="4"/>
<path d="M904.1 1375.4v13" stroke-width="4"/>
<path d="M831.9 1358v25" stroke-width="4"/>
<path d="M759.9 1340.8v13" stroke-width="4"/>
<path d="M688 1323.5v25" stroke-width="4"/>
<path d="M616.2 1306.3v13" stroke-width="4"/>
<path d="M544.6 1289.1v25" stroke-width="4"/>
<path d="M473.2 1272v13" stroke-width="4"/>
<path d="M401.9 1254.9v25" stroke-width="4"/>
<path d="M330.7 1237.8v13" stroke-width="4"/>
<path d="M259.7 1220.8v25" stroke-width="4"/>
<path d="M1037.2 1372.6v13" stroke-width="4"/>
<path d="M1097.8 1352.4v25" stroke-width="4"/>
<path d="M1158.3 1332.4v13" stroke-width="4"/>
<path d="M1218.6 1312.4v25" stroke-width="4"/>
<path d="M1278.8 1292.4v13" stroke-width="4"/>
<path d="M1338.8 1272.5v25" stroke-width="4"/>
<path d="M1398.7 1252.6v13" stroke-width="4"/>
<path d="M1458.4 1232.8v25" stroke-width="4"/>
<path d="M1517.9 1213.1v13" stroke-width="4"/>
<path d="M1577.3 1193.4v25" stroke-width="4"/>
<path d="M1636.6 1173.7v13" stroke-width="4"/>
</g>
<g font-family="'Liberation Serif','DejaVu Serif',serif" font-size="50" fill="#000" stroke="#000" stroke-width="0.6">
<text x="149" y="1180.2" text-anchor="end">10</text>
<text x="149" y="962" text-anchor="end">20</text>
<text x="149" y="743.3" text-anchor="end">30</text>
<text x="149" y="524.1" text-anchor="end">40</text>
<text x="149" y="304.5" text-anchor="end">50</text>
<text x="260.3" y="1312" text-anchor="middle">2.5</text>
<text x="402.3" y="1347.5" text-anchor="middle">2.0</text>
<text x="546.5" y="1383" text-anchor="middle">1.5</text>
<text x="688.9" y="1417.3" text-anchor="middle">1.0</text>
<text x="833.5" y="1452.5" text-anchor="middle">0.5</text>
<text x="977.9" y="1487.8" text-anchor="middle">0</text>
<text x="1098.8" y="1446.6" text-anchor="middle">2</text>
<text x="1219.4" y="1404.7" text-anchor="middle">4</text>
<text x="1340.2" y="1363.5" text-anchor="middle">6</text>
<text x="1459.6" y="1325.2" text-anchor="middle">8</text>
<text x="1580.4" y="1285.4" text-anchor="middle">10</text>
</g>
<g font-family="'Liberation Serif','DejaVu Serif',serif" font-size="64" fill="#000" stroke="#000" stroke-width="0.9">
<text transform="translate(72.8,1144) rotate(-90)" textLength="847" lengthAdjust="spacingAndGlyphs">Fundamental frequency (MHz)</text>
<text transform="translate(318,1413) rotate(10.3)" textLength="397" lengthAdjust="spacingAndGlyphs">Spot size (<tspan font-style="italic">μ</tspan>m)</text>
<text transform="translate(1168.4,1504) rotate(-19.6)" textLength="506" lengthAdjust="spacingAndGlyphs">Laser power (mW)</text>
</g>
<rect x="1726.3" y="356.8" width="62.100000000000136" height="803.5" fill="#fff"/>
<rect x="1726.3" y="1144.03" width="62.1" height="8.47" fill="#830075"/>
<rect x="1726.3" y="1136.16" width="62.1" height="8.47" fill="#890083"/>
<rect x="1726.3" y="1128.29" width="62.1" height="8.47" fill="#8f0091"/>
<rect x="1726.3" y="1120.42" width="62.1" height="8.47" fill="#96009f"/>
<rect x="1726.3" y="1112.56" width="62.1" height="8.47" fill="#9a00ae"/>
<rect x="1726.3" y="1104.69" width="62.1" height="8.47" fill="#9d00bd"/>
<rect x="1726.3" y="1096.82" width="62.1" height="8.47" fill="#9e00cd"/>
<rect x="1726.3" y="1088.95" width="62.1" height="8.47" fill="#9800de"/>
<rect x="1726.3" y="1081.08" width="62.1" height="8.47" fill="#9200ee"/>
<rect x="1726.3" y="1073.21" width="62.1" height="8.47" fill="#8c00ff"/>
<rect x="1726.3" y="1065.34" width="62.1" height="8.47" fill="#7100ff"/>
<rect x="1726.3" y="1057.47" width="62.1" height="8.47" fill="#5600ff"/>
<rect x="1726.3" y="1049.60" width="62.1" height="8.47" fill="#3a00ff"/>
<rect x="1726.3" y="1041.73" width="62.1" height="8.47" fill="#1f00ff"/>
<rect x="1726.3" y="1033.87" width="62.1" height="8.47" fill="#0400ff"/>
<rect x="1726.3" y="1026.00" width="62.1" height="8.47" fill="#0015ff"/>
<rect x="1726.3" y="1018.13" width="62.1" height="8.47" fill="#002dff"/>
<rect x="1726.3" y="1010.26" width="62.1" height="8.47" fill="#0043ff"/>
<rect x="1726.3" y="1002.39" width="62.1" height="8.47" fill="#0059ff"/>
<rect x="1726.3" y="994.52" width="62.1" height="8.47" fill="#006eff"/>
<rect x="1726.3" y="986.65" width="62.1" height="8.47" fill="#0082ff"/>
<rect x="1726.3" y="978.78" width="62.1" height="8.47" fill="#0095ff"/>
<rect x="1726.3" y="970.91" width="62.1" height="8.47" fill="#00a8ff"/>
<rect x="1726.3" y="963.04" width="62.1" height="8.47" fill="#00bbff"/>
<rect x="1726.3" y="955.18" width="62.1" height="8.47" fill="#00cfff"/>
<rect x="1726.3" y="947.31" width="62.1" height="8.47" fill="#00e5ff"/>
<rect x="1726.3" y="939.44" width="62.1" height="8.47" fill="#00fbff"/>
<rect x="1726.3" y="931.57" width="62.1" height="8.47" fill="#00ffe7"/>
<rect x="1726.3" y="923.70" width="62.1" height="8.47" fill="#00ffca"/>
<rect x="1726.3" y="915.83" width="62.1" height="8.47" fill="#00ff9f"/>
<rect x="1726.3" y="907.96" width="62.1" height="8.47" fill="#00ff66"/>
<rect x="1726.3" y="900.09" width="62.1" height="8.47" fill="#00ff00"/>
<rect x="1726.3" y="892.22" width="62.1" height="8.47" fill="#00ff00"/>
<rect x="1726.3" y="884.35" width="62.1" height="8.47" fill="#00ff00"/>
<rect x="1726.3" y="876.49" width="62.1" height="8.47" fill="#00ff00"/>
<rect x="1726.3" y="868.62" width="62.1" height="8.47" fill="#00ff00"/>
<rect x="1726.3" y="860.75" width="62.1" height="8.47" fill="#00ff00"/>
<rect x="1726.3" y="852.88" width="62.1" height="8.47" fill="#00ff00"/>
<rect x="1726.3" y="845.01" width="62.1" height="8.47" fill="#00ff00"/>
<rect x="1726.3" y="837.14" width="62.1" height="8.47" fill="#00ff00"/>
<rect x="1726.3" y="829.27" width="62.1" height="8.47" fill="#00ff00"/>
<rect x="1726.3" y="821.40" width="62.1" height="8.47" fill="#65ff00"/>
<rect x="1726.3" y="813.53" width="62.1" height="8.47" fill="#76ff00"/>
<rect x="1726.3" y="805.66" width="62.1" height="8.47" fill="#87ff00"/>
<rect x="1726.3" y="797.80" width="62.1" height="8.47" fill="#98ff00"/>
<rect x="1726.3" y="789.93" width="62.1" height="8.47" fill="#abff00"/>
<rect x="1726.3" y="782.06" width="62.1" height="8.47" fill="#bfff00"/>
<rect x="1726.3" y="774.19" width="62.1" height="8.47" fill="#d4ff00"/>
<rect x="1726.3" y="766.32" width="62.1" height="8.47" fill="#eaff00"/>
<rect x="1726.3" y="758.45" width="62.1" height="8.47" fill="#feff00"/>
<rect x="1726.3" y="750.58" width="62.1" height="8.47" fill="#ffff00"/>
<rect x="1726.3" y="742.71" width="62.1" height="8.47" fill="#fff300"/>
<rect x="1726.3" y="734.84" width="62.1" height="8.47" fill="#ffe500"/>
<rect x="1726.3" y="726.97" width="62.1" height="8.47" fill="#ffd600"/>
<rect x="1726.3" y="719.11" width="62.1" height="8.47" fill="#ffc700"/>
<rect x="1726.3" y="711.24" width="62.1" height="8.47" fill="#ffb800"/>
<rect x="1726.3" y="703.37" width="62.1" height="8.47" fill="#ffa900"/>
<rect x="1726.3" y="695.50" width="62.1" height="8.47" fill="#ff9a00"/>
<rect x="1726.3" y="687.63" width="62.1" height="8.47" fill="#ff8800"/>
<rect x="1726.3" y="679.76" width="62.1" height="8.47" fill="#ff7600"/>
<rect x="1726.3" y="671.89" width="62.1" height="8.47" fill="#ff6400"/>
<rect x="1726.3" y="664.02" width="62.1" height="8.47" fill="#ff5300"/>
<rect x="1726.3" y="656.15" width="62.1" height="8.47" fill="#ff4300"/>
<rect x="1726.3" y="648.28" width="62.1" height="8.47" fill="#ff3300"/>
<rect x="1726.3" y="640.41" width="62.1" height="8.47" fill="#ff2200"/>
<rect x="1726.3" y="632.55" width="62.1" height="8.47" fill="#ff0000"/>
<rect x="1726.3" y="624.68" width="62.1" height="8.47" fill="#ff0000"/>
<rect x="1726.3" y="616.81" width="62.1" height="8.47" fill="#ff0000"/>
<rect x="1726.3" y="608.94" width="62.1" height="8.47" fill="#ff0000"/>
<rect x="1726.3" y="601.07" width="62.1" height="8.47" fill="#ff0000"/>
<rect x="1726.3" y="593.20" width="62.1" height="8.47" fill="#ff0000"/>
<rect x="1726.3" y="585.33" width="62.1" height="8.47" fill="#ff0000"/>
<rect x="1726.3" y="577.46" width="62.1" height="8.47" fill="#ff0000"/>
<rect x="1726.3" y="569.59" width="62.1" height="8.47" fill="#ff0000"/>
<rect x="1726.3" y="561.73" width="62.1" height="8.47" fill="#ff0000"/>
<rect x="1726.3" y="553.86" width="62.1" height="8.47" fill="#ff0000"/>
<rect x="1726.3" y="545.99" width="62.1" height="8.47" fill="#ff0000"/>
<rect x="1726.3" y="538.12" width="62.1" height="8.47" fill="#ff0000"/>
<rect x="1726.3" y="530.25" width="62.1" height="8.47" fill="#ff0000"/>
<rect x="1726.3" y="522.38" width="62.1" height="8.47" fill="#ff0000"/>
<rect x="1726.3" y="514.51" width="62.1" height="8.47" fill="#ff0000"/>
<rect x="1726.3" y="506.64" width="62.1" height="8.47" fill="#ff0000"/>
<rect x="1726.3" y="498.77" width="62.1" height="8.47" fill="#ff0000"/>
<rect x="1726.3" y="490.90" width="62.1" height="8.47" fill="#ff0000"/>
<rect x="1726.3" y="483.03" width="62.1" height="8.47" fill="#ff0000"/>
<rect x="1726.3" y="475.17" width="62.1" height="8.47" fill="#f60000"/>
<rect x="1726.3" y="467.30" width="62.1" height="8.47" fill="#e40000"/>
<rect x="1726.3" y="459.43" width="62.1" height="8.47" fill="#d10000"/>
<rect x="1726.3" y="451.56" width="62.1" height="8.47" fill="#bf0000"/>
<rect x="1726.3" y="443.69" width="62.1" height="8.47" fill="#b80000"/>
<rect x="1726.3" y="435.82" width="62.1" height="8.47" fill="#b20000"/>
<rect x="1726.3" y="427.95" width="62.1" height="8.47" fill="#ac0000"/>
<rect x="1726.3" y="420.08" width="62.1" height="8.47" fill="#a60000"/>
<rect x="1726.3" y="412.21" width="62.1" height="8.47" fill="#a00000"/>
<rect x="1726.3" y="404.34" width="62.1" height="8.47" fill="#9a0000"/>
<rect x="1726.3" y="396.48" width="62.1" height="8.47" fill="#940000"/>
<rect x="1726.3" y="388.61" width="62.1" height="8.47" fill="#8d0000"/>
<rect x="1726.3" y="380.74" width="62.1" height="8.47" fill="#870000"/>
<rect x="1726.3" y="372.87" width="62.1" height="8.47" fill="#810000"/>
<rect x="1726.3" y="365.00" width="62.1" height="8.47" fill="#7b0000"/>
<rect x="1726.3" y="1151.9" width="62.100000000000136" height="8.399999999999864" fill="#000"/>
<rect x="1726.3" y="356.8" width="62.100000000000136" height="803.5" fill="none" stroke="#000" stroke-width="3"/>
<g font-family="'Liberation Serif','DejaVu Serif',serif" font-size="39.5" fill="#000" stroke-width="0.5">
<path d="M1788.4 1151.9h23.5" stroke="#000" stroke-width="3.6"/>
<text x="1827.5" y="1167.1" textLength="87" lengthAdjust="spacingAndGlyphs" stroke="#000">9.800</text>
<path d="M1788.4 1073.2h23.5" stroke="#000" stroke-width="3.6"/>
<text x="1827.5" y="1088.4" textLength="87" lengthAdjust="spacingAndGlyphs" stroke="#000">14.00</text>
<path d="M1788.4 994.5h23.5" stroke="#000" stroke-width="3.6"/>
<text x="1827.5" y="1009.7" textLength="87" lengthAdjust="spacingAndGlyphs" stroke="#000">18.20</text>
<path d="M1788.4 915.8h23.5" stroke="#000" stroke-width="3.6"/>
<text x="1827.5" y="931.0" textLength="87" lengthAdjust="spacingAndGlyphs" stroke="#000">22.40</text>
<path d="M1788.4 837.1h23.5" stroke="#000" stroke-width="3.6"/>
<text x="1827.5" y="852.3" textLength="87" lengthAdjust="spacingAndGlyphs" stroke="#000">26.60</text>
<path d="M1788.4 758.5h23.5" stroke="#000" stroke-width="3.6"/>
<text x="1827.5" y="773.7" textLength="87" lengthAdjust="spacingAndGlyphs" stroke="#000">30.80</text>
<path d="M1788.4 679.8h23.5" stroke="#000" stroke-width="3.6"/>
<text x="1827.5" y="695.0" textLength="87" lengthAdjust="spacingAndGlyphs" stroke="#000">35.00</text>
<path d="M1788.4 601.1h23.5" stroke="#000" stroke-width="3.6"/>
<text x="1827.5" y="616.3" textLength="87" lengthAdjust="spacingAndGlyphs" stroke="#000">39.20</text>
<path d="M1788.4 522.4h23.5" stroke="#000" stroke-width="3.6"/>
<text x="1827.5" y="537.6" textLength="87" lengthAdjust="spacingAndGlyphs" stroke="#000">43.40</text>
<path d="M1788.4 443.7h23.5" stroke="#000" stroke-width="3.6"/>
<text x="1827.5" y="458.9" textLength="87" lengthAdjust="spacingAndGlyphs" stroke="#000">47.60</text>
<path d="M1788.4 365.0h23.5" stroke="#000" stroke-width="3.6"/>
<text x="1827.5" y="380.2" textLength="87" lengthAdjust="spacingAndGlyphs" stroke="#000">51.80</text>
</g>
<g font-family="'Liberation Serif','DejaVu Serif',serif" font-size="66" fill="#000" stroke="#000" stroke-width="0.9">
<text x="1644.5" y="124.4" textLength="368" lengthAdjust="spacingAndGlyphs">Fundamental</text><text x="1690.5" y="216.3" textLength="274" lengthAdjust="spacingAndGlyphs">frequency</text><text x="1746.7" y="310.3" textLength="179" lengthAdjust="spacingAndGlyphs">(MHz)</text>
</g>
</svg>
</body></html>
